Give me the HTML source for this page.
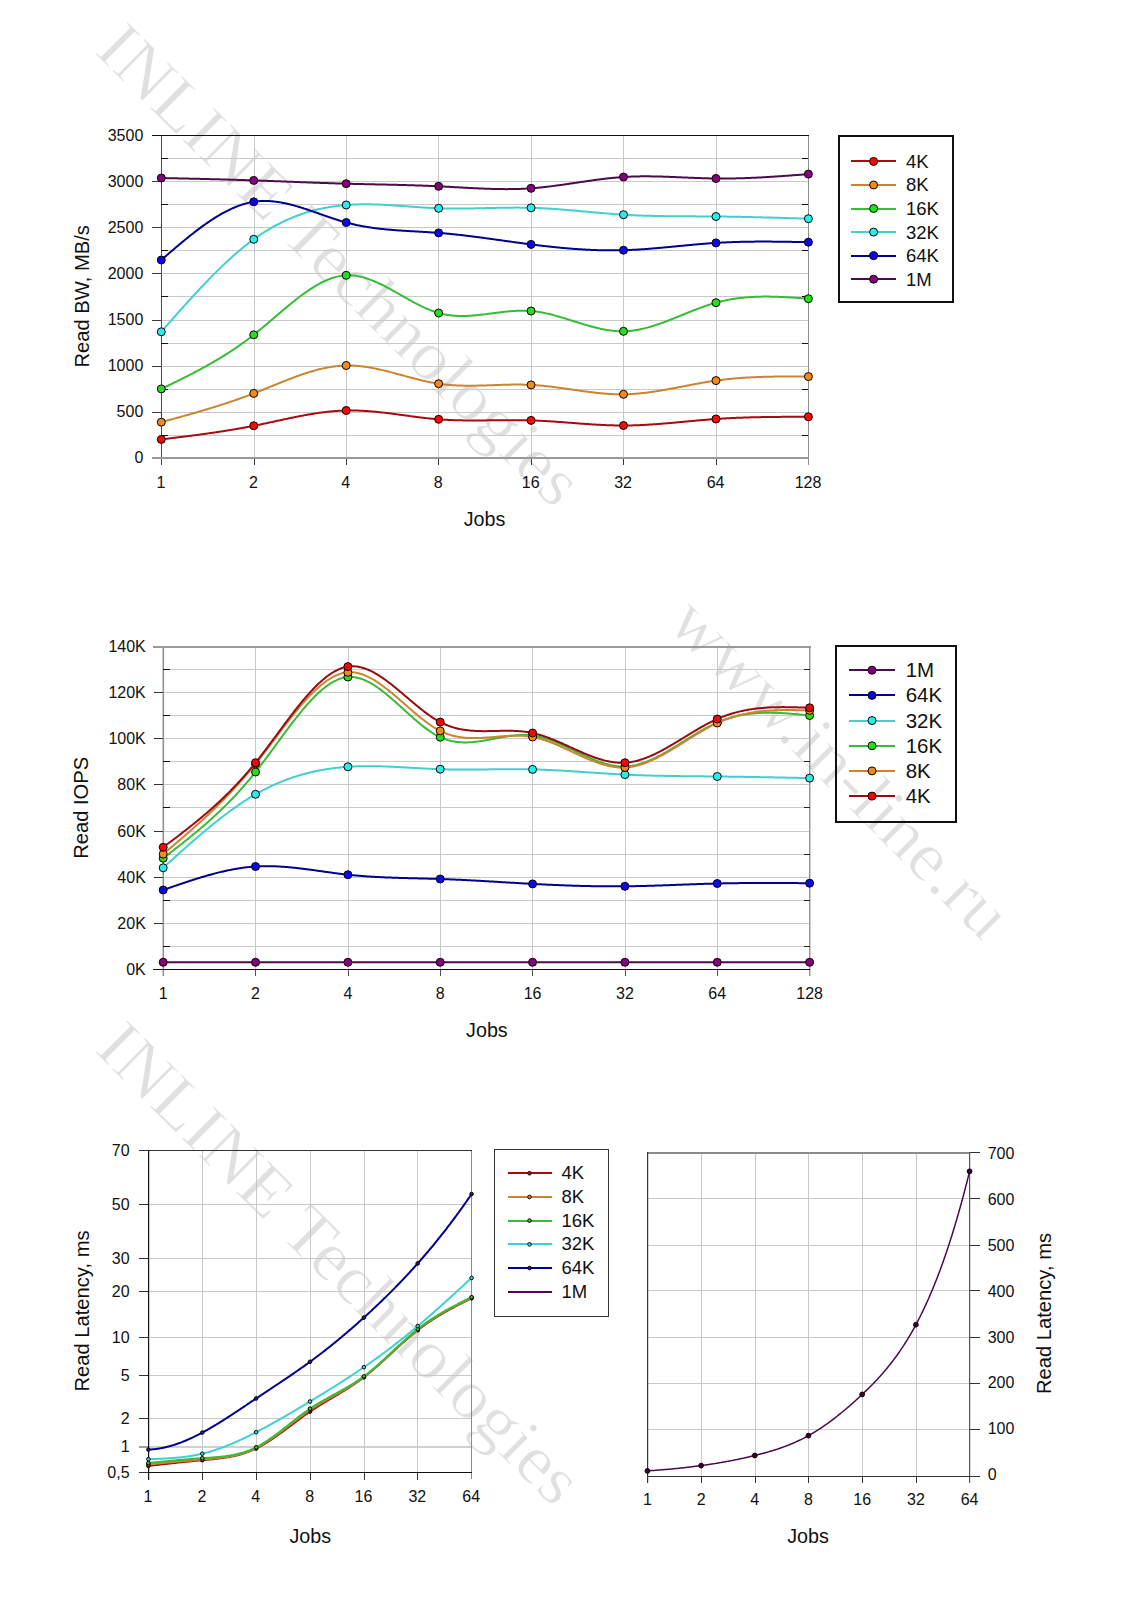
<!DOCTYPE html>
<html><head><meta charset="utf-8"><title>Read benchmark charts</title>
<style>html,body{margin:0;padding:0;background:#fff;width:1132px;height:1600px;overflow:hidden}svg{display:block}</style>
</head><body>
<svg width="1132" height="1600" viewBox="0 0 1132 1600" font-family='"Liberation Sans", sans-serif' shape-rendering="auto">
<rect width="1132" height="1600" fill="#fff"/>
<text x="0" y="0" font-family='"Liberation Serif", serif' font-size="70" fill="#e0e0e0" stroke="#fff" stroke-width="0.9" transform="translate(93.1 52) rotate(44.8) scale(1.0460 1.0000)">INLINE Technologies</text>
<text x="0" y="0" font-family='"Liberation Serif", serif' font-size="70" fill="#e0e0e0" stroke="#fff" stroke-width="0.9" transform="translate(93 1050.6) rotate(44.8) scale(1.0460 1.0000)">INLINE Technologies</text>
<text x="0" y="0" font-family='"Liberation Serif", serif' font-size="70" fill="#e0e0e0" stroke="#fff" stroke-width="0.9" transform="translate(665.75 625.1) rotate(45.04) scale(1.0610 0.9970)">www.in-line.ru</text>
<rect x="161" y="435" width="648" height="1" fill="#c9c9c9"/>
<rect x="161" y="412" width="648" height="1" fill="#c9c9c9"/>
<rect x="161" y="389" width="648" height="1" fill="#c9c9c9"/>
<rect x="161" y="366" width="648" height="1" fill="#c9c9c9"/>
<rect x="161" y="343" width="648" height="1" fill="#c9c9c9"/>
<rect x="161" y="320" width="648" height="1" fill="#c9c9c9"/>
<rect x="161" y="296" width="648" height="1" fill="#c9c9c9"/>
<rect x="161" y="273" width="648" height="1" fill="#c9c9c9"/>
<rect x="161" y="250" width="648" height="1" fill="#c9c9c9"/>
<rect x="161" y="227" width="648" height="1" fill="#c9c9c9"/>
<rect x="161" y="204" width="648" height="1" fill="#c9c9c9"/>
<rect x="161" y="181" width="648" height="1" fill="#c9c9c9"/>
<rect x="161" y="158" width="648" height="1" fill="#c9c9c9"/>
<rect x="254" y="136" width="1" height="321" fill="#c9c9c9"/>
<rect x="346" y="136" width="1" height="321" fill="#c9c9c9"/>
<rect x="438" y="136" width="1" height="321" fill="#c9c9c9"/>
<rect x="531" y="136" width="1" height="321" fill="#c9c9c9"/>
<rect x="623" y="136" width="1" height="321" fill="#c9c9c9"/>
<rect x="716" y="136" width="1" height="321" fill="#c9c9c9"/>
<rect x="808" y="135" width="1" height="330" fill="#8c8c8c"/>
<rect x="161" y="135" width="1" height="330" fill="#4a4a4a"/>
<rect x="152" y="135" width="657" height="1" fill="#111"/>
<rect x="152" y="457" width="657" height="2" fill="#999999"/>
<rect x="152" y="412" width="9" height="1" fill="#3a3a3a"/>
<rect x="152" y="366" width="9" height="1" fill="#3a3a3a"/>
<rect x="152" y="320" width="9" height="1" fill="#3a3a3a"/>
<rect x="152" y="273" width="9" height="1" fill="#3a3a3a"/>
<rect x="152" y="227" width="9" height="1" fill="#3a3a3a"/>
<rect x="152" y="181" width="9" height="1" fill="#3a3a3a"/>
<rect x="161" y="435" width="7" height="1" fill="#111"/>
<rect x="802" y="435" width="6" height="1" fill="#111"/>
<rect x="161" y="389" width="7" height="1" fill="#111"/>
<rect x="802" y="389" width="6" height="1" fill="#111"/>
<rect x="161" y="343" width="7" height="1" fill="#111"/>
<rect x="802" y="343" width="6" height="1" fill="#111"/>
<rect x="161" y="296" width="7" height="1" fill="#111"/>
<rect x="802" y="296" width="6" height="1" fill="#111"/>
<rect x="161" y="250" width="7" height="1" fill="#111"/>
<rect x="802" y="250" width="6" height="1" fill="#111"/>
<rect x="161" y="204" width="7" height="1" fill="#111"/>
<rect x="802" y="204" width="6" height="1" fill="#111"/>
<rect x="161" y="158" width="7" height="1" fill="#111"/>
<rect x="802" y="158" width="6" height="1" fill="#111"/>
<rect x="254" y="459" width="1" height="6" fill="#3a3a3a"/>
<rect x="346" y="459" width="1" height="6" fill="#3a3a3a"/>
<rect x="438" y="459" width="1" height="6" fill="#3a3a3a"/>
<rect x="531" y="459" width="1" height="6" fill="#3a3a3a"/>
<rect x="623" y="459" width="1" height="6" fill="#3a3a3a"/>
<rect x="716" y="459" width="1" height="6" fill="#3a3a3a"/>
<text x="143.3" y="463.48" font-size="16" text-anchor="end" fill="#111" >0</text>
<text x="143.3" y="417.34" font-size="16" text-anchor="end" fill="#111" >500</text>
<text x="143.3" y="371.2" font-size="16" text-anchor="end" fill="#111" >1000</text>
<text x="143.3" y="325.06" font-size="16" text-anchor="end" fill="#111" >1500</text>
<text x="143.3" y="278.92" font-size="16" text-anchor="end" fill="#111" >2000</text>
<text x="143.3" y="232.78" font-size="16" text-anchor="end" fill="#111" >2500</text>
<text x="143.3" y="186.64" font-size="16" text-anchor="end" fill="#111" >3000</text>
<text x="143.3" y="140.5" font-size="16" text-anchor="end" fill="#111" >3500</text>
<text x="160.9" y="487.6" font-size="16" text-anchor="middle" fill="#111" >1</text>
<text x="253.34" y="487.6" font-size="16" text-anchor="middle" fill="#111" >2</text>
<text x="345.79" y="487.6" font-size="16" text-anchor="middle" fill="#111" >4</text>
<text x="438.23" y="487.6" font-size="16" text-anchor="middle" fill="#111" >8</text>
<text x="530.67" y="487.6" font-size="16" text-anchor="middle" fill="#111" >16</text>
<text x="623.11" y="487.6" font-size="16" text-anchor="middle" fill="#111" >32</text>
<text x="715.56" y="487.6" font-size="16" text-anchor="middle" fill="#111" >64</text>
<text x="808" y="487.6" font-size="16" text-anchor="middle" fill="#111" >128</text>
<text x="484.5" y="526.3" font-size="19.7" text-anchor="middle" fill="#111" >Jobs</text>
<text x="88.9" y="296.3" font-size="20.2" text-anchor="middle" fill="#111" transform="rotate(-90 88.9 296.3)">Read BW, MB/s</text>
<path d="M161.3,439.4 L162.3,439.28 L163.3,439.16 L164.3,439.04 L165.3,438.91 L166.3,438.79 L167.3,438.67 L168.3,438.55 L169.3,438.43 L170.3,438.3 L171.3,438.18 L172.3,438.06 L173.3,437.94 L174.3,437.81 L175.3,437.69 L176.3,437.57 L177.3,437.44 L178.3,437.32 L179.3,437.2 L180.3,437.07 L181.3,436.95 L182.3,436.82 L183.3,436.7 L184.3,436.57 L185.3,436.44 L186.3,436.32 L187.3,436.19 L188.3,436.06 L189.3,435.93 L190.3,435.8 L191.3,435.68 L192.3,435.55 L193.3,435.41 L194.3,435.28 L195.3,435.15 L196.3,435.02 L197.3,434.89 L198.3,434.75 L199.3,434.62 L200.3,434.48 L201.3,434.35 L202.3,434.21 L203.3,434.08 L204.3,433.94 L205.3,433.8 L206.3,433.66 L207.3,433.52 L208.3,433.38 L209.3,433.24 L210.3,433.1 L211.3,432.95 L212.3,432.81 L213.3,432.66 L214.3,432.52 L215.3,432.37 L216.3,432.22 L217.3,432.07 L218.3,431.92 L219.3,431.77 L220.3,431.62 L221.3,431.46 L222.3,431.31 L223.3,431.15 L224.3,431 L225.3,430.84 L226.3,430.68 L227.3,430.52 L228.3,430.36 L229.3,430.2 L230.3,430.03 L231.3,429.87 L232.3,429.7 L233.3,429.53 L234.3,429.37 L235.3,429.2 L236.3,429.02 L237.3,428.85 L238.3,428.68 L239.3,428.5 L240.3,428.32 L241.3,428.15 L242.3,427.97 L243.3,427.78 L244.3,427.6 L245.3,427.42 L246.3,427.23 L247.3,427.04 L248.3,426.86 L249.3,426.67 L250.3,426.47 L251.3,426.28 L252.3,426.08 L253.3,425.89 L254.3,425.69 L255.3,425.49 L256.3,425.29 L257.3,425.08 L258.3,424.88 L259.3,424.67 L260.3,424.47 L261.3,424.26 L262.3,424.05 L263.3,423.84 L264.3,423.63 L265.3,423.42 L266.3,423.2 L267.3,422.99 L268.3,422.77 L269.3,422.56 L270.3,422.34 L271.3,422.13 L272.3,421.91 L273.3,421.7 L274.3,421.48 L275.3,421.26 L276.3,421.05 L277.3,420.83 L278.3,420.62 L279.3,420.4 L280.3,420.18 L281.3,419.97 L282.3,419.75 L283.3,419.54 L284.3,419.33 L285.3,419.11 L286.3,418.9 L287.3,418.69 L288.3,418.48 L289.3,418.27 L290.3,418.06 L291.3,417.85 L292.3,417.65 L293.3,417.44 L294.3,417.24 L295.3,417.04 L296.3,416.84 L297.3,416.64 L298.3,416.44 L299.3,416.25 L300.3,416.05 L301.3,415.86 L302.3,415.67 L303.3,415.49 L304.3,415.3 L305.3,415.12 L306.3,414.94 L307.3,414.76 L308.3,414.58 L309.3,414.41 L310.3,414.24 L311.3,414.07 L312.3,413.91 L313.3,413.75 L314.3,413.59 L315.3,413.43 L316.3,413.28 L317.3,413.13 L318.3,412.98 L319.3,412.84 L320.3,412.7 L321.3,412.56 L322.3,412.43 L323.3,412.3 L324.3,412.17 L325.3,412.05 L326.3,411.93 L327.3,411.82 L328.3,411.71 L329.3,411.6 L330.3,411.5 L331.3,411.4 L332.3,411.31 L333.3,411.22 L334.3,411.13 L335.3,411.05 L336.3,410.98 L337.3,410.91 L338.3,410.84 L339.3,410.78 L340.3,410.73 L341.3,410.67 L342.3,410.63 L343.3,410.59 L344.3,410.55 L345.3,410.52 L346.3,410.5 L347.3,410.48 L348.3,410.46 L349.3,410.46 L350.3,410.45 L351.3,410.45 L352.3,410.46 L353.3,410.47 L354.3,410.49 L355.3,410.51 L356.3,410.53 L357.3,410.56 L358.3,410.6 L359.3,410.64 L360.3,410.68 L361.3,410.73 L362.3,410.78 L363.3,410.83 L364.3,410.89 L365.3,410.96 L366.3,411.02 L367.3,411.09 L368.3,411.16 L369.3,411.24 L370.3,411.32 L371.3,411.4 L372.3,411.49 L373.3,411.58 L374.3,411.67 L375.3,411.77 L376.3,411.87 L377.3,411.97 L378.3,412.07 L379.3,412.17 L380.3,412.28 L381.3,412.39 L382.3,412.5 L383.3,412.62 L384.3,412.73 L385.3,412.85 L386.3,412.97 L387.3,413.09 L388.3,413.22 L389.3,413.34 L390.3,413.47 L391.3,413.59 L392.3,413.72 L393.3,413.85 L394.3,413.98 L395.3,414.11 L396.3,414.24 L397.3,414.38 L398.3,414.51 L399.3,414.64 L400.3,414.78 L401.3,414.91 L402.3,415.05 L403.3,415.18 L404.3,415.32 L405.3,415.45 L406.3,415.59 L407.3,415.72 L408.3,415.86 L409.3,415.99 L410.3,416.13 L411.3,416.26 L412.3,416.39 L413.3,416.52 L414.3,416.65 L415.3,416.78 L416.3,416.91 L417.3,417.04 L418.3,417.16 L419.3,417.29 L420.3,417.41 L421.3,417.53 L422.3,417.65 L423.3,417.77 L424.3,417.89 L425.3,418 L426.3,418.12 L427.3,418.23 L428.3,418.33 L429.3,418.44 L430.3,418.54 L431.3,418.64 L432.3,418.74 L433.3,418.84 L434.3,418.93 L435.3,419.02 L436.3,419.11 L437.3,419.19 L438.3,419.27 L439.3,419.35 L440.3,419.43 L441.3,419.5 L442.3,419.57 L443.3,419.63 L444.3,419.69 L445.3,419.75 L446.3,419.81 L447.3,419.86 L448.3,419.91 L449.3,419.96 L450.3,420 L451.3,420.05 L452.3,420.09 L453.3,420.13 L454.3,420.16 L455.3,420.19 L456.3,420.22 L457.3,420.25 L458.3,420.28 L459.3,420.3 L460.3,420.33 L461.3,420.35 L462.3,420.36 L463.3,420.38 L464.3,420.39 L465.3,420.41 L466.3,420.42 L467.3,420.43 L468.3,420.44 L469.3,420.44 L470.3,420.45 L471.3,420.45 L472.3,420.45 L473.3,420.45 L474.3,420.45 L475.3,420.45 L476.3,420.45 L477.3,420.45 L478.3,420.44 L479.3,420.44 L480.3,420.43 L481.3,420.42 L482.3,420.42 L483.3,420.41 L484.3,420.4 L485.3,420.39 L486.3,420.38 L487.3,420.37 L488.3,420.36 L489.3,420.35 L490.3,420.34 L491.3,420.32 L492.3,420.31 L493.3,420.3 L494.3,420.29 L495.3,420.28 L496.3,420.27 L497.3,420.26 L498.3,420.24 L499.3,420.23 L500.3,420.22 L501.3,420.21 L502.3,420.2 L503.3,420.19 L504.3,420.19 L505.3,420.18 L506.3,420.17 L507.3,420.17 L508.3,420.16 L509.3,420.16 L510.3,420.15 L511.3,420.15 L512.3,420.15 L513.3,420.15 L514.3,420.15 L515.3,420.15 L516.3,420.15 L517.3,420.16 L518.3,420.17 L519.3,420.17 L520.3,420.18 L521.3,420.19 L522.3,420.21 L523.3,420.22 L524.3,420.24 L525.3,420.26 L526.3,420.28 L527.3,420.3 L528.3,420.32 L529.3,420.35 L530.3,420.38 L531.3,420.41 L532.3,420.44 L533.3,420.47 L534.3,420.51 L535.3,420.55 L536.3,420.59 L537.3,420.64 L538.3,420.68 L539.3,420.73 L540.3,420.78 L541.3,420.83 L542.3,420.88 L543.3,420.93 L544.3,420.99 L545.3,421.05 L546.3,421.1 L547.3,421.16 L548.3,421.23 L549.3,421.29 L550.3,421.35 L551.3,421.42 L552.3,421.48 L553.3,421.55 L554.3,421.62 L555.3,421.69 L556.3,421.76 L557.3,421.83 L558.3,421.9 L559.3,421.97 L560.3,422.04 L561.3,422.12 L562.3,422.19 L563.3,422.27 L564.3,422.34 L565.3,422.42 L566.3,422.49 L567.3,422.57 L568.3,422.64 L569.3,422.72 L570.3,422.8 L571.3,422.87 L572.3,422.95 L573.3,423.03 L574.3,423.1 L575.3,423.18 L576.3,423.25 L577.3,423.33 L578.3,423.4 L579.3,423.48 L580.3,423.55 L581.3,423.63 L582.3,423.7 L583.3,423.77 L584.3,423.85 L585.3,423.92 L586.3,423.99 L587.3,424.06 L588.3,424.12 L589.3,424.19 L590.3,424.26 L591.3,424.32 L592.3,424.39 L593.3,424.45 L594.3,424.51 L595.3,424.57 L596.3,424.63 L597.3,424.69 L598.3,424.75 L599.3,424.8 L600.3,424.85 L601.3,424.91 L602.3,424.96 L603.3,425 L604.3,425.05 L605.3,425.09 L606.3,425.14 L607.3,425.18 L608.3,425.21 L609.3,425.25 L610.3,425.28 L611.3,425.32 L612.3,425.34 L613.3,425.37 L614.3,425.4 L615.3,425.42 L616.3,425.44 L617.3,425.46 L618.3,425.47 L619.3,425.48 L620.3,425.49 L621.3,425.5 L622.3,425.5 L623.3,425.5 L624.3,425.5 L625.3,425.49 L626.3,425.48 L627.3,425.47 L628.3,425.46 L629.3,425.44 L630.3,425.42 L631.3,425.4 L632.3,425.38 L633.3,425.35 L634.3,425.32 L635.3,425.29 L636.3,425.25 L637.3,425.22 L638.3,425.18 L639.3,425.13 L640.3,425.09 L641.3,425.05 L642.3,425 L643.3,424.95 L644.3,424.89 L645.3,424.84 L646.3,424.78 L647.3,424.73 L648.3,424.67 L649.3,424.61 L650.3,424.54 L651.3,424.48 L652.3,424.41 L653.3,424.34 L654.3,424.27 L655.3,424.2 L656.3,424.13 L657.3,424.06 L658.3,423.98 L659.3,423.9 L660.3,423.83 L661.3,423.75 L662.3,423.67 L663.3,423.59 L664.3,423.5 L665.3,423.42 L666.3,423.34 L667.3,423.25 L668.3,423.16 L669.3,423.08 L670.3,422.99 L671.3,422.9 L672.3,422.81 L673.3,422.72 L674.3,422.63 L675.3,422.54 L676.3,422.45 L677.3,422.36 L678.3,422.27 L679.3,422.18 L680.3,422.08 L681.3,421.99 L682.3,421.9 L683.3,421.8 L684.3,421.71 L685.3,421.62 L686.3,421.52 L687.3,421.43 L688.3,421.34 L689.3,421.25 L690.3,421.15 L691.3,421.06 L692.3,420.97 L693.3,420.88 L694.3,420.79 L695.3,420.69 L696.3,420.6 L697.3,420.51 L698.3,420.43 L699.3,420.34 L700.3,420.25 L701.3,420.16 L702.3,420.08 L703.3,419.99 L704.3,419.91 L705.3,419.82 L706.3,419.74 L707.3,419.66 L708.3,419.58 L709.3,419.5 L710.3,419.42 L711.3,419.34 L712.3,419.27 L713.3,419.19 L714.3,419.12 L715.3,419.05 L716.3,418.98 L717.3,418.91 L718.3,418.84 L719.3,418.77 L720.3,418.71 L721.3,418.65 L722.3,418.59 L723.3,418.53 L724.3,418.47 L725.3,418.41 L726.3,418.35 L727.3,418.3 L728.3,418.25 L729.3,418.19 L730.3,418.14 L731.3,418.09 L732.3,418.04 L733.3,418 L734.3,417.95 L735.3,417.91 L736.3,417.86 L737.3,417.82 L738.3,417.78 L739.3,417.74 L740.3,417.7 L741.3,417.66 L742.3,417.63 L743.3,417.59 L744.3,417.56 L745.3,417.52 L746.3,417.49 L747.3,417.46 L748.3,417.43 L749.3,417.4 L750.3,417.37 L751.3,417.34 L752.3,417.32 L753.3,417.29 L754.3,417.27 L755.3,417.24 L756.3,417.22 L757.3,417.2 L758.3,417.17 L759.3,417.15 L760.3,417.13 L761.3,417.12 L762.3,417.1 L763.3,417.08 L764.3,417.06 L765.3,417.05 L766.3,417.03 L767.3,417.02 L768.3,417 L769.3,416.99 L770.3,416.98 L771.3,416.96 L772.3,416.95 L773.3,416.94 L774.3,416.93 L775.3,416.92 L776.3,416.91 L777.3,416.9 L778.3,416.89 L779.3,416.89 L780.3,416.88 L781.3,416.87 L782.3,416.87 L783.3,416.86 L784.3,416.85 L785.3,416.85 L786.3,416.84 L787.3,416.84 L788.3,416.84 L789.3,416.83 L790.3,416.83 L791.3,416.83 L792.3,416.82 L793.3,416.82 L794.3,416.82 L795.3,416.82 L796.3,416.81 L797.3,416.81 L798.3,416.81 L799.3,416.81 L800.3,416.81 L801.3,416.81 L802.3,416.8 L803.3,416.8 L804.3,416.8 L805.3,416.8 L806.3,416.8 L807.3,416.8 L808.3,416.8 L808.4,416.8" fill="none" stroke="#a80a12" stroke-width="2" stroke-linejoin="round"/>
<circle cx="161.3" cy="439.4" r="4" fill="#f80808" stroke="#140000" stroke-width="1"/>
<circle cx="253.74" cy="425.8" r="4" fill="#f80808" stroke="#140000" stroke-width="1"/>
<circle cx="346.19" cy="410.5" r="4" fill="#f80808" stroke="#140000" stroke-width="1"/>
<circle cx="438.63" cy="419.3" r="4" fill="#f80808" stroke="#140000" stroke-width="1"/>
<circle cx="531.07" cy="420.4" r="4" fill="#f80808" stroke="#140000" stroke-width="1"/>
<circle cx="623.51" cy="425.5" r="4" fill="#f80808" stroke="#140000" stroke-width="1"/>
<circle cx="715.96" cy="419" r="4" fill="#f80808" stroke="#140000" stroke-width="1"/>
<circle cx="808.4" cy="416.8" r="4" fill="#f80808" stroke="#140000" stroke-width="1"/>
<path d="M161.3,422.2 L162.3,421.93 L163.3,421.65 L164.3,421.38 L165.3,421.1 L166.3,420.83 L167.3,420.56 L168.3,420.28 L169.3,420.01 L170.3,419.73 L171.3,419.46 L172.3,419.18 L173.3,418.9 L174.3,418.63 L175.3,418.35 L176.3,418.08 L177.3,417.8 L178.3,417.52 L179.3,417.24 L180.3,416.96 L181.3,416.69 L182.3,416.41 L183.3,416.13 L184.3,415.85 L185.3,415.56 L186.3,415.28 L187.3,415 L188.3,414.72 L189.3,414.43 L190.3,414.15 L191.3,413.86 L192.3,413.58 L193.3,413.29 L194.3,413 L195.3,412.71 L196.3,412.42 L197.3,412.13 L198.3,411.84 L199.3,411.55 L200.3,411.25 L201.3,410.96 L202.3,410.66 L203.3,410.37 L204.3,410.07 L205.3,409.77 L206.3,409.47 L207.3,409.17 L208.3,408.87 L209.3,408.56 L210.3,408.26 L211.3,407.95 L212.3,407.64 L213.3,407.34 L214.3,407.02 L215.3,406.71 L216.3,406.4 L217.3,406.09 L218.3,405.77 L219.3,405.45 L220.3,405.13 L221.3,404.81 L222.3,404.49 L223.3,404.17 L224.3,403.84 L225.3,403.51 L226.3,403.18 L227.3,402.85 L228.3,402.52 L229.3,402.19 L230.3,401.85 L231.3,401.51 L232.3,401.17 L233.3,400.83 L234.3,400.49 L235.3,400.14 L236.3,399.8 L237.3,399.45 L238.3,399.1 L239.3,398.74 L240.3,398.39 L241.3,398.03 L242.3,397.67 L243.3,397.31 L244.3,396.95 L245.3,396.58 L246.3,396.21 L247.3,395.84 L248.3,395.47 L249.3,395.09 L250.3,394.72 L251.3,394.34 L252.3,393.96 L253.3,393.57 L254.3,393.18 L255.3,392.8 L256.3,392.4 L257.3,392.01 L258.3,391.61 L259.3,391.22 L260.3,390.82 L261.3,390.42 L262.3,390.02 L263.3,389.61 L264.3,389.21 L265.3,388.8 L266.3,388.4 L267.3,387.99 L268.3,387.58 L269.3,387.18 L270.3,386.77 L271.3,386.36 L272.3,385.95 L273.3,385.54 L274.3,385.14 L275.3,384.73 L276.3,384.32 L277.3,383.92 L278.3,383.51 L279.3,383.11 L280.3,382.7 L281.3,382.3 L282.3,381.9 L283.3,381.5 L284.3,381.11 L285.3,380.71 L286.3,380.32 L287.3,379.92 L288.3,379.54 L289.3,379.15 L290.3,378.76 L291.3,378.38 L292.3,378 L293.3,377.63 L294.3,377.25 L295.3,376.88 L296.3,376.52 L297.3,376.15 L298.3,375.8 L299.3,375.44 L300.3,375.09 L301.3,374.74 L302.3,374.4 L303.3,374.06 L304.3,373.72 L305.3,373.39 L306.3,373.07 L307.3,372.75 L308.3,372.43 L309.3,372.12 L310.3,371.81 L311.3,371.51 L312.3,371.22 L313.3,370.93 L314.3,370.65 L315.3,370.37 L316.3,370.1 L317.3,369.83 L318.3,369.58 L319.3,369.32 L320.3,369.08 L321.3,368.84 L322.3,368.61 L323.3,368.39 L324.3,368.17 L325.3,367.96 L326.3,367.76 L327.3,367.56 L328.3,367.37 L329.3,367.2 L330.3,367.03 L331.3,366.86 L332.3,366.71 L333.3,366.56 L334.3,366.42 L335.3,366.3 L336.3,366.18 L337.3,366.07 L338.3,365.96 L339.3,365.87 L340.3,365.79 L341.3,365.72 L342.3,365.65 L343.3,365.6 L344.3,365.55 L345.3,365.52 L346.3,365.5 L347.3,365.48 L348.3,365.48 L349.3,365.49 L350.3,365.51 L351.3,365.53 L352.3,365.57 L353.3,365.61 L354.3,365.67 L355.3,365.73 L356.3,365.8 L357.3,365.88 L358.3,365.97 L359.3,366.07 L360.3,366.17 L361.3,366.29 L362.3,366.41 L363.3,366.54 L364.3,366.67 L365.3,366.81 L366.3,366.96 L367.3,367.12 L368.3,367.28 L369.3,367.45 L370.3,367.62 L371.3,367.8 L372.3,367.99 L373.3,368.18 L374.3,368.37 L375.3,368.58 L376.3,368.78 L377.3,369 L378.3,369.21 L379.3,369.43 L380.3,369.66 L381.3,369.89 L382.3,370.12 L383.3,370.36 L384.3,370.6 L385.3,370.84 L386.3,371.09 L387.3,371.34 L388.3,371.59 L389.3,371.84 L390.3,372.1 L391.3,372.36 L392.3,372.62 L393.3,372.89 L394.3,373.15 L395.3,373.42 L396.3,373.69 L397.3,373.96 L398.3,374.23 L399.3,374.5 L400.3,374.77 L401.3,375.04 L402.3,375.31 L403.3,375.58 L404.3,375.85 L405.3,376.13 L406.3,376.4 L407.3,376.67 L408.3,376.93 L409.3,377.2 L410.3,377.47 L411.3,377.73 L412.3,378 L413.3,378.26 L414.3,378.52 L415.3,378.78 L416.3,379.03 L417.3,379.28 L418.3,379.53 L419.3,379.78 L420.3,380.02 L421.3,380.26 L422.3,380.5 L423.3,380.73 L424.3,380.96 L425.3,381.18 L426.3,381.41 L427.3,381.62 L428.3,381.83 L429.3,382.04 L430.3,382.24 L431.3,382.44 L432.3,382.63 L433.3,382.81 L434.3,382.99 L435.3,383.17 L436.3,383.33 L437.3,383.5 L438.3,383.65 L439.3,383.8 L440.3,383.94 L441.3,384.08 L442.3,384.2 L443.3,384.33 L444.3,384.44 L445.3,384.55 L446.3,384.66 L447.3,384.75 L448.3,384.85 L449.3,384.93 L450.3,385.02 L451.3,385.09 L452.3,385.16 L453.3,385.23 L454.3,385.29 L455.3,385.35 L456.3,385.4 L457.3,385.45 L458.3,385.49 L459.3,385.53 L460.3,385.56 L461.3,385.59 L462.3,385.62 L463.3,385.64 L464.3,385.66 L465.3,385.67 L466.3,385.69 L467.3,385.69 L468.3,385.7 L469.3,385.7 L470.3,385.7 L471.3,385.7 L472.3,385.69 L473.3,385.68 L474.3,385.67 L475.3,385.66 L476.3,385.64 L477.3,385.62 L478.3,385.6 L479.3,385.58 L480.3,385.55 L481.3,385.53 L482.3,385.5 L483.3,385.47 L484.3,385.44 L485.3,385.41 L486.3,385.38 L487.3,385.35 L488.3,385.32 L489.3,385.28 L490.3,385.25 L491.3,385.21 L492.3,385.18 L493.3,385.14 L494.3,385.11 L495.3,385.07 L496.3,385.04 L497.3,385 L498.3,384.97 L499.3,384.93 L500.3,384.9 L501.3,384.87 L502.3,384.84 L503.3,384.81 L504.3,384.78 L505.3,384.75 L506.3,384.73 L507.3,384.7 L508.3,384.68 L509.3,384.66 L510.3,384.64 L511.3,384.62 L512.3,384.61 L513.3,384.6 L514.3,384.59 L515.3,384.58 L516.3,384.57 L517.3,384.57 L518.3,384.57 L519.3,384.58 L520.3,384.59 L521.3,384.6 L522.3,384.61 L523.3,384.63 L524.3,384.65 L525.3,384.67 L526.3,384.7 L527.3,384.74 L528.3,384.77 L529.3,384.82 L530.3,384.86 L531.3,384.91 L532.3,384.97 L533.3,385.03 L534.3,385.09 L535.3,385.16 L536.3,385.23 L537.3,385.31 L538.3,385.39 L539.3,385.47 L540.3,385.56 L541.3,385.65 L542.3,385.75 L543.3,385.84 L544.3,385.95 L545.3,386.05 L546.3,386.16 L547.3,386.27 L548.3,386.38 L549.3,386.5 L550.3,386.61 L551.3,386.73 L552.3,386.86 L553.3,386.98 L554.3,387.11 L555.3,387.24 L556.3,387.37 L557.3,387.5 L558.3,387.64 L559.3,387.77 L560.3,387.91 L561.3,388.05 L562.3,388.19 L563.3,388.33 L564.3,388.47 L565.3,388.61 L566.3,388.76 L567.3,388.9 L568.3,389.04 L569.3,389.19 L570.3,389.33 L571.3,389.48 L572.3,389.62 L573.3,389.77 L574.3,389.91 L575.3,390.05 L576.3,390.2 L577.3,390.34 L578.3,390.48 L579.3,390.63 L580.3,390.77 L581.3,390.91 L582.3,391.04 L583.3,391.18 L584.3,391.32 L585.3,391.45 L586.3,391.58 L587.3,391.71 L588.3,391.84 L589.3,391.97 L590.3,392.1 L591.3,392.22 L592.3,392.34 L593.3,392.46 L594.3,392.57 L595.3,392.68 L596.3,392.8 L597.3,392.9 L598.3,393.01 L599.3,393.11 L600.3,393.21 L601.3,393.3 L602.3,393.39 L603.3,393.48 L604.3,393.56 L605.3,393.64 L606.3,393.72 L607.3,393.79 L608.3,393.86 L609.3,393.92 L610.3,393.98 L611.3,394.04 L612.3,394.09 L613.3,394.13 L614.3,394.17 L615.3,394.21 L616.3,394.24 L617.3,394.27 L618.3,394.29 L619.3,394.3 L620.3,394.31 L621.3,394.31 L622.3,394.31 L623.3,394.3 L624.3,394.29 L625.3,394.27 L626.3,394.24 L627.3,394.21 L628.3,394.17 L629.3,394.13 L630.3,394.08 L631.3,394.03 L632.3,393.97 L633.3,393.91 L634.3,393.84 L635.3,393.76 L636.3,393.69 L637.3,393.6 L638.3,393.51 L639.3,393.42 L640.3,393.32 L641.3,393.22 L642.3,393.12 L643.3,393.01 L644.3,392.89 L645.3,392.78 L646.3,392.66 L647.3,392.53 L648.3,392.4 L649.3,392.27 L650.3,392.13 L651.3,391.99 L652.3,391.85 L653.3,391.71 L654.3,391.56 L655.3,391.4 L656.3,391.25 L657.3,391.09 L658.3,390.93 L659.3,390.77 L660.3,390.61 L661.3,390.44 L662.3,390.27 L663.3,390.1 L664.3,389.92 L665.3,389.75 L666.3,389.57 L667.3,389.39 L668.3,389.21 L669.3,389.03 L670.3,388.85 L671.3,388.66 L672.3,388.47 L673.3,388.29 L674.3,388.1 L675.3,387.91 L676.3,387.72 L677.3,387.53 L678.3,387.33 L679.3,387.14 L680.3,386.95 L681.3,386.76 L682.3,386.56 L683.3,386.37 L684.3,386.18 L685.3,385.98 L686.3,385.79 L687.3,385.6 L688.3,385.4 L689.3,385.21 L690.3,385.02 L691.3,384.83 L692.3,384.64 L693.3,384.45 L694.3,384.26 L695.3,384.07 L696.3,383.89 L697.3,383.7 L698.3,383.52 L699.3,383.33 L700.3,383.15 L701.3,382.97 L702.3,382.8 L703.3,382.62 L704.3,382.45 L705.3,382.28 L706.3,382.11 L707.3,381.94 L708.3,381.77 L709.3,381.61 L710.3,381.45 L711.3,381.29 L712.3,381.14 L713.3,380.99 L714.3,380.84 L715.3,380.69 L716.3,380.55 L717.3,380.41 L718.3,380.28 L719.3,380.14 L720.3,380.01 L721.3,379.89 L722.3,379.76 L723.3,379.64 L724.3,379.52 L725.3,379.41 L726.3,379.3 L727.3,379.19 L728.3,379.08 L729.3,378.98 L730.3,378.88 L731.3,378.78 L732.3,378.68 L733.3,378.59 L734.3,378.5 L735.3,378.41 L736.3,378.32 L737.3,378.24 L738.3,378.16 L739.3,378.08 L740.3,378.01 L741.3,377.94 L742.3,377.86 L743.3,377.8 L744.3,377.73 L745.3,377.67 L746.3,377.6 L747.3,377.54 L748.3,377.49 L749.3,377.43 L750.3,377.38 L751.3,377.33 L752.3,377.28 L753.3,377.23 L754.3,377.18 L755.3,377.14 L756.3,377.1 L757.3,377.06 L758.3,377.02 L759.3,376.98 L760.3,376.95 L761.3,376.92 L762.3,376.88 L763.3,376.85 L764.3,376.83 L765.3,376.8 L766.3,376.77 L767.3,376.75 L768.3,376.73 L769.3,376.71 L770.3,376.69 L771.3,376.67 L772.3,376.65 L773.3,376.64 L774.3,376.62 L775.3,376.61 L776.3,376.59 L777.3,376.58 L778.3,376.57 L779.3,376.56 L780.3,376.56 L781.3,376.55 L782.3,376.54 L783.3,376.54 L784.3,376.53 L785.3,376.53 L786.3,376.53 L787.3,376.53 L788.3,376.52 L789.3,376.52 L790.3,376.52 L791.3,376.52 L792.3,376.53 L793.3,376.53 L794.3,376.53 L795.3,376.53 L796.3,376.54 L797.3,376.54 L798.3,376.54 L799.3,376.55 L800.3,376.55 L801.3,376.56 L802.3,376.56 L803.3,376.57 L804.3,376.58 L805.3,376.58 L806.3,376.59 L807.3,376.59 L808.3,376.6 L808.4,376.6" fill="none" stroke="#cc8430" stroke-width="2" stroke-linejoin="round"/>
<circle cx="161.3" cy="422.2" r="4" fill="#f08a18" stroke="#140000" stroke-width="1"/>
<circle cx="253.74" cy="393.4" r="4" fill="#f08a18" stroke="#140000" stroke-width="1"/>
<circle cx="346.19" cy="365.5" r="4" fill="#f08a18" stroke="#140000" stroke-width="1"/>
<circle cx="438.63" cy="383.7" r="4" fill="#f08a18" stroke="#140000" stroke-width="1"/>
<circle cx="531.07" cy="384.9" r="4" fill="#f08a18" stroke="#140000" stroke-width="1"/>
<circle cx="623.51" cy="394.3" r="4" fill="#f08a18" stroke="#140000" stroke-width="1"/>
<circle cx="715.96" cy="380.6" r="4" fill="#f08a18" stroke="#140000" stroke-width="1"/>
<circle cx="808.4" cy="376.6" r="4" fill="#f08a18" stroke="#140000" stroke-width="1"/>
<path d="M161.3,388.9 L162.3,388.42 L163.3,387.93 L164.3,387.45 L165.3,386.96 L166.3,386.48 L167.3,385.99 L168.3,385.51 L169.3,385.02 L170.3,384.54 L171.3,384.05 L172.3,383.56 L173.3,383.07 L174.3,382.59 L175.3,382.09 L176.3,381.6 L177.3,381.11 L178.3,380.62 L179.3,380.12 L180.3,379.63 L181.3,379.13 L182.3,378.63 L183.3,378.13 L184.3,377.63 L185.3,377.13 L186.3,376.62 L187.3,376.11 L188.3,375.6 L189.3,375.09 L190.3,374.58 L191.3,374.07 L192.3,373.55 L193.3,373.03 L194.3,372.51 L195.3,371.99 L196.3,371.46 L197.3,370.93 L198.3,370.4 L199.3,369.87 L200.3,369.33 L201.3,368.79 L202.3,368.25 L203.3,367.7 L204.3,367.15 L205.3,366.6 L206.3,366.05 L207.3,365.49 L208.3,364.93 L209.3,364.37 L210.3,363.8 L211.3,363.23 L212.3,362.65 L213.3,362.07 L214.3,361.49 L215.3,360.91 L216.3,360.32 L217.3,359.72 L218.3,359.13 L219.3,358.53 L220.3,357.92 L221.3,357.31 L222.3,356.7 L223.3,356.08 L224.3,355.45 L225.3,354.83 L226.3,354.19 L227.3,353.56 L228.3,352.92 L229.3,352.27 L230.3,351.62 L231.3,350.96 L232.3,350.3 L233.3,349.64 L234.3,348.97 L235.3,348.29 L236.3,347.61 L237.3,346.92 L238.3,346.23 L239.3,345.53 L240.3,344.83 L241.3,344.12 L242.3,343.41 L243.3,342.69 L244.3,341.96 L245.3,341.23 L246.3,340.49 L247.3,339.74 L248.3,338.99 L249.3,338.24 L250.3,337.47 L251.3,336.71 L252.3,335.93 L253.3,335.15 L254.3,334.36 L255.3,333.56 L256.3,332.76 L257.3,331.96 L258.3,331.14 L259.3,330.33 L260.3,329.51 L261.3,328.68 L262.3,327.85 L263.3,327.01 L264.3,326.17 L265.3,325.33 L266.3,324.49 L267.3,323.64 L268.3,322.79 L269.3,321.94 L270.3,321.09 L271.3,320.23 L272.3,319.38 L273.3,318.52 L274.3,317.66 L275.3,316.81 L276.3,315.95 L277.3,315.09 L278.3,314.24 L279.3,313.38 L280.3,312.53 L281.3,311.68 L282.3,310.83 L283.3,309.98 L284.3,309.14 L285.3,308.3 L286.3,307.46 L287.3,306.63 L288.3,305.8 L289.3,304.97 L290.3,304.15 L291.3,303.34 L292.3,302.53 L293.3,301.72 L294.3,300.92 L295.3,300.13 L296.3,299.34 L297.3,298.56 L298.3,297.79 L299.3,297.03 L300.3,296.27 L301.3,295.52 L302.3,294.78 L303.3,294.05 L304.3,293.32 L305.3,292.61 L306.3,291.91 L307.3,291.21 L308.3,290.53 L309.3,289.86 L310.3,289.19 L311.3,288.54 L312.3,287.9 L313.3,287.28 L314.3,286.66 L315.3,286.06 L316.3,285.47 L317.3,284.89 L318.3,284.33 L319.3,283.78 L320.3,283.24 L321.3,282.72 L322.3,282.22 L323.3,281.73 L324.3,281.25 L325.3,280.79 L326.3,280.34 L327.3,279.92 L328.3,279.5 L329.3,279.11 L330.3,278.73 L331.3,278.37 L332.3,278.03 L333.3,277.71 L334.3,277.4 L335.3,277.11 L336.3,276.85 L337.3,276.6 L338.3,276.37 L339.3,276.16 L340.3,275.98 L341.3,275.81 L342.3,275.66 L343.3,275.54 L344.3,275.43 L345.3,275.35 L346.3,275.29 L347.3,275.26 L348.3,275.24 L349.3,275.25 L350.3,275.28 L351.3,275.33 L352.3,275.4 L353.3,275.49 L354.3,275.6 L355.3,275.73 L356.3,275.87 L357.3,276.04 L358.3,276.22 L359.3,276.43 L360.3,276.65 L361.3,276.88 L362.3,277.13 L363.3,277.4 L364.3,277.68 L365.3,277.98 L366.3,278.3 L367.3,278.62 L368.3,278.96 L369.3,279.32 L370.3,279.69 L371.3,280.07 L372.3,280.46 L373.3,280.87 L374.3,281.28 L375.3,281.71 L376.3,282.15 L377.3,282.59 L378.3,283.05 L379.3,283.52 L380.3,284 L381.3,284.48 L382.3,284.97 L383.3,285.47 L384.3,285.98 L385.3,286.5 L386.3,287.02 L387.3,287.54 L388.3,288.08 L389.3,288.62 L390.3,289.16 L391.3,289.71 L392.3,290.26 L393.3,290.81 L394.3,291.37 L395.3,291.93 L396.3,292.5 L397.3,293.06 L398.3,293.63 L399.3,294.2 L400.3,294.77 L401.3,295.34 L402.3,295.91 L403.3,296.47 L404.3,297.04 L405.3,297.61 L406.3,298.18 L407.3,298.74 L408.3,299.3 L409.3,299.86 L410.3,300.41 L411.3,300.96 L412.3,301.51 L413.3,302.05 L414.3,302.59 L415.3,303.12 L416.3,303.64 L417.3,304.16 L418.3,304.67 L419.3,305.18 L420.3,305.68 L421.3,306.17 L422.3,306.65 L423.3,307.12 L424.3,307.59 L425.3,308.04 L426.3,308.49 L427.3,308.92 L428.3,309.35 L429.3,309.76 L430.3,310.16 L431.3,310.55 L432.3,310.93 L433.3,311.29 L434.3,311.64 L435.3,311.98 L436.3,312.3 L437.3,312.61 L438.3,312.91 L439.3,313.19 L440.3,313.45 L441.3,313.7 L442.3,313.93 L443.3,314.15 L444.3,314.36 L445.3,314.55 L446.3,314.73 L447.3,314.89 L448.3,315.05 L449.3,315.19 L450.3,315.31 L451.3,315.43 L452.3,315.53 L453.3,315.63 L454.3,315.71 L455.3,315.78 L456.3,315.84 L457.3,315.89 L458.3,315.93 L459.3,315.96 L460.3,315.98 L461.3,315.99 L462.3,315.99 L463.3,315.98 L464.3,315.97 L465.3,315.94 L466.3,315.91 L467.3,315.88 L468.3,315.83 L469.3,315.78 L470.3,315.72 L471.3,315.65 L472.3,315.58 L473.3,315.51 L474.3,315.42 L475.3,315.34 L476.3,315.25 L477.3,315.15 L478.3,315.05 L479.3,314.94 L480.3,314.83 L481.3,314.72 L482.3,314.6 L483.3,314.49 L484.3,314.37 L485.3,314.24 L486.3,314.12 L487.3,313.99 L488.3,313.86 L489.3,313.73 L490.3,313.6 L491.3,313.47 L492.3,313.34 L493.3,313.21 L494.3,313.07 L495.3,312.94 L496.3,312.81 L497.3,312.69 L498.3,312.56 L499.3,312.43 L500.3,312.31 L501.3,312.19 L502.3,312.07 L503.3,311.95 L504.3,311.84 L505.3,311.73 L506.3,311.62 L507.3,311.52 L508.3,311.42 L509.3,311.33 L510.3,311.24 L511.3,311.16 L512.3,311.08 L513.3,311.01 L514.3,310.95 L515.3,310.89 L516.3,310.83 L517.3,310.79 L518.3,310.75 L519.3,310.72 L520.3,310.69 L521.3,310.68 L522.3,310.67 L523.3,310.67 L524.3,310.68 L525.3,310.7 L526.3,310.73 L527.3,310.76 L528.3,310.81 L529.3,310.87 L530.3,310.94 L531.3,311.02 L532.3,311.11 L533.3,311.21 L534.3,311.32 L535.3,311.45 L536.3,311.58 L537.3,311.72 L538.3,311.87 L539.3,312.03 L540.3,312.2 L541.3,312.38 L542.3,312.56 L543.3,312.76 L544.3,312.96 L545.3,313.17 L546.3,313.39 L547.3,313.61 L548.3,313.84 L549.3,314.08 L550.3,314.33 L551.3,314.58 L552.3,314.83 L553.3,315.09 L554.3,315.36 L555.3,315.63 L556.3,315.91 L557.3,316.19 L558.3,316.47 L559.3,316.76 L560.3,317.05 L561.3,317.35 L562.3,317.65 L563.3,317.95 L564.3,318.25 L565.3,318.56 L566.3,318.87 L567.3,319.18 L568.3,319.49 L569.3,319.8 L570.3,320.12 L571.3,320.43 L572.3,320.75 L573.3,321.06 L574.3,321.38 L575.3,321.69 L576.3,322.01 L577.3,322.32 L578.3,322.63 L579.3,322.94 L580.3,323.25 L581.3,323.56 L582.3,323.87 L583.3,324.17 L584.3,324.47 L585.3,324.77 L586.3,325.06 L587.3,325.35 L588.3,325.64 L589.3,325.93 L590.3,326.2 L591.3,326.48 L592.3,326.75 L593.3,327.01 L594.3,327.27 L595.3,327.53 L596.3,327.77 L597.3,328.02 L598.3,328.25 L599.3,328.48 L600.3,328.7 L601.3,328.92 L602.3,329.13 L603.3,329.33 L604.3,329.52 L605.3,329.7 L606.3,329.88 L607.3,330.04 L608.3,330.2 L609.3,330.35 L610.3,330.49 L611.3,330.62 L612.3,330.73 L613.3,330.84 L614.3,330.94 L615.3,331.03 L616.3,331.1 L617.3,331.17 L618.3,331.22 L619.3,331.26 L620.3,331.29 L621.3,331.31 L622.3,331.31 L623.3,331.3 L624.3,331.28 L625.3,331.25 L626.3,331.2 L627.3,331.14 L628.3,331.06 L629.3,330.98 L630.3,330.88 L631.3,330.77 L632.3,330.65 L633.3,330.52 L634.3,330.38 L635.3,330.22 L636.3,330.06 L637.3,329.89 L638.3,329.7 L639.3,329.51 L640.3,329.3 L641.3,329.09 L642.3,328.86 L643.3,328.63 L644.3,328.39 L645.3,328.14 L646.3,327.88 L647.3,327.62 L648.3,327.34 L649.3,327.06 L650.3,326.77 L651.3,326.48 L652.3,326.18 L653.3,325.87 L654.3,325.55 L655.3,325.23 L656.3,324.9 L657.3,324.56 L658.3,324.22 L659.3,323.88 L660.3,323.53 L661.3,323.17 L662.3,322.81 L663.3,322.45 L664.3,322.08 L665.3,321.7 L666.3,321.33 L667.3,320.95 L668.3,320.56 L669.3,320.17 L670.3,319.78 L671.3,319.39 L672.3,319 L673.3,318.6 L674.3,318.2 L675.3,317.8 L676.3,317.4 L677.3,316.99 L678.3,316.59 L679.3,316.18 L680.3,315.77 L681.3,315.37 L682.3,314.96 L683.3,314.55 L684.3,314.15 L685.3,313.74 L686.3,313.33 L687.3,312.93 L688.3,312.52 L689.3,312.12 L690.3,311.72 L691.3,311.32 L692.3,310.93 L693.3,310.53 L694.3,310.14 L695.3,309.75 L696.3,309.36 L697.3,308.98 L698.3,308.6 L699.3,308.22 L700.3,307.85 L701.3,307.48 L702.3,307.12 L703.3,306.76 L704.3,306.41 L705.3,306.06 L706.3,305.71 L707.3,305.37 L708.3,305.04 L709.3,304.71 L710.3,304.39 L711.3,304.08 L712.3,303.77 L713.3,303.47 L714.3,303.17 L715.3,302.88 L716.3,302.6 L717.3,302.33 L718.3,302.07 L719.3,301.81 L720.3,301.56 L721.3,301.32 L722.3,301.08 L723.3,300.86 L724.3,300.63 L725.3,300.42 L726.3,300.21 L727.3,300.01 L728.3,299.82 L729.3,299.63 L730.3,299.45 L731.3,299.28 L732.3,299.11 L733.3,298.95 L734.3,298.79 L735.3,298.64 L736.3,298.5 L737.3,298.36 L738.3,298.23 L739.3,298.1 L740.3,297.98 L741.3,297.87 L742.3,297.76 L743.3,297.66 L744.3,297.56 L745.3,297.47 L746.3,297.38 L747.3,297.3 L748.3,297.22 L749.3,297.15 L750.3,297.08 L751.3,297.02 L752.3,296.96 L753.3,296.91 L754.3,296.86 L755.3,296.81 L756.3,296.77 L757.3,296.74 L758.3,296.71 L759.3,296.68 L760.3,296.66 L761.3,296.64 L762.3,296.62 L763.3,296.61 L764.3,296.6 L765.3,296.6 L766.3,296.6 L767.3,296.6 L768.3,296.61 L769.3,296.62 L770.3,296.63 L771.3,296.65 L772.3,296.66 L773.3,296.69 L774.3,296.71 L775.3,296.74 L776.3,296.77 L777.3,296.8 L778.3,296.84 L779.3,296.88 L780.3,296.92 L781.3,296.96 L782.3,297 L783.3,297.05 L784.3,297.1 L785.3,297.15 L786.3,297.21 L787.3,297.26 L788.3,297.32 L789.3,297.38 L790.3,297.44 L791.3,297.5 L792.3,297.56 L793.3,297.62 L794.3,297.69 L795.3,297.76 L796.3,297.82 L797.3,297.89 L798.3,297.96 L799.3,298.03 L800.3,298.11 L801.3,298.18 L802.3,298.25 L803.3,298.32 L804.3,298.4 L805.3,298.47 L806.3,298.54 L807.3,298.62 L808.3,298.69 L808.4,298.7" fill="none" stroke="#36bc36" stroke-width="2" stroke-linejoin="round"/>
<circle cx="161.3" cy="388.9" r="4" fill="#20e020" stroke="#140000" stroke-width="1"/>
<circle cx="253.74" cy="334.8" r="4" fill="#20e020" stroke="#140000" stroke-width="1"/>
<circle cx="346.19" cy="275.3" r="4" fill="#20e020" stroke="#140000" stroke-width="1"/>
<circle cx="438.63" cy="313" r="4" fill="#20e020" stroke="#140000" stroke-width="1"/>
<circle cx="531.07" cy="311" r="4" fill="#20e020" stroke="#140000" stroke-width="1"/>
<circle cx="623.51" cy="331.3" r="4" fill="#20e020" stroke="#140000" stroke-width="1"/>
<circle cx="715.96" cy="302.7" r="4" fill="#20e020" stroke="#140000" stroke-width="1"/>
<circle cx="808.4" cy="298.7" r="4" fill="#20e020" stroke="#140000" stroke-width="1"/>
<path d="M161.3,331.8 L162.3,330.66 L163.3,329.52 L164.3,328.38 L165.3,327.25 L166.3,326.11 L167.3,324.97 L168.3,323.83 L169.3,322.7 L170.3,321.56 L171.3,320.43 L172.3,319.29 L173.3,318.16 L174.3,317.03 L175.3,315.9 L176.3,314.77 L177.3,313.64 L178.3,312.52 L179.3,311.4 L180.3,310.27 L181.3,309.15 L182.3,308.03 L183.3,306.92 L184.3,305.8 L185.3,304.69 L186.3,303.58 L187.3,302.47 L188.3,301.37 L189.3,300.27 L190.3,299.17 L191.3,298.07 L192.3,296.98 L193.3,295.89 L194.3,294.8 L195.3,293.72 L196.3,292.63 L197.3,291.56 L198.3,290.48 L199.3,289.41 L200.3,288.35 L201.3,287.28 L202.3,286.22 L203.3,285.17 L204.3,284.12 L205.3,283.07 L206.3,282.03 L207.3,280.99 L208.3,279.95 L209.3,278.92 L210.3,277.9 L211.3,276.88 L212.3,275.87 L213.3,274.85 L214.3,273.85 L215.3,272.85 L216.3,271.86 L217.3,270.87 L218.3,269.88 L219.3,268.9 L220.3,267.93 L221.3,266.96 L222.3,266 L223.3,265.05 L224.3,264.1 L225.3,263.15 L226.3,262.22 L227.3,261.29 L228.3,260.36 L229.3,259.44 L230.3,258.53 L231.3,257.63 L232.3,256.73 L233.3,255.84 L234.3,254.96 L235.3,254.08 L236.3,253.21 L237.3,252.35 L238.3,251.49 L239.3,250.65 L240.3,249.81 L241.3,248.97 L242.3,248.15 L243.3,247.33 L244.3,246.52 L245.3,245.72 L246.3,244.93 L247.3,244.15 L248.3,243.37 L249.3,242.6 L250.3,241.85 L251.3,241.1 L252.3,240.35 L253.3,239.62 L254.3,238.9 L255.3,238.18 L256.3,237.48 L257.3,236.78 L258.3,236.09 L259.3,235.41 L260.3,234.74 L261.3,234.08 L262.3,233.43 L263.3,232.78 L264.3,232.15 L265.3,231.52 L266.3,230.9 L267.3,230.29 L268.3,229.69 L269.3,229.09 L270.3,228.51 L271.3,227.93 L272.3,227.36 L273.3,226.8 L274.3,226.25 L275.3,225.7 L276.3,225.16 L277.3,224.64 L278.3,224.11 L279.3,223.6 L280.3,223.1 L281.3,222.6 L282.3,222.11 L283.3,221.63 L284.3,221.15 L285.3,220.69 L286.3,220.23 L287.3,219.78 L288.3,219.33 L289.3,218.9 L290.3,218.47 L291.3,218.05 L292.3,217.63 L293.3,217.23 L294.3,216.83 L295.3,216.43 L296.3,216.05 L297.3,215.67 L298.3,215.3 L299.3,214.94 L300.3,214.58 L301.3,214.23 L302.3,213.89 L303.3,213.55 L304.3,213.22 L305.3,212.9 L306.3,212.58 L307.3,212.27 L308.3,211.97 L309.3,211.68 L310.3,211.39 L311.3,211.1 L312.3,210.83 L313.3,210.56 L314.3,210.3 L315.3,210.04 L316.3,209.79 L317.3,209.54 L318.3,209.31 L319.3,209.07 L320.3,208.85 L321.3,208.63 L322.3,208.41 L323.3,208.21 L324.3,208.01 L325.3,207.81 L326.3,207.62 L327.3,207.44 L328.3,207.26 L329.3,207.08 L330.3,206.92 L331.3,206.76 L332.3,206.6 L333.3,206.45 L334.3,206.31 L335.3,206.17 L336.3,206.03 L337.3,205.91 L338.3,205.78 L339.3,205.67 L340.3,205.55 L341.3,205.45 L342.3,205.35 L343.3,205.25 L344.3,205.16 L345.3,205.07 L346.3,204.99 L347.3,204.91 L348.3,204.84 L349.3,204.78 L350.3,204.71 L351.3,204.66 L352.3,204.6 L353.3,204.56 L354.3,204.51 L355.3,204.47 L356.3,204.44 L357.3,204.41 L358.3,204.38 L359.3,204.36 L360.3,204.34 L361.3,204.32 L362.3,204.31 L363.3,204.3 L364.3,204.3 L365.3,204.3 L366.3,204.3 L367.3,204.31 L368.3,204.32 L369.3,204.33 L370.3,204.35 L371.3,204.36 L372.3,204.39 L373.3,204.41 L374.3,204.44 L375.3,204.47 L376.3,204.5 L377.3,204.54 L378.3,204.57 L379.3,204.61 L380.3,204.66 L381.3,204.7 L382.3,204.75 L383.3,204.8 L384.3,204.85 L385.3,204.9 L386.3,204.95 L387.3,205.01 L388.3,205.07 L389.3,205.13 L390.3,205.19 L391.3,205.25 L392.3,205.31 L393.3,205.38 L394.3,205.45 L395.3,205.51 L396.3,205.58 L397.3,205.65 L398.3,205.72 L399.3,205.79 L400.3,205.86 L401.3,205.93 L402.3,206.01 L403.3,206.08 L404.3,206.15 L405.3,206.23 L406.3,206.3 L407.3,206.37 L408.3,206.45 L409.3,206.52 L410.3,206.6 L411.3,206.67 L412.3,206.74 L413.3,206.82 L414.3,206.89 L415.3,206.96 L416.3,207.03 L417.3,207.1 L418.3,207.17 L419.3,207.24 L420.3,207.31 L421.3,207.38 L422.3,207.44 L423.3,207.51 L424.3,207.57 L425.3,207.64 L426.3,207.7 L427.3,207.76 L428.3,207.81 L429.3,207.87 L430.3,207.92 L431.3,207.98 L432.3,208.03 L433.3,208.08 L434.3,208.12 L435.3,208.17 L436.3,208.21 L437.3,208.25 L438.3,208.29 L439.3,208.32 L440.3,208.36 L441.3,208.39 L442.3,208.41 L443.3,208.44 L444.3,208.46 L445.3,208.48 L446.3,208.5 L447.3,208.52 L448.3,208.54 L449.3,208.55 L450.3,208.56 L451.3,208.57 L452.3,208.58 L453.3,208.58 L454.3,208.59 L455.3,208.59 L456.3,208.59 L457.3,208.59 L458.3,208.58 L459.3,208.58 L460.3,208.58 L461.3,208.57 L462.3,208.56 L463.3,208.55 L464.3,208.54 L465.3,208.53 L466.3,208.52 L467.3,208.5 L468.3,208.49 L469.3,208.47 L470.3,208.45 L471.3,208.44 L472.3,208.42 L473.3,208.4 L474.3,208.38 L475.3,208.36 L476.3,208.34 L477.3,208.32 L478.3,208.29 L479.3,208.27 L480.3,208.25 L481.3,208.23 L482.3,208.2 L483.3,208.18 L484.3,208.16 L485.3,208.13 L486.3,208.11 L487.3,208.08 L488.3,208.06 L489.3,208.04 L490.3,208.01 L491.3,207.99 L492.3,207.96 L493.3,207.94 L494.3,207.92 L495.3,207.9 L496.3,207.88 L497.3,207.85 L498.3,207.83 L499.3,207.81 L500.3,207.79 L501.3,207.78 L502.3,207.76 L503.3,207.74 L504.3,207.72 L505.3,207.71 L506.3,207.69 L507.3,207.68 L508.3,207.67 L509.3,207.66 L510.3,207.65 L511.3,207.64 L512.3,207.63 L513.3,207.63 L514.3,207.62 L515.3,207.62 L516.3,207.62 L517.3,207.62 L518.3,207.62 L519.3,207.62 L520.3,207.63 L521.3,207.63 L522.3,207.64 L523.3,207.65 L524.3,207.66 L525.3,207.68 L526.3,207.69 L527.3,207.71 L528.3,207.73 L529.3,207.75 L530.3,207.78 L531.3,207.81 L532.3,207.84 L533.3,207.87 L534.3,207.9 L535.3,207.94 L536.3,207.98 L537.3,208.02 L538.3,208.06 L539.3,208.1 L540.3,208.15 L541.3,208.2 L542.3,208.25 L543.3,208.3 L544.3,208.35 L545.3,208.41 L546.3,208.47 L547.3,208.52 L548.3,208.59 L549.3,208.65 L550.3,208.71 L551.3,208.78 L552.3,208.84 L553.3,208.91 L554.3,208.98 L555.3,209.05 L556.3,209.12 L557.3,209.2 L558.3,209.27 L559.3,209.35 L560.3,209.42 L561.3,209.5 L562.3,209.58 L563.3,209.66 L564.3,209.74 L565.3,209.82 L566.3,209.91 L567.3,209.99 L568.3,210.07 L569.3,210.16 L570.3,210.25 L571.3,210.33 L572.3,210.42 L573.3,210.51 L574.3,210.59 L575.3,210.68 L576.3,210.77 L577.3,210.86 L578.3,210.95 L579.3,211.04 L580.3,211.13 L581.3,211.22 L582.3,211.31 L583.3,211.41 L584.3,211.5 L585.3,211.59 L586.3,211.68 L587.3,211.77 L588.3,211.86 L589.3,211.95 L590.3,212.04 L591.3,212.13 L592.3,212.22 L593.3,212.32 L594.3,212.4 L595.3,212.49 L596.3,212.58 L597.3,212.67 L598.3,212.76 L599.3,212.85 L600.3,212.94 L601.3,213.02 L602.3,213.11 L603.3,213.19 L604.3,213.28 L605.3,213.36 L606.3,213.44 L607.3,213.53 L608.3,213.61 L609.3,213.69 L610.3,213.77 L611.3,213.85 L612.3,213.92 L613.3,214 L614.3,214.07 L615.3,214.15 L616.3,214.22 L617.3,214.29 L618.3,214.36 L619.3,214.43 L620.3,214.49 L621.3,214.56 L622.3,214.62 L623.3,214.69 L624.3,214.75 L625.3,214.81 L626.3,214.86 L627.3,214.92 L628.3,214.98 L629.3,215.03 L630.3,215.08 L631.3,215.13 L632.3,215.18 L633.3,215.23 L634.3,215.27 L635.3,215.32 L636.3,215.36 L637.3,215.4 L638.3,215.44 L639.3,215.48 L640.3,215.52 L641.3,215.56 L642.3,215.6 L643.3,215.63 L644.3,215.66 L645.3,215.7 L646.3,215.73 L647.3,215.76 L648.3,215.79 L649.3,215.82 L650.3,215.84 L651.3,215.87 L652.3,215.89 L653.3,215.92 L654.3,215.94 L655.3,215.96 L656.3,215.99 L657.3,216.01 L658.3,216.03 L659.3,216.05 L660.3,216.06 L661.3,216.08 L662.3,216.1 L663.3,216.11 L664.3,216.13 L665.3,216.14 L666.3,216.16 L667.3,216.17 L668.3,216.18 L669.3,216.2 L670.3,216.21 L671.3,216.22 L672.3,216.23 L673.3,216.24 L674.3,216.25 L675.3,216.26 L676.3,216.26 L677.3,216.27 L678.3,216.28 L679.3,216.29 L680.3,216.3 L681.3,216.3 L682.3,216.31 L683.3,216.31 L684.3,216.32 L685.3,216.33 L686.3,216.33 L687.3,216.34 L688.3,216.34 L689.3,216.35 L690.3,216.35 L691.3,216.36 L692.3,216.36 L693.3,216.36 L694.3,216.37 L695.3,216.37 L696.3,216.38 L697.3,216.38 L698.3,216.39 L699.3,216.39 L700.3,216.4 L701.3,216.4 L702.3,216.41 L703.3,216.41 L704.3,216.42 L705.3,216.42 L706.3,216.43 L707.3,216.43 L708.3,216.44 L709.3,216.45 L710.3,216.45 L711.3,216.46 L712.3,216.47 L713.3,216.48 L714.3,216.49 L715.3,216.49 L716.3,216.5 L717.3,216.51 L718.3,216.52 L719.3,216.53 L720.3,216.55 L721.3,216.56 L722.3,216.57 L723.3,216.58 L724.3,216.59 L725.3,216.61 L726.3,216.62 L727.3,216.64 L728.3,216.65 L729.3,216.66 L730.3,216.68 L731.3,216.7 L732.3,216.71 L733.3,216.73 L734.3,216.75 L735.3,216.76 L736.3,216.78 L737.3,216.8 L738.3,216.82 L739.3,216.84 L740.3,216.85 L741.3,216.87 L742.3,216.89 L743.3,216.91 L744.3,216.93 L745.3,216.96 L746.3,216.98 L747.3,217 L748.3,217.02 L749.3,217.04 L750.3,217.06 L751.3,217.09 L752.3,217.11 L753.3,217.13 L754.3,217.16 L755.3,217.18 L756.3,217.2 L757.3,217.23 L758.3,217.25 L759.3,217.28 L760.3,217.3 L761.3,217.33 L762.3,217.35 L763.3,217.38 L764.3,217.4 L765.3,217.43 L766.3,217.46 L767.3,217.48 L768.3,217.51 L769.3,217.54 L770.3,217.57 L771.3,217.59 L772.3,217.62 L773.3,217.65 L774.3,217.68 L775.3,217.7 L776.3,217.73 L777.3,217.76 L778.3,217.79 L779.3,217.82 L780.3,217.85 L781.3,217.88 L782.3,217.91 L783.3,217.93 L784.3,217.96 L785.3,217.99 L786.3,218.02 L787.3,218.05 L788.3,218.08 L789.3,218.11 L790.3,218.14 L791.3,218.17 L792.3,218.2 L793.3,218.23 L794.3,218.27 L795.3,218.3 L796.3,218.33 L797.3,218.36 L798.3,218.39 L799.3,218.42 L800.3,218.45 L801.3,218.48 L802.3,218.51 L803.3,218.54 L804.3,218.57 L805.3,218.6 L806.3,218.63 L807.3,218.67 L808.3,218.7 L808.4,218.7" fill="none" stroke="#40d0d0" stroke-width="2" stroke-linejoin="round"/>
<circle cx="161.3" cy="331.8" r="4" fill="#28ecee" stroke="#140000" stroke-width="1"/>
<circle cx="253.74" cy="239.3" r="4" fill="#28ecee" stroke="#140000" stroke-width="1"/>
<circle cx="346.19" cy="205" r="4" fill="#28ecee" stroke="#140000" stroke-width="1"/>
<circle cx="438.63" cy="208.3" r="4" fill="#28ecee" stroke="#140000" stroke-width="1"/>
<circle cx="531.07" cy="207.8" r="4" fill="#28ecee" stroke="#140000" stroke-width="1"/>
<circle cx="623.51" cy="214.7" r="4" fill="#28ecee" stroke="#140000" stroke-width="1"/>
<circle cx="715.96" cy="216.5" r="4" fill="#28ecee" stroke="#140000" stroke-width="1"/>
<circle cx="808.4" cy="218.7" r="4" fill="#28ecee" stroke="#140000" stroke-width="1"/>
<path d="M161.3,260 L162.3,259.13 L163.3,258.27 L164.3,257.4 L165.3,256.54 L166.3,255.67 L167.3,254.81 L168.3,253.94 L169.3,253.08 L170.3,252.22 L171.3,251.36 L172.3,250.5 L173.3,249.65 L174.3,248.8 L175.3,247.94 L176.3,247.09 L177.3,246.25 L178.3,245.4 L179.3,244.56 L180.3,243.72 L181.3,242.89 L182.3,242.06 L183.3,241.23 L184.3,240.41 L185.3,239.59 L186.3,238.77 L187.3,237.96 L188.3,237.15 L189.3,236.34 L190.3,235.55 L191.3,234.75 L192.3,233.96 L193.3,233.18 L194.3,232.4 L195.3,231.63 L196.3,230.86 L197.3,230.1 L198.3,229.34 L199.3,228.59 L200.3,227.85 L201.3,227.11 L202.3,226.38 L203.3,225.66 L204.3,224.94 L205.3,224.23 L206.3,223.53 L207.3,222.84 L208.3,222.15 L209.3,221.47 L210.3,220.8 L211.3,220.14 L212.3,219.48 L213.3,218.84 L214.3,218.2 L215.3,217.57 L216.3,216.95 L217.3,216.34 L218.3,215.74 L219.3,215.15 L220.3,214.57 L221.3,213.99 L222.3,213.43 L223.3,212.88 L224.3,212.34 L225.3,211.81 L226.3,211.29 L227.3,210.78 L228.3,210.28 L229.3,209.79 L230.3,209.32 L231.3,208.85 L232.3,208.4 L233.3,207.96 L234.3,207.53 L235.3,207.11 L236.3,206.71 L237.3,206.31 L238.3,205.93 L239.3,205.57 L240.3,205.21 L241.3,204.87 L242.3,204.55 L243.3,204.23 L244.3,203.93 L245.3,203.64 L246.3,203.37 L247.3,203.11 L248.3,202.87 L249.3,202.64 L250.3,202.43 L251.3,202.23 L252.3,202.04 L253.3,201.87 L254.3,201.72 L255.3,201.58 L256.3,201.45 L257.3,201.34 L258.3,201.25 L259.3,201.17 L260.3,201.1 L261.3,201.05 L262.3,201.01 L263.3,200.98 L264.3,200.97 L265.3,200.97 L266.3,200.98 L267.3,201.01 L268.3,201.05 L269.3,201.1 L270.3,201.16 L271.3,201.23 L272.3,201.31 L273.3,201.41 L274.3,201.52 L275.3,201.63 L276.3,201.76 L277.3,201.9 L278.3,202.04 L279.3,202.2 L280.3,202.37 L281.3,202.54 L282.3,202.73 L283.3,202.92 L284.3,203.12 L285.3,203.33 L286.3,203.55 L287.3,203.78 L288.3,204.01 L289.3,204.25 L290.3,204.5 L291.3,204.75 L292.3,205.01 L293.3,205.28 L294.3,205.56 L295.3,205.84 L296.3,206.12 L297.3,206.41 L298.3,206.71 L299.3,207.01 L300.3,207.32 L301.3,207.63 L302.3,207.94 L303.3,208.26 L304.3,208.58 L305.3,208.91 L306.3,209.24 L307.3,209.57 L308.3,209.91 L309.3,210.25 L310.3,210.59 L311.3,210.93 L312.3,211.28 L313.3,211.62 L314.3,211.97 L315.3,212.32 L316.3,212.67 L317.3,213.02 L318.3,213.38 L319.3,213.73 L320.3,214.08 L321.3,214.43 L322.3,214.79 L323.3,215.14 L324.3,215.49 L325.3,215.84 L326.3,216.19 L327.3,216.53 L328.3,216.88 L329.3,217.22 L330.3,217.56 L331.3,217.9 L332.3,218.24 L333.3,218.57 L334.3,218.9 L335.3,219.23 L336.3,219.55 L337.3,219.87 L338.3,220.19 L339.3,220.5 L340.3,220.8 L341.3,221.1 L342.3,221.4 L343.3,221.69 L344.3,221.98 L345.3,222.26 L346.3,222.53 L347.3,222.8 L348.3,223.06 L349.3,223.32 L350.3,223.57 L351.3,223.81 L352.3,224.05 L353.3,224.28 L354.3,224.51 L355.3,224.73 L356.3,224.95 L357.3,225.16 L358.3,225.37 L359.3,225.57 L360.3,225.77 L361.3,225.96 L362.3,226.14 L363.3,226.33 L364.3,226.5 L365.3,226.67 L366.3,226.84 L367.3,227.01 L368.3,227.17 L369.3,227.32 L370.3,227.47 L371.3,227.62 L372.3,227.76 L373.3,227.9 L374.3,228.04 L375.3,228.17 L376.3,228.3 L377.3,228.42 L378.3,228.54 L379.3,228.66 L380.3,228.78 L381.3,228.89 L382.3,229 L383.3,229.1 L384.3,229.21 L385.3,229.31 L386.3,229.4 L387.3,229.5 L388.3,229.59 L389.3,229.68 L390.3,229.77 L391.3,229.85 L392.3,229.93 L393.3,230.01 L394.3,230.09 L395.3,230.17 L396.3,230.24 L397.3,230.32 L398.3,230.39 L399.3,230.46 L400.3,230.53 L401.3,230.59 L402.3,230.66 L403.3,230.72 L404.3,230.79 L405.3,230.85 L406.3,230.91 L407.3,230.97 L408.3,231.03 L409.3,231.09 L410.3,231.15 L411.3,231.2 L412.3,231.26 L413.3,231.32 L414.3,231.37 L415.3,231.43 L416.3,231.49 L417.3,231.54 L418.3,231.6 L419.3,231.66 L420.3,231.71 L421.3,231.77 L422.3,231.83 L423.3,231.88 L424.3,231.94 L425.3,232 L426.3,232.06 L427.3,232.12 L428.3,232.18 L429.3,232.25 L430.3,232.31 L431.3,232.38 L432.3,232.44 L433.3,232.51 L434.3,232.58 L435.3,232.65 L436.3,232.72 L437.3,232.8 L438.3,232.87 L439.3,232.95 L440.3,233.03 L441.3,233.11 L442.3,233.2 L443.3,233.28 L444.3,233.37 L445.3,233.46 L446.3,233.55 L447.3,233.64 L448.3,233.74 L449.3,233.83 L450.3,233.93 L451.3,234.03 L452.3,234.13 L453.3,234.23 L454.3,234.34 L455.3,234.44 L456.3,234.55 L457.3,234.66 L458.3,234.77 L459.3,234.88 L460.3,234.99 L461.3,235.1 L462.3,235.22 L463.3,235.33 L464.3,235.45 L465.3,235.57 L466.3,235.69 L467.3,235.81 L468.3,235.93 L469.3,236.05 L470.3,236.18 L471.3,236.3 L472.3,236.43 L473.3,236.55 L474.3,236.68 L475.3,236.81 L476.3,236.94 L477.3,237.07 L478.3,237.2 L479.3,237.33 L480.3,237.46 L481.3,237.59 L482.3,237.73 L483.3,237.86 L484.3,237.99 L485.3,238.13 L486.3,238.27 L487.3,238.4 L488.3,238.54 L489.3,238.67 L490.3,238.81 L491.3,238.95 L492.3,239.09 L493.3,239.23 L494.3,239.37 L495.3,239.5 L496.3,239.64 L497.3,239.78 L498.3,239.92 L499.3,240.06 L500.3,240.2 L501.3,240.34 L502.3,240.48 L503.3,240.62 L504.3,240.76 L505.3,240.9 L506.3,241.04 L507.3,241.18 L508.3,241.32 L509.3,241.46 L510.3,241.6 L511.3,241.74 L512.3,241.88 L513.3,242.02 L514.3,242.16 L515.3,242.29 L516.3,242.43 L517.3,242.57 L518.3,242.71 L519.3,242.84 L520.3,242.98 L521.3,243.11 L522.3,243.25 L523.3,243.38 L524.3,243.51 L525.3,243.65 L526.3,243.78 L527.3,243.91 L528.3,244.04 L529.3,244.17 L530.3,244.3 L531.3,244.43 L532.3,244.56 L533.3,244.68 L534.3,244.81 L535.3,244.93 L536.3,245.06 L537.3,245.18 L538.3,245.3 L539.3,245.42 L540.3,245.54 L541.3,245.66 L542.3,245.78 L543.3,245.9 L544.3,246.01 L545.3,246.13 L546.3,246.24 L547.3,246.35 L548.3,246.46 L549.3,246.57 L550.3,246.68 L551.3,246.79 L552.3,246.9 L553.3,247 L554.3,247.11 L555.3,247.21 L556.3,247.31 L557.3,247.41 L558.3,247.51 L559.3,247.61 L560.3,247.7 L561.3,247.8 L562.3,247.89 L563.3,247.98 L564.3,248.07 L565.3,248.16 L566.3,248.25 L567.3,248.34 L568.3,248.42 L569.3,248.5 L570.3,248.58 L571.3,248.66 L572.3,248.74 L573.3,248.82 L574.3,248.89 L575.3,248.97 L576.3,249.04 L577.3,249.11 L578.3,249.18 L579.3,249.24 L580.3,249.31 L581.3,249.37 L582.3,249.43 L583.3,249.49 L584.3,249.55 L585.3,249.61 L586.3,249.66 L587.3,249.71 L588.3,249.76 L589.3,249.81 L590.3,249.86 L591.3,249.9 L592.3,249.95 L593.3,249.99 L594.3,250.03 L595.3,250.06 L596.3,250.1 L597.3,250.13 L598.3,250.16 L599.3,250.19 L600.3,250.22 L601.3,250.24 L602.3,250.26 L603.3,250.28 L604.3,250.3 L605.3,250.32 L606.3,250.33 L607.3,250.34 L608.3,250.35 L609.3,250.36 L610.3,250.36 L611.3,250.36 L612.3,250.36 L613.3,250.36 L614.3,250.36 L615.3,250.35 L616.3,250.34 L617.3,250.33 L618.3,250.31 L619.3,250.3 L620.3,250.28 L621.3,250.26 L622.3,250.23 L623.3,250.21 L624.3,250.18 L625.3,250.15 L626.3,250.11 L627.3,250.07 L628.3,250.04 L629.3,249.99 L630.3,249.95 L631.3,249.91 L632.3,249.86 L633.3,249.81 L634.3,249.76 L635.3,249.7 L636.3,249.64 L637.3,249.59 L638.3,249.53 L639.3,249.47 L640.3,249.4 L641.3,249.34 L642.3,249.27 L643.3,249.2 L644.3,249.13 L645.3,249.06 L646.3,248.99 L647.3,248.91 L648.3,248.83 L649.3,248.76 L650.3,248.68 L651.3,248.6 L652.3,248.52 L653.3,248.43 L654.3,248.35 L655.3,248.26 L656.3,248.18 L657.3,248.09 L658.3,248 L659.3,247.92 L660.3,247.83 L661.3,247.74 L662.3,247.64 L663.3,247.55 L664.3,247.46 L665.3,247.37 L666.3,247.27 L667.3,247.18 L668.3,247.08 L669.3,246.99 L670.3,246.89 L671.3,246.8 L672.3,246.7 L673.3,246.6 L674.3,246.51 L675.3,246.41 L676.3,246.31 L677.3,246.22 L678.3,246.12 L679.3,246.02 L680.3,245.92 L681.3,245.83 L682.3,245.73 L683.3,245.63 L684.3,245.54 L685.3,245.44 L686.3,245.35 L687.3,245.25 L688.3,245.16 L689.3,245.06 L690.3,244.97 L691.3,244.88 L692.3,244.78 L693.3,244.69 L694.3,244.6 L695.3,244.51 L696.3,244.42 L697.3,244.33 L698.3,244.25 L699.3,244.16 L700.3,244.07 L701.3,243.99 L702.3,243.9 L703.3,243.82 L704.3,243.74 L705.3,243.66 L706.3,243.58 L707.3,243.51 L708.3,243.43 L709.3,243.36 L710.3,243.28 L711.3,243.21 L712.3,243.14 L713.3,243.07 L714.3,243.01 L715.3,242.94 L716.3,242.88 L717.3,242.82 L718.3,242.76 L719.3,242.7 L720.3,242.64 L721.3,242.59 L722.3,242.54 L723.3,242.49 L724.3,242.44 L725.3,242.39 L726.3,242.34 L727.3,242.3 L728.3,242.26 L729.3,242.21 L730.3,242.17 L731.3,242.14 L732.3,242.1 L733.3,242.06 L734.3,242.03 L735.3,242 L736.3,241.97 L737.3,241.94 L738.3,241.91 L739.3,241.88 L740.3,241.86 L741.3,241.83 L742.3,241.81 L743.3,241.79 L744.3,241.77 L745.3,241.75 L746.3,241.73 L747.3,241.71 L748.3,241.7 L749.3,241.68 L750.3,241.67 L751.3,241.66 L752.3,241.65 L753.3,241.64 L754.3,241.63 L755.3,241.62 L756.3,241.61 L757.3,241.61 L758.3,241.6 L759.3,241.6 L760.3,241.6 L761.3,241.59 L762.3,241.59 L763.3,241.59 L764.3,241.59 L765.3,241.6 L766.3,241.6 L767.3,241.6 L768.3,241.6 L769.3,241.61 L770.3,241.62 L771.3,241.62 L772.3,241.63 L773.3,241.64 L774.3,241.64 L775.3,241.65 L776.3,241.66 L777.3,241.67 L778.3,241.68 L779.3,241.7 L780.3,241.71 L781.3,241.72 L782.3,241.73 L783.3,241.75 L784.3,241.76 L785.3,241.78 L786.3,241.79 L787.3,241.81 L788.3,241.82 L789.3,241.84 L790.3,241.86 L791.3,241.87 L792.3,241.89 L793.3,241.91 L794.3,241.93 L795.3,241.94 L796.3,241.96 L797.3,241.98 L798.3,242 L799.3,242.02 L800.3,242.04 L801.3,242.06 L802.3,242.08 L803.3,242.1 L804.3,242.12 L805.3,242.14 L806.3,242.16 L807.3,242.18 L808.3,242.2 L808.4,242.2" fill="none" stroke="#00008c" stroke-width="2" stroke-linejoin="round"/>
<circle cx="161.3" cy="260" r="4" fill="#0808f0" stroke="#140000" stroke-width="1"/>
<circle cx="253.74" cy="201.8" r="4" fill="#0808f0" stroke="#140000" stroke-width="1"/>
<circle cx="346.19" cy="222.5" r="4" fill="#0808f0" stroke="#140000" stroke-width="1"/>
<circle cx="438.63" cy="232.9" r="4" fill="#0808f0" stroke="#140000" stroke-width="1"/>
<circle cx="531.07" cy="244.4" r="4" fill="#0808f0" stroke="#140000" stroke-width="1"/>
<circle cx="623.51" cy="250.2" r="4" fill="#0808f0" stroke="#140000" stroke-width="1"/>
<circle cx="715.96" cy="242.9" r="4" fill="#0808f0" stroke="#140000" stroke-width="1"/>
<circle cx="808.4" cy="242.2" r="4" fill="#0808f0" stroke="#140000" stroke-width="1"/>
<path d="M161.3,178 L162.3,178.02 L163.3,178.04 L164.3,178.07 L165.3,178.09 L166.3,178.11 L167.3,178.13 L168.3,178.15 L169.3,178.18 L170.3,178.2 L171.3,178.22 L172.3,178.24 L173.3,178.26 L174.3,178.29 L175.3,178.31 L176.3,178.33 L177.3,178.35 L178.3,178.38 L179.3,178.4 L180.3,178.42 L181.3,178.44 L182.3,178.47 L183.3,178.49 L184.3,178.51 L185.3,178.53 L186.3,178.56 L187.3,178.58 L188.3,178.6 L189.3,178.63 L190.3,178.65 L191.3,178.67 L192.3,178.7 L193.3,178.72 L194.3,178.74 L195.3,178.77 L196.3,178.79 L197.3,178.81 L198.3,178.84 L199.3,178.86 L200.3,178.88 L201.3,178.91 L202.3,178.93 L203.3,178.96 L204.3,178.98 L205.3,179.01 L206.3,179.03 L207.3,179.06 L208.3,179.08 L209.3,179.11 L210.3,179.13 L211.3,179.16 L212.3,179.18 L213.3,179.21 L214.3,179.23 L215.3,179.26 L216.3,179.29 L217.3,179.31 L218.3,179.34 L219.3,179.37 L220.3,179.39 L221.3,179.42 L222.3,179.45 L223.3,179.47 L224.3,179.5 L225.3,179.53 L226.3,179.56 L227.3,179.58 L228.3,179.61 L229.3,179.64 L230.3,179.67 L231.3,179.7 L232.3,179.73 L233.3,179.76 L234.3,179.79 L235.3,179.82 L236.3,179.85 L237.3,179.88 L238.3,179.91 L239.3,179.94 L240.3,179.97 L241.3,180 L242.3,180.03 L243.3,180.06 L244.3,180.09 L245.3,180.12 L246.3,180.15 L247.3,180.19 L248.3,180.22 L249.3,180.25 L250.3,180.28 L251.3,180.32 L252.3,180.35 L253.3,180.39 L254.3,180.42 L255.3,180.45 L256.3,180.49 L257.3,180.52 L258.3,180.56 L259.3,180.59 L260.3,180.63 L261.3,180.66 L262.3,180.7 L263.3,180.73 L264.3,180.77 L265.3,180.81 L266.3,180.84 L267.3,180.88 L268.3,180.92 L269.3,180.95 L270.3,180.99 L271.3,181.03 L272.3,181.07 L273.3,181.1 L274.3,181.14 L275.3,181.18 L276.3,181.22 L277.3,181.26 L278.3,181.29 L279.3,181.33 L280.3,181.37 L281.3,181.41 L282.3,181.45 L283.3,181.48 L284.3,181.52 L285.3,181.56 L286.3,181.6 L287.3,181.64 L288.3,181.68 L289.3,181.72 L290.3,181.75 L291.3,181.79 L292.3,181.83 L293.3,181.87 L294.3,181.91 L295.3,181.95 L296.3,181.99 L297.3,182.02 L298.3,182.06 L299.3,182.1 L300.3,182.14 L301.3,182.18 L302.3,182.22 L303.3,182.25 L304.3,182.29 L305.3,182.33 L306.3,182.37 L307.3,182.4 L308.3,182.44 L309.3,182.48 L310.3,182.52 L311.3,182.55 L312.3,182.59 L313.3,182.63 L314.3,182.66 L315.3,182.7 L316.3,182.74 L317.3,182.77 L318.3,182.81 L319.3,182.84 L320.3,182.88 L321.3,182.91 L322.3,182.95 L323.3,182.98 L324.3,183.02 L325.3,183.05 L326.3,183.09 L327.3,183.12 L328.3,183.15 L329.3,183.19 L330.3,183.22 L331.3,183.25 L332.3,183.29 L333.3,183.32 L334.3,183.35 L335.3,183.38 L336.3,183.41 L337.3,183.44 L338.3,183.47 L339.3,183.5 L340.3,183.53 L341.3,183.56 L342.3,183.59 L343.3,183.62 L344.3,183.65 L345.3,183.68 L346.3,183.7 L347.3,183.73 L348.3,183.76 L349.3,183.78 L350.3,183.81 L351.3,183.83 L352.3,183.86 L353.3,183.88 L354.3,183.91 L355.3,183.93 L356.3,183.96 L357.3,183.98 L358.3,184.01 L359.3,184.03 L360.3,184.05 L361.3,184.07 L362.3,184.1 L363.3,184.12 L364.3,184.14 L365.3,184.16 L366.3,184.19 L367.3,184.21 L368.3,184.23 L369.3,184.25 L370.3,184.27 L371.3,184.29 L372.3,184.32 L373.3,184.34 L374.3,184.36 L375.3,184.38 L376.3,184.4 L377.3,184.42 L378.3,184.44 L379.3,184.47 L380.3,184.49 L381.3,184.51 L382.3,184.53 L383.3,184.55 L384.3,184.57 L385.3,184.6 L386.3,184.62 L387.3,184.64 L388.3,184.66 L389.3,184.69 L390.3,184.71 L391.3,184.73 L392.3,184.75 L393.3,184.78 L394.3,184.8 L395.3,184.83 L396.3,184.85 L397.3,184.87 L398.3,184.9 L399.3,184.92 L400.3,184.95 L401.3,184.97 L402.3,185 L403.3,185.03 L404.3,185.05 L405.3,185.08 L406.3,185.11 L407.3,185.14 L408.3,185.16 L409.3,185.19 L410.3,185.22 L411.3,185.25 L412.3,185.28 L413.3,185.31 L414.3,185.34 L415.3,185.38 L416.3,185.41 L417.3,185.44 L418.3,185.48 L419.3,185.51 L420.3,185.54 L421.3,185.58 L422.3,185.62 L423.3,185.65 L424.3,185.69 L425.3,185.73 L426.3,185.76 L427.3,185.8 L428.3,185.84 L429.3,185.88 L430.3,185.93 L431.3,185.97 L432.3,186.01 L433.3,186.05 L434.3,186.1 L435.3,186.14 L436.3,186.19 L437.3,186.24 L438.3,186.28 L439.3,186.33 L440.3,186.38 L441.3,186.43 L442.3,186.48 L443.3,186.53 L444.3,186.59 L445.3,186.64 L446.3,186.69 L447.3,186.75 L448.3,186.8 L449.3,186.86 L450.3,186.91 L451.3,186.97 L452.3,187.02 L453.3,187.08 L454.3,187.13 L455.3,187.19 L456.3,187.25 L457.3,187.3 L458.3,187.36 L459.3,187.41 L460.3,187.47 L461.3,187.53 L462.3,187.58 L463.3,187.64 L464.3,187.69 L465.3,187.75 L466.3,187.8 L467.3,187.86 L468.3,187.91 L469.3,187.96 L470.3,188.01 L471.3,188.07 L472.3,188.12 L473.3,188.17 L474.3,188.22 L475.3,188.27 L476.3,188.31 L477.3,188.36 L478.3,188.41 L479.3,188.45 L480.3,188.5 L481.3,188.54 L482.3,188.58 L483.3,188.62 L484.3,188.66 L485.3,188.7 L486.3,188.74 L487.3,188.77 L488.3,188.81 L489.3,188.84 L490.3,188.87 L491.3,188.9 L492.3,188.93 L493.3,188.96 L494.3,188.98 L495.3,189 L496.3,189.02 L497.3,189.04 L498.3,189.06 L499.3,189.08 L500.3,189.09 L501.3,189.1 L502.3,189.11 L503.3,189.12 L504.3,189.12 L505.3,189.13 L506.3,189.13 L507.3,189.13 L508.3,189.12 L509.3,189.12 L510.3,189.11 L511.3,189.1 L512.3,189.08 L513.3,189.07 L514.3,189.05 L515.3,189.03 L516.3,189 L517.3,188.98 L518.3,188.95 L519.3,188.91 L520.3,188.88 L521.3,188.84 L522.3,188.8 L523.3,188.75 L524.3,188.71 L525.3,188.66 L526.3,188.6 L527.3,188.55 L528.3,188.48 L529.3,188.42 L530.3,188.35 L531.3,188.28 L532.3,188.21 L533.3,188.13 L534.3,188.05 L535.3,187.97 L536.3,187.88 L537.3,187.79 L538.3,187.7 L539.3,187.6 L540.3,187.5 L541.3,187.4 L542.3,187.3 L543.3,187.19 L544.3,187.08 L545.3,186.97 L546.3,186.86 L547.3,186.74 L548.3,186.62 L549.3,186.5 L550.3,186.38 L551.3,186.26 L552.3,186.13 L553.3,186 L554.3,185.87 L555.3,185.74 L556.3,185.61 L557.3,185.47 L558.3,185.34 L559.3,185.2 L560.3,185.06 L561.3,184.92 L562.3,184.78 L563.3,184.63 L564.3,184.49 L565.3,184.35 L566.3,184.2 L567.3,184.06 L568.3,183.91 L569.3,183.76 L570.3,183.61 L571.3,183.47 L572.3,183.32 L573.3,183.17 L574.3,183.02 L575.3,182.87 L576.3,182.72 L577.3,182.57 L578.3,182.42 L579.3,182.27 L580.3,182.12 L581.3,181.98 L582.3,181.83 L583.3,181.68 L584.3,181.53 L585.3,181.39 L586.3,181.24 L587.3,181.09 L588.3,180.95 L589.3,180.81 L590.3,180.66 L591.3,180.52 L592.3,180.38 L593.3,180.24 L594.3,180.11 L595.3,179.97 L596.3,179.83 L597.3,179.7 L598.3,179.57 L599.3,179.44 L600.3,179.31 L601.3,179.18 L602.3,179.06 L603.3,178.94 L604.3,178.82 L605.3,178.7 L606.3,178.58 L607.3,178.47 L608.3,178.35 L609.3,178.25 L610.3,178.14 L611.3,178.03 L612.3,177.93 L613.3,177.83 L614.3,177.74 L615.3,177.65 L616.3,177.56 L617.3,177.47 L618.3,177.38 L619.3,177.3 L620.3,177.23 L621.3,177.15 L622.3,177.08 L623.3,177.01 L624.3,176.95 L625.3,176.89 L626.3,176.83 L627.3,176.78 L628.3,176.73 L629.3,176.68 L630.3,176.64 L631.3,176.6 L632.3,176.56 L633.3,176.53 L634.3,176.5 L635.3,176.47 L636.3,176.45 L637.3,176.42 L638.3,176.4 L639.3,176.39 L640.3,176.37 L641.3,176.36 L642.3,176.35 L643.3,176.35 L644.3,176.34 L645.3,176.34 L646.3,176.34 L647.3,176.34 L648.3,176.35 L649.3,176.36 L650.3,176.37 L651.3,176.38 L652.3,176.39 L653.3,176.4 L654.3,176.42 L655.3,176.44 L656.3,176.46 L657.3,176.48 L658.3,176.5 L659.3,176.53 L660.3,176.56 L661.3,176.58 L662.3,176.61 L663.3,176.64 L664.3,176.67 L665.3,176.71 L666.3,176.74 L667.3,176.78 L668.3,176.81 L669.3,176.85 L670.3,176.89 L671.3,176.92 L672.3,176.96 L673.3,177 L674.3,177.04 L675.3,177.08 L676.3,177.13 L677.3,177.17 L678.3,177.21 L679.3,177.25 L680.3,177.3 L681.3,177.34 L682.3,177.38 L683.3,177.42 L684.3,177.47 L685.3,177.51 L686.3,177.55 L687.3,177.6 L688.3,177.64 L689.3,177.68 L690.3,177.72 L691.3,177.77 L692.3,177.81 L693.3,177.85 L694.3,177.89 L695.3,177.93 L696.3,177.97 L697.3,178 L698.3,178.04 L699.3,178.08 L700.3,178.11 L701.3,178.15 L702.3,178.18 L703.3,178.21 L704.3,178.24 L705.3,178.27 L706.3,178.3 L707.3,178.33 L708.3,178.36 L709.3,178.38 L710.3,178.4 L711.3,178.42 L712.3,178.44 L713.3,178.46 L714.3,178.48 L715.3,178.49 L716.3,178.5 L717.3,178.51 L718.3,178.52 L719.3,178.53 L720.3,178.53 L721.3,178.54 L722.3,178.54 L723.3,178.54 L724.3,178.53 L725.3,178.53 L726.3,178.52 L727.3,178.52 L728.3,178.51 L729.3,178.5 L730.3,178.48 L731.3,178.47 L732.3,178.45 L733.3,178.44 L734.3,178.42 L735.3,178.4 L736.3,178.37 L737.3,178.35 L738.3,178.32 L739.3,178.3 L740.3,178.27 L741.3,178.24 L742.3,178.21 L743.3,178.18 L744.3,178.14 L745.3,178.11 L746.3,178.07 L747.3,178.03 L748.3,177.99 L749.3,177.95 L750.3,177.91 L751.3,177.87 L752.3,177.83 L753.3,177.78 L754.3,177.73 L755.3,177.69 L756.3,177.64 L757.3,177.59 L758.3,177.54 L759.3,177.49 L760.3,177.43 L761.3,177.38 L762.3,177.33 L763.3,177.27 L764.3,177.21 L765.3,177.16 L766.3,177.1 L767.3,177.04 L768.3,176.98 L769.3,176.92 L770.3,176.86 L771.3,176.79 L772.3,176.73 L773.3,176.67 L774.3,176.6 L775.3,176.54 L776.3,176.47 L777.3,176.4 L778.3,176.33 L779.3,176.27 L780.3,176.2 L781.3,176.13 L782.3,176.06 L783.3,175.99 L784.3,175.92 L785.3,175.84 L786.3,175.77 L787.3,175.7 L788.3,175.63 L789.3,175.55 L790.3,175.48 L791.3,175.41 L792.3,175.33 L793.3,175.26 L794.3,175.18 L795.3,175.11 L796.3,175.03 L797.3,174.95 L798.3,174.88 L799.3,174.8 L800.3,174.72 L801.3,174.65 L802.3,174.57 L803.3,174.49 L804.3,174.42 L805.3,174.34 L806.3,174.26 L807.3,174.19 L808.3,174.11 L808.4,174.1" fill="none" stroke="#4c0a4c" stroke-width="2" stroke-linejoin="round"/>
<circle cx="161.3" cy="178" r="4" fill="#800480" stroke="#140000" stroke-width="1"/>
<circle cx="253.74" cy="180.4" r="4" fill="#800480" stroke="#140000" stroke-width="1"/>
<circle cx="346.19" cy="183.7" r="4" fill="#800480" stroke="#140000" stroke-width="1"/>
<circle cx="438.63" cy="186.3" r="4" fill="#800480" stroke="#140000" stroke-width="1"/>
<circle cx="531.07" cy="188.3" r="4" fill="#800480" stroke="#140000" stroke-width="1"/>
<circle cx="623.51" cy="177" r="4" fill="#800480" stroke="#140000" stroke-width="1"/>
<circle cx="715.96" cy="178.5" r="4" fill="#800480" stroke="#140000" stroke-width="1"/>
<circle cx="808.4" cy="174.1" r="4" fill="#800480" stroke="#140000" stroke-width="1"/>
<rect x="838" y="135" width="116" height="2" fill="#111"/>
<rect x="838" y="301" width="116" height="2" fill="#111"/>
<rect x="838" y="135" width="2" height="168" fill="#111"/>
<rect x="952" y="135" width="2" height="168" fill="#111"/>
<rect x="851" y="160" width="45" height="2" fill="#a80a12"/>
<circle cx="873.6" cy="161.4" r="4" fill="#f80808" stroke="#140000" stroke-width="1"/>
<text x="905.9" y="167.9" font-size="18.5" text-anchor="start" fill="#111" >4K</text>
<rect x="851" y="184" width="45" height="2" fill="#cc8430"/>
<circle cx="873.6" cy="184.96" r="4" fill="#f08a18" stroke="#140000" stroke-width="1"/>
<text x="905.9" y="191.46" font-size="18.5" text-anchor="start" fill="#111" >8K</text>
<rect x="851" y="208" width="45" height="2" fill="#36bc36"/>
<circle cx="873.6" cy="208.52" r="4" fill="#20e020" stroke="#140000" stroke-width="1"/>
<text x="905.9" y="215.02" font-size="18.5" text-anchor="start" fill="#111" >16K</text>
<rect x="851" y="231" width="45" height="2" fill="#40d0d0"/>
<circle cx="873.6" cy="232.08" r="4" fill="#28ecee" stroke="#140000" stroke-width="1"/>
<text x="905.9" y="238.58" font-size="18.5" text-anchor="start" fill="#111" >32K</text>
<rect x="851" y="255" width="45" height="2" fill="#00008c"/>
<circle cx="873.6" cy="255.64" r="4" fill="#0808f0" stroke="#140000" stroke-width="1"/>
<text x="905.9" y="262.14" font-size="18.5" text-anchor="start" fill="#111" >64K</text>
<rect x="851" y="278" width="45" height="2" fill="#4c0a4c"/>
<circle cx="873.6" cy="279.2" r="4" fill="#800480" stroke="#140000" stroke-width="1"/>
<text x="905.9" y="285.7" font-size="18.5" text-anchor="start" fill="#111" >1M</text>
<rect x="163" y="946" width="647" height="1" fill="#c9c9c9"/>
<rect x="163" y="923" width="647" height="1" fill="#c9c9c9"/>
<rect x="163" y="900" width="647" height="1" fill="#c9c9c9"/>
<rect x="163" y="877" width="647" height="1" fill="#c9c9c9"/>
<rect x="163" y="854" width="647" height="1" fill="#c9c9c9"/>
<rect x="163" y="831" width="647" height="1" fill="#c9c9c9"/>
<rect x="163" y="807" width="647" height="1" fill="#c9c9c9"/>
<rect x="163" y="784" width="647" height="1" fill="#c9c9c9"/>
<rect x="163" y="761" width="647" height="1" fill="#c9c9c9"/>
<rect x="163" y="738" width="647" height="1" fill="#c9c9c9"/>
<rect x="163" y="715" width="647" height="1" fill="#c9c9c9"/>
<rect x="163" y="692" width="647" height="1" fill="#c9c9c9"/>
<rect x="163" y="669" width="647" height="1" fill="#c9c9c9"/>
<rect x="255" y="648" width="1" height="321" fill="#c9c9c9"/>
<rect x="348" y="648" width="1" height="321" fill="#c9c9c9"/>
<rect x="440" y="648" width="1" height="321" fill="#c9c9c9"/>
<rect x="532" y="648" width="1" height="321" fill="#c9c9c9"/>
<rect x="625" y="648" width="1" height="321" fill="#c9c9c9"/>
<rect x="717" y="648" width="1" height="321" fill="#c9c9c9"/>
<rect x="809" y="646" width="1.5" height="330" fill="#999999"/>
<rect x="162.5" y="646" width="1.6" height="330" fill="#929292"/>
<rect x="153" y="646" width="658" height="2" fill="#9a9a9a"/>
<rect x="153" y="969" width="657" height="1" fill="#111"/>
<rect x="154" y="923" width="9" height="1" fill="#333"/>
<rect x="154" y="877" width="9" height="1" fill="#333"/>
<rect x="154" y="831" width="9" height="1" fill="#333"/>
<rect x="154" y="784" width="9" height="1" fill="#333"/>
<rect x="154" y="738" width="9" height="1" fill="#333"/>
<rect x="154" y="692" width="9" height="1" fill="#333"/>
<rect x="163" y="946" width="7" height="1" fill="#111"/>
<rect x="804" y="946" width="6" height="1" fill="#222"/>
<rect x="163" y="900" width="7" height="1" fill="#111"/>
<rect x="804" y="900" width="6" height="1" fill="#222"/>
<rect x="163" y="854" width="7" height="1" fill="#111"/>
<rect x="804" y="854" width="6" height="1" fill="#222"/>
<rect x="163" y="807" width="7" height="1" fill="#111"/>
<rect x="804" y="807" width="6" height="1" fill="#222"/>
<rect x="163" y="761" width="7" height="1" fill="#111"/>
<rect x="804" y="761" width="6" height="1" fill="#222"/>
<rect x="163" y="715" width="7" height="1" fill="#111"/>
<rect x="804" y="715" width="6" height="1" fill="#222"/>
<rect x="163" y="669" width="7" height="1" fill="#111"/>
<rect x="804" y="669" width="6" height="1" fill="#222"/>
<rect x="255" y="970" width="1" height="6" fill="#555"/>
<rect x="348" y="970" width="1" height="6" fill="#555"/>
<rect x="440" y="970" width="1" height="6" fill="#555"/>
<rect x="532" y="970" width="1" height="6" fill="#555"/>
<rect x="625" y="970" width="1" height="6" fill="#555"/>
<rect x="717" y="970" width="1" height="6" fill="#555"/>
<text x="145.8" y="975.1" font-size="16" text-anchor="end" fill="#111" >0K</text>
<text x="145.8" y="928.94" font-size="16" text-anchor="end" fill="#111" >20K</text>
<text x="145.8" y="882.79" font-size="16" text-anchor="end" fill="#111" >40K</text>
<text x="145.8" y="836.63" font-size="16" text-anchor="end" fill="#111" >60K</text>
<text x="145.8" y="790.47" font-size="16" text-anchor="end" fill="#111" >80K</text>
<text x="145.8" y="744.31" font-size="16" text-anchor="end" fill="#111" >100K</text>
<text x="145.8" y="698.16" font-size="16" text-anchor="end" fill="#111" >120K</text>
<text x="145.8" y="652" font-size="16" text-anchor="end" fill="#111" >140K</text>
<text x="163.2" y="999.1" font-size="16" text-anchor="middle" fill="#111" >1</text>
<text x="255.54" y="999.1" font-size="16" text-anchor="middle" fill="#111" >2</text>
<text x="347.89" y="999.1" font-size="16" text-anchor="middle" fill="#111" >4</text>
<text x="440.23" y="999.1" font-size="16" text-anchor="middle" fill="#111" >8</text>
<text x="532.57" y="999.1" font-size="16" text-anchor="middle" fill="#111" >16</text>
<text x="624.91" y="999.1" font-size="16" text-anchor="middle" fill="#111" >32</text>
<text x="717.26" y="999.1" font-size="16" text-anchor="middle" fill="#111" >64</text>
<text x="809.6" y="999.1" font-size="16" text-anchor="middle" fill="#111" >128</text>
<text x="486.9" y="1037.1" font-size="19.7" text-anchor="middle" fill="#111" >Jobs</text>
<text x="88.5" y="807.8" font-size="20.2" text-anchor="middle" fill="#111" transform="rotate(-90 88.5 807.8)">Read IOPS</text>
<path d="M163.2,962.3 L164.2,962.3 L165.2,962.3 L166.2,962.3 L167.2,962.3 L168.2,962.3 L169.2,962.3 L170.2,962.3 L171.2,962.3 L172.2,962.3 L173.2,962.3 L174.2,962.3 L175.2,962.3 L176.2,962.3 L177.2,962.3 L178.2,962.3 L179.2,962.3 L180.2,962.3 L181.2,962.3 L182.2,962.3 L183.2,962.3 L184.2,962.3 L185.2,962.3 L186.2,962.3 L187.2,962.3 L188.2,962.3 L189.2,962.3 L190.2,962.3 L191.2,962.3 L192.2,962.3 L193.2,962.3 L194.2,962.3 L195.2,962.3 L196.2,962.3 L197.2,962.3 L198.2,962.3 L199.2,962.3 L200.2,962.3 L201.2,962.3 L202.2,962.3 L203.2,962.3 L204.2,962.3 L205.2,962.3 L206.2,962.3 L207.2,962.3 L208.2,962.3 L209.2,962.3 L210.2,962.3 L211.2,962.3 L212.2,962.3 L213.2,962.3 L214.2,962.3 L215.2,962.3 L216.2,962.3 L217.2,962.3 L218.2,962.3 L219.2,962.3 L220.2,962.3 L221.2,962.3 L222.2,962.3 L223.2,962.3 L224.2,962.3 L225.2,962.3 L226.2,962.3 L227.2,962.3 L228.2,962.3 L229.2,962.3 L230.2,962.3 L231.2,962.3 L232.2,962.3 L233.2,962.3 L234.2,962.3 L235.2,962.3 L236.2,962.3 L237.2,962.3 L238.2,962.3 L239.2,962.3 L240.2,962.3 L241.2,962.3 L242.2,962.3 L243.2,962.3 L244.2,962.3 L245.2,962.3 L246.2,962.3 L247.2,962.3 L248.2,962.3 L249.2,962.3 L250.2,962.3 L251.2,962.3 L252.2,962.3 L253.2,962.3 L254.2,962.3 L255.2,962.3 L256.2,962.3 L257.2,962.3 L258.2,962.3 L259.2,962.3 L260.2,962.3 L261.2,962.3 L262.2,962.3 L263.2,962.3 L264.2,962.3 L265.2,962.3 L266.2,962.3 L267.2,962.3 L268.2,962.3 L269.2,962.3 L270.2,962.3 L271.2,962.3 L272.2,962.3 L273.2,962.3 L274.2,962.3 L275.2,962.3 L276.2,962.3 L277.2,962.3 L278.2,962.3 L279.2,962.3 L280.2,962.3 L281.2,962.3 L282.2,962.3 L283.2,962.3 L284.2,962.3 L285.2,962.3 L286.2,962.3 L287.2,962.3 L288.2,962.3 L289.2,962.3 L290.2,962.3 L291.2,962.3 L292.2,962.3 L293.2,962.3 L294.2,962.3 L295.2,962.3 L296.2,962.3 L297.2,962.3 L298.2,962.3 L299.2,962.3 L300.2,962.3 L301.2,962.3 L302.2,962.3 L303.2,962.3 L304.2,962.3 L305.2,962.3 L306.2,962.3 L307.2,962.3 L308.2,962.3 L309.2,962.3 L310.2,962.3 L311.2,962.3 L312.2,962.3 L313.2,962.3 L314.2,962.3 L315.2,962.3 L316.2,962.3 L317.2,962.3 L318.2,962.3 L319.2,962.3 L320.2,962.3 L321.2,962.3 L322.2,962.3 L323.2,962.3 L324.2,962.3 L325.2,962.3 L326.2,962.3 L327.2,962.3 L328.2,962.3 L329.2,962.3 L330.2,962.3 L331.2,962.3 L332.2,962.3 L333.2,962.3 L334.2,962.3 L335.2,962.3 L336.2,962.3 L337.2,962.3 L338.2,962.3 L339.2,962.3 L340.2,962.3 L341.2,962.3 L342.2,962.3 L343.2,962.3 L344.2,962.3 L345.2,962.3 L346.2,962.3 L347.2,962.3 L348.2,962.3 L349.2,962.3 L350.2,962.3 L351.2,962.3 L352.2,962.3 L353.2,962.3 L354.2,962.3 L355.2,962.3 L356.2,962.3 L357.2,962.3 L358.2,962.3 L359.2,962.3 L360.2,962.3 L361.2,962.3 L362.2,962.3 L363.2,962.3 L364.2,962.3 L365.2,962.3 L366.2,962.3 L367.2,962.3 L368.2,962.3 L369.2,962.3 L370.2,962.3 L371.2,962.3 L372.2,962.3 L373.2,962.3 L374.2,962.3 L375.2,962.3 L376.2,962.3 L377.2,962.3 L378.2,962.3 L379.2,962.3 L380.2,962.3 L381.2,962.3 L382.2,962.3 L383.2,962.3 L384.2,962.3 L385.2,962.3 L386.2,962.3 L387.2,962.3 L388.2,962.3 L389.2,962.3 L390.2,962.3 L391.2,962.3 L392.2,962.3 L393.2,962.3 L394.2,962.3 L395.2,962.3 L396.2,962.3 L397.2,962.3 L398.2,962.3 L399.2,962.3 L400.2,962.3 L401.2,962.3 L402.2,962.3 L403.2,962.3 L404.2,962.3 L405.2,962.3 L406.2,962.3 L407.2,962.3 L408.2,962.3 L409.2,962.3 L410.2,962.3 L411.2,962.3 L412.2,962.3 L413.2,962.3 L414.2,962.3 L415.2,962.3 L416.2,962.3 L417.2,962.3 L418.2,962.3 L419.2,962.3 L420.2,962.3 L421.2,962.3 L422.2,962.3 L423.2,962.3 L424.2,962.3 L425.2,962.3 L426.2,962.3 L427.2,962.3 L428.2,962.3 L429.2,962.3 L430.2,962.3 L431.2,962.3 L432.2,962.3 L433.2,962.3 L434.2,962.3 L435.2,962.3 L436.2,962.3 L437.2,962.3 L438.2,962.3 L439.2,962.3 L440.2,962.3 L441.2,962.3 L442.2,962.3 L443.2,962.3 L444.2,962.3 L445.2,962.3 L446.2,962.3 L447.2,962.3 L448.2,962.3 L449.2,962.3 L450.2,962.3 L451.2,962.3 L452.2,962.3 L453.2,962.3 L454.2,962.3 L455.2,962.3 L456.2,962.3 L457.2,962.3 L458.2,962.3 L459.2,962.3 L460.2,962.3 L461.2,962.3 L462.2,962.3 L463.2,962.3 L464.2,962.3 L465.2,962.3 L466.2,962.3 L467.2,962.3 L468.2,962.3 L469.2,962.3 L470.2,962.3 L471.2,962.3 L472.2,962.3 L473.2,962.3 L474.2,962.3 L475.2,962.3 L476.2,962.3 L477.2,962.3 L478.2,962.3 L479.2,962.3 L480.2,962.3 L481.2,962.3 L482.2,962.3 L483.2,962.3 L484.2,962.3 L485.2,962.3 L486.2,962.3 L487.2,962.3 L488.2,962.3 L489.2,962.3 L490.2,962.3 L491.2,962.3 L492.2,962.3 L493.2,962.3 L494.2,962.3 L495.2,962.3 L496.2,962.3 L497.2,962.3 L498.2,962.3 L499.2,962.3 L500.2,962.3 L501.2,962.3 L502.2,962.3 L503.2,962.3 L504.2,962.3 L505.2,962.3 L506.2,962.3 L507.2,962.3 L508.2,962.3 L509.2,962.3 L510.2,962.3 L511.2,962.3 L512.2,962.3 L513.2,962.3 L514.2,962.3 L515.2,962.3 L516.2,962.3 L517.2,962.3 L518.2,962.3 L519.2,962.3 L520.2,962.3 L521.2,962.3 L522.2,962.3 L523.2,962.3 L524.2,962.3 L525.2,962.3 L526.2,962.3 L527.2,962.3 L528.2,962.3 L529.2,962.3 L530.2,962.3 L531.2,962.3 L532.2,962.3 L533.2,962.3 L534.2,962.3 L535.2,962.3 L536.2,962.3 L537.2,962.3 L538.2,962.3 L539.2,962.3 L540.2,962.3 L541.2,962.3 L542.2,962.3 L543.2,962.3 L544.2,962.3 L545.2,962.3 L546.2,962.3 L547.2,962.3 L548.2,962.3 L549.2,962.3 L550.2,962.3 L551.2,962.3 L552.2,962.3 L553.2,962.3 L554.2,962.3 L555.2,962.3 L556.2,962.3 L557.2,962.3 L558.2,962.3 L559.2,962.3 L560.2,962.3 L561.2,962.3 L562.2,962.3 L563.2,962.3 L564.2,962.3 L565.2,962.3 L566.2,962.3 L567.2,962.3 L568.2,962.3 L569.2,962.3 L570.2,962.3 L571.2,962.3 L572.2,962.3 L573.2,962.3 L574.2,962.3 L575.2,962.3 L576.2,962.3 L577.2,962.3 L578.2,962.3 L579.2,962.3 L580.2,962.3 L581.2,962.3 L582.2,962.3 L583.2,962.3 L584.2,962.3 L585.2,962.3 L586.2,962.3 L587.2,962.3 L588.2,962.3 L589.2,962.3 L590.2,962.3 L591.2,962.3 L592.2,962.3 L593.2,962.3 L594.2,962.3 L595.2,962.3 L596.2,962.3 L597.2,962.3 L598.2,962.3 L599.2,962.3 L600.2,962.3 L601.2,962.3 L602.2,962.3 L603.2,962.3 L604.2,962.3 L605.2,962.3 L606.2,962.3 L607.2,962.3 L608.2,962.3 L609.2,962.3 L610.2,962.3 L611.2,962.3 L612.2,962.3 L613.2,962.3 L614.2,962.3 L615.2,962.3 L616.2,962.3 L617.2,962.3 L618.2,962.3 L619.2,962.3 L620.2,962.3 L621.2,962.3 L622.2,962.3 L623.2,962.3 L624.2,962.3 L625.2,962.3 L626.2,962.3 L627.2,962.3 L628.2,962.3 L629.2,962.3 L630.2,962.3 L631.2,962.3 L632.2,962.3 L633.2,962.3 L634.2,962.3 L635.2,962.3 L636.2,962.3 L637.2,962.3 L638.2,962.3 L639.2,962.3 L640.2,962.3 L641.2,962.3 L642.2,962.3 L643.2,962.3 L644.2,962.3 L645.2,962.3 L646.2,962.3 L647.2,962.3 L648.2,962.3 L649.2,962.3 L650.2,962.3 L651.2,962.3 L652.2,962.3 L653.2,962.3 L654.2,962.3 L655.2,962.3 L656.2,962.3 L657.2,962.3 L658.2,962.3 L659.2,962.3 L660.2,962.3 L661.2,962.3 L662.2,962.3 L663.2,962.3 L664.2,962.3 L665.2,962.3 L666.2,962.3 L667.2,962.3 L668.2,962.3 L669.2,962.3 L670.2,962.3 L671.2,962.3 L672.2,962.3 L673.2,962.3 L674.2,962.3 L675.2,962.3 L676.2,962.3 L677.2,962.3 L678.2,962.3 L679.2,962.3 L680.2,962.3 L681.2,962.3 L682.2,962.3 L683.2,962.3 L684.2,962.3 L685.2,962.3 L686.2,962.3 L687.2,962.3 L688.2,962.3 L689.2,962.3 L690.2,962.3 L691.2,962.3 L692.2,962.3 L693.2,962.3 L694.2,962.3 L695.2,962.3 L696.2,962.3 L697.2,962.3 L698.2,962.3 L699.2,962.3 L700.2,962.3 L701.2,962.3 L702.2,962.3 L703.2,962.3 L704.2,962.3 L705.2,962.3 L706.2,962.3 L707.2,962.3 L708.2,962.3 L709.2,962.3 L710.2,962.3 L711.2,962.3 L712.2,962.3 L713.2,962.3 L714.2,962.3 L715.2,962.3 L716.2,962.3 L717.2,962.3 L718.2,962.3 L719.2,962.3 L720.2,962.3 L721.2,962.3 L722.2,962.3 L723.2,962.3 L724.2,962.3 L725.2,962.3 L726.2,962.3 L727.2,962.3 L728.2,962.3 L729.2,962.3 L730.2,962.3 L731.2,962.3 L732.2,962.3 L733.2,962.3 L734.2,962.3 L735.2,962.3 L736.2,962.3 L737.2,962.3 L738.2,962.3 L739.2,962.3 L740.2,962.3 L741.2,962.3 L742.2,962.3 L743.2,962.3 L744.2,962.3 L745.2,962.3 L746.2,962.3 L747.2,962.3 L748.2,962.3 L749.2,962.3 L750.2,962.3 L751.2,962.3 L752.2,962.3 L753.2,962.3 L754.2,962.3 L755.2,962.3 L756.2,962.3 L757.2,962.3 L758.2,962.3 L759.2,962.3 L760.2,962.3 L761.2,962.3 L762.2,962.3 L763.2,962.3 L764.2,962.3 L765.2,962.3 L766.2,962.3 L767.2,962.3 L768.2,962.3 L769.2,962.3 L770.2,962.3 L771.2,962.3 L772.2,962.3 L773.2,962.3 L774.2,962.3 L775.2,962.3 L776.2,962.3 L777.2,962.3 L778.2,962.3 L779.2,962.3 L780.2,962.3 L781.2,962.3 L782.2,962.3 L783.2,962.3 L784.2,962.3 L785.2,962.3 L786.2,962.3 L787.2,962.3 L788.2,962.3 L789.2,962.3 L790.2,962.3 L791.2,962.3 L792.2,962.3 L793.2,962.3 L794.2,962.3 L795.2,962.3 L796.2,962.3 L797.2,962.3 L798.2,962.3 L799.2,962.3 L800.2,962.3 L801.2,962.3 L802.2,962.3 L803.2,962.3 L804.2,962.3 L805.2,962.3 L806.2,962.3 L807.2,962.3 L808.2,962.3 L809.2,962.3 L809.6,962.3" fill="none" stroke="#4c0a4c" stroke-width="2" stroke-linejoin="round"/>
<circle cx="163.2" cy="962.3" r="4" fill="#800480" stroke="#140000" stroke-width="1"/>
<circle cx="255.54" cy="962.3" r="4" fill="#800480" stroke="#140000" stroke-width="1"/>
<circle cx="347.89" cy="962.3" r="4" fill="#800480" stroke="#140000" stroke-width="1"/>
<circle cx="440.23" cy="962.3" r="4" fill="#800480" stroke="#140000" stroke-width="1"/>
<circle cx="532.57" cy="962.3" r="4" fill="#800480" stroke="#140000" stroke-width="1"/>
<circle cx="624.91" cy="962.3" r="4" fill="#800480" stroke="#140000" stroke-width="1"/>
<circle cx="717.26" cy="962.3" r="4" fill="#800480" stroke="#140000" stroke-width="1"/>
<circle cx="809.6" cy="962.3" r="4" fill="#800480" stroke="#140000" stroke-width="1"/>
<path d="M163.2,890 L164.2,889.65 L165.2,889.3 L166.2,888.95 L167.2,888.6 L168.2,888.25 L169.2,887.9 L170.2,887.56 L171.2,887.21 L172.2,886.86 L173.2,886.51 L174.2,886.17 L175.2,885.82 L176.2,885.48 L177.2,885.14 L178.2,884.79 L179.2,884.45 L180.2,884.11 L181.2,883.77 L182.2,883.43 L183.2,883.1 L184.2,882.76 L185.2,882.43 L186.2,882.09 L187.2,881.76 L188.2,881.43 L189.2,881.1 L190.2,880.78 L191.2,880.45 L192.2,880.13 L193.2,879.81 L194.2,879.49 L195.2,879.18 L196.2,878.86 L197.2,878.55 L198.2,878.24 L199.2,877.93 L200.2,877.63 L201.2,877.32 L202.2,877.02 L203.2,876.73 L204.2,876.43 L205.2,876.14 L206.2,875.85 L207.2,875.57 L208.2,875.28 L209.2,875 L210.2,874.72 L211.2,874.45 L212.2,874.18 L213.2,873.91 L214.2,873.65 L215.2,873.39 L216.2,873.13 L217.2,872.88 L218.2,872.62 L219.2,872.38 L220.2,872.14 L221.2,871.9 L222.2,871.66 L223.2,871.43 L224.2,871.2 L225.2,870.98 L226.2,870.76 L227.2,870.55 L228.2,870.34 L229.2,870.13 L230.2,869.93 L231.2,869.73 L232.2,869.54 L233.2,869.35 L234.2,869.17 L235.2,868.99 L236.2,868.82 L237.2,868.65 L238.2,868.48 L239.2,868.32 L240.2,868.17 L241.2,868.02 L242.2,867.88 L243.2,867.74 L244.2,867.61 L245.2,867.48 L246.2,867.36 L247.2,867.24 L248.2,867.13 L249.2,867.03 L250.2,866.93 L251.2,866.84 L252.2,866.75 L253.2,866.67 L254.2,866.59 L255.2,866.52 L256.2,866.46 L257.2,866.4 L258.2,866.35 L259.2,866.31 L260.2,866.27 L261.2,866.23 L262.2,866.21 L263.2,866.18 L264.2,866.17 L265.2,866.16 L266.2,866.15 L267.2,866.15 L268.2,866.15 L269.2,866.16 L270.2,866.18 L271.2,866.19 L272.2,866.22 L273.2,866.25 L274.2,866.28 L275.2,866.32 L276.2,866.36 L277.2,866.4 L278.2,866.45 L279.2,866.51 L280.2,866.57 L281.2,866.63 L282.2,866.69 L283.2,866.76 L284.2,866.84 L285.2,866.91 L286.2,866.99 L287.2,867.08 L288.2,867.16 L289.2,867.25 L290.2,867.35 L291.2,867.44 L292.2,867.54 L293.2,867.64 L294.2,867.74 L295.2,867.85 L296.2,867.96 L297.2,868.07 L298.2,868.19 L299.2,868.3 L300.2,868.42 L301.2,868.54 L302.2,868.66 L303.2,868.78 L304.2,868.91 L305.2,869.04 L306.2,869.17 L307.2,869.3 L308.2,869.43 L309.2,869.56 L310.2,869.69 L311.2,869.83 L312.2,869.97 L313.2,870.1 L314.2,870.24 L315.2,870.38 L316.2,870.52 L317.2,870.66 L318.2,870.8 L319.2,870.94 L320.2,871.08 L321.2,871.22 L322.2,871.36 L323.2,871.5 L324.2,871.64 L325.2,871.78 L326.2,871.92 L327.2,872.06 L328.2,872.2 L329.2,872.34 L330.2,872.48 L331.2,872.61 L332.2,872.75 L333.2,872.89 L334.2,873.02 L335.2,873.15 L336.2,873.28 L337.2,873.41 L338.2,873.54 L339.2,873.67 L340.2,873.8 L341.2,873.92 L342.2,874.04 L343.2,874.16 L344.2,874.28 L345.2,874.4 L346.2,874.51 L347.2,874.62 L348.2,874.73 L349.2,874.84 L350.2,874.95 L351.2,875.05 L352.2,875.15 L353.2,875.25 L354.2,875.34 L355.2,875.43 L356.2,875.53 L357.2,875.61 L358.2,875.7 L359.2,875.79 L360.2,875.87 L361.2,875.95 L362.2,876.03 L363.2,876.1 L364.2,876.18 L365.2,876.25 L366.2,876.32 L367.2,876.39 L368.2,876.46 L369.2,876.53 L370.2,876.59 L371.2,876.65 L372.2,876.72 L373.2,876.77 L374.2,876.83 L375.2,876.89 L376.2,876.94 L377.2,877 L378.2,877.05 L379.2,877.1 L380.2,877.15 L381.2,877.2 L382.2,877.24 L383.2,877.29 L384.2,877.33 L385.2,877.38 L386.2,877.42 L387.2,877.46 L388.2,877.5 L389.2,877.54 L390.2,877.58 L391.2,877.61 L392.2,877.65 L393.2,877.69 L394.2,877.72 L395.2,877.75 L396.2,877.79 L397.2,877.82 L398.2,877.85 L399.2,877.88 L400.2,877.91 L401.2,877.94 L402.2,877.97 L403.2,878 L404.2,878.02 L405.2,878.05 L406.2,878.08 L407.2,878.11 L408.2,878.13 L409.2,878.16 L410.2,878.18 L411.2,878.21 L412.2,878.23 L413.2,878.26 L414.2,878.28 L415.2,878.31 L416.2,878.33 L417.2,878.36 L418.2,878.38 L419.2,878.41 L420.2,878.43 L421.2,878.46 L422.2,878.48 L423.2,878.51 L424.2,878.53 L425.2,878.56 L426.2,878.59 L427.2,878.61 L428.2,878.64 L429.2,878.67 L430.2,878.69 L431.2,878.72 L432.2,878.75 L433.2,878.78 L434.2,878.81 L435.2,878.84 L436.2,878.87 L437.2,878.9 L438.2,878.93 L439.2,878.97 L440.2,879 L441.2,879.03 L442.2,879.07 L443.2,879.1 L444.2,879.14 L445.2,879.18 L446.2,879.22 L447.2,879.26 L448.2,879.3 L449.2,879.34 L450.2,879.38 L451.2,879.42 L452.2,879.46 L453.2,879.51 L454.2,879.55 L455.2,879.59 L456.2,879.64 L457.2,879.69 L458.2,879.73 L459.2,879.78 L460.2,879.83 L461.2,879.87 L462.2,879.92 L463.2,879.97 L464.2,880.02 L465.2,880.07 L466.2,880.12 L467.2,880.17 L468.2,880.22 L469.2,880.28 L470.2,880.33 L471.2,880.38 L472.2,880.44 L473.2,880.49 L474.2,880.54 L475.2,880.6 L476.2,880.65 L477.2,880.71 L478.2,880.76 L479.2,880.82 L480.2,880.87 L481.2,880.93 L482.2,880.99 L483.2,881.04 L484.2,881.1 L485.2,881.16 L486.2,881.22 L487.2,881.27 L488.2,881.33 L489.2,881.39 L490.2,881.45 L491.2,881.51 L492.2,881.57 L493.2,881.62 L494.2,881.68 L495.2,881.74 L496.2,881.8 L497.2,881.86 L498.2,881.92 L499.2,881.98 L500.2,882.04 L501.2,882.1 L502.2,882.16 L503.2,882.22 L504.2,882.28 L505.2,882.34 L506.2,882.39 L507.2,882.45 L508.2,882.51 L509.2,882.57 L510.2,882.63 L511.2,882.69 L512.2,882.75 L513.2,882.81 L514.2,882.87 L515.2,882.92 L516.2,882.98 L517.2,883.04 L518.2,883.1 L519.2,883.16 L520.2,883.21 L521.2,883.27 L522.2,883.33 L523.2,883.38 L524.2,883.44 L525.2,883.5 L526.2,883.55 L527.2,883.61 L528.2,883.66 L529.2,883.72 L530.2,883.77 L531.2,883.83 L532.2,883.88 L533.2,883.93 L534.2,883.99 L535.2,884.04 L536.2,884.09 L537.2,884.14 L538.2,884.19 L539.2,884.24 L540.2,884.3 L541.2,884.35 L542.2,884.39 L543.2,884.44 L544.2,884.49 L545.2,884.54 L546.2,884.59 L547.2,884.64 L548.2,884.68 L549.2,884.73 L550.2,884.77 L551.2,884.82 L552.2,884.86 L553.2,884.91 L554.2,884.95 L555.2,884.99 L556.2,885.04 L557.2,885.08 L558.2,885.12 L559.2,885.16 L560.2,885.2 L561.2,885.24 L562.2,885.28 L563.2,885.32 L564.2,885.36 L565.2,885.39 L566.2,885.43 L567.2,885.47 L568.2,885.5 L569.2,885.54 L570.2,885.57 L571.2,885.6 L572.2,885.64 L573.2,885.67 L574.2,885.7 L575.2,885.73 L576.2,885.76 L577.2,885.79 L578.2,885.82 L579.2,885.85 L580.2,885.88 L581.2,885.9 L582.2,885.93 L583.2,885.96 L584.2,885.98 L585.2,886.01 L586.2,886.03 L587.2,886.05 L588.2,886.07 L589.2,886.09 L590.2,886.11 L591.2,886.13 L592.2,886.15 L593.2,886.17 L594.2,886.19 L595.2,886.2 L596.2,886.22 L597.2,886.23 L598.2,886.25 L599.2,886.26 L600.2,886.27 L601.2,886.29 L602.2,886.3 L603.2,886.31 L604.2,886.32 L605.2,886.32 L606.2,886.33 L607.2,886.34 L608.2,886.34 L609.2,886.35 L610.2,886.35 L611.2,886.35 L612.2,886.36 L613.2,886.36 L614.2,886.36 L615.2,886.36 L616.2,886.35 L617.2,886.35 L618.2,886.35 L619.2,886.34 L620.2,886.34 L621.2,886.33 L622.2,886.32 L623.2,886.32 L624.2,886.31 L625.2,886.3 L626.2,886.29 L627.2,886.27 L628.2,886.26 L629.2,886.25 L630.2,886.23 L631.2,886.22 L632.2,886.2 L633.2,886.18 L634.2,886.16 L635.2,886.14 L636.2,886.12 L637.2,886.1 L638.2,886.08 L639.2,886.06 L640.2,886.03 L641.2,886.01 L642.2,885.99 L643.2,885.96 L644.2,885.94 L645.2,885.91 L646.2,885.88 L647.2,885.85 L648.2,885.83 L649.2,885.8 L650.2,885.77 L651.2,885.74 L652.2,885.71 L653.2,885.68 L654.2,885.65 L655.2,885.61 L656.2,885.58 L657.2,885.55 L658.2,885.52 L659.2,885.48 L660.2,885.45 L661.2,885.41 L662.2,885.38 L663.2,885.34 L664.2,885.31 L665.2,885.27 L666.2,885.24 L667.2,885.2 L668.2,885.17 L669.2,885.13 L670.2,885.09 L671.2,885.06 L672.2,885.02 L673.2,884.98 L674.2,884.95 L675.2,884.91 L676.2,884.87 L677.2,884.83 L678.2,884.8 L679.2,884.76 L680.2,884.72 L681.2,884.68 L682.2,884.65 L683.2,884.61 L684.2,884.57 L685.2,884.53 L686.2,884.5 L687.2,884.46 L688.2,884.42 L689.2,884.39 L690.2,884.35 L691.2,884.31 L692.2,884.28 L693.2,884.24 L694.2,884.21 L695.2,884.17 L696.2,884.14 L697.2,884.1 L698.2,884.07 L699.2,884.03 L700.2,884 L701.2,883.97 L702.2,883.93 L703.2,883.9 L704.2,883.87 L705.2,883.84 L706.2,883.81 L707.2,883.78 L708.2,883.75 L709.2,883.72 L710.2,883.69 L711.2,883.66 L712.2,883.63 L713.2,883.6 L714.2,883.58 L715.2,883.55 L716.2,883.53 L717.2,883.5 L718.2,883.48 L719.2,883.45 L720.2,883.43 L721.2,883.41 L722.2,883.39 L723.2,883.37 L724.2,883.35 L725.2,883.33 L726.2,883.31 L727.2,883.29 L728.2,883.27 L729.2,883.26 L730.2,883.24 L731.2,883.22 L732.2,883.21 L733.2,883.19 L734.2,883.18 L735.2,883.17 L736.2,883.15 L737.2,883.14 L738.2,883.13 L739.2,883.12 L740.2,883.11 L741.2,883.1 L742.2,883.09 L743.2,883.08 L744.2,883.07 L745.2,883.06 L746.2,883.05 L747.2,883.04 L748.2,883.04 L749.2,883.03 L750.2,883.03 L751.2,883.02 L752.2,883.01 L753.2,883.01 L754.2,883.01 L755.2,883 L756.2,883 L757.2,882.99 L758.2,882.99 L759.2,882.99 L760.2,882.99 L761.2,882.99 L762.2,882.99 L763.2,882.98 L764.2,882.98 L765.2,882.98 L766.2,882.98 L767.2,882.98 L768.2,882.98 L769.2,882.99 L770.2,882.99 L771.2,882.99 L772.2,882.99 L773.2,882.99 L774.2,883 L775.2,883 L776.2,883 L777.2,883.01 L778.2,883.01 L779.2,883.01 L780.2,883.02 L781.2,883.02 L782.2,883.02 L783.2,883.03 L784.2,883.03 L785.2,883.04 L786.2,883.04 L787.2,883.05 L788.2,883.06 L789.2,883.06 L790.2,883.07 L791.2,883.07 L792.2,883.08 L793.2,883.09 L794.2,883.09 L795.2,883.1 L796.2,883.1 L797.2,883.11 L798.2,883.12 L799.2,883.13 L800.2,883.13 L801.2,883.14 L802.2,883.15 L803.2,883.15 L804.2,883.16 L805.2,883.17 L806.2,883.18 L807.2,883.18 L808.2,883.19 L809.2,883.2 L809.6,883.2" fill="none" stroke="#00008c" stroke-width="2" stroke-linejoin="round"/>
<circle cx="163.2" cy="890" r="4" fill="#0808f0" stroke="#140000" stroke-width="1"/>
<circle cx="255.54" cy="866.5" r="4" fill="#0808f0" stroke="#140000" stroke-width="1"/>
<circle cx="347.89" cy="874.7" r="4" fill="#0808f0" stroke="#140000" stroke-width="1"/>
<circle cx="440.23" cy="879" r="4" fill="#0808f0" stroke="#140000" stroke-width="1"/>
<circle cx="532.57" cy="883.9" r="4" fill="#0808f0" stroke="#140000" stroke-width="1"/>
<circle cx="624.91" cy="886.3" r="4" fill="#0808f0" stroke="#140000" stroke-width="1"/>
<circle cx="717.26" cy="883.5" r="4" fill="#0808f0" stroke="#140000" stroke-width="1"/>
<circle cx="809.6" cy="883.2" r="4" fill="#0808f0" stroke="#140000" stroke-width="1"/>
<path d="M163.2,867.8 L164.2,866.89 L165.2,865.99 L166.2,865.08 L167.2,864.18 L168.2,863.27 L169.2,862.37 L170.2,861.47 L171.2,860.56 L172.2,859.66 L173.2,858.76 L174.2,857.86 L175.2,856.96 L176.2,856.06 L177.2,855.16 L178.2,854.26 L179.2,853.37 L180.2,852.47 L181.2,851.58 L182.2,850.69 L183.2,849.79 L184.2,848.91 L185.2,848.02 L186.2,847.13 L187.2,846.25 L188.2,845.37 L189.2,844.49 L190.2,843.61 L191.2,842.73 L192.2,841.86 L193.2,840.98 L194.2,840.12 L195.2,839.25 L196.2,838.38 L197.2,837.52 L198.2,836.66 L199.2,835.8 L200.2,834.95 L201.2,834.1 L202.2,833.25 L203.2,832.41 L204.2,831.56 L205.2,830.72 L206.2,829.89 L207.2,829.06 L208.2,828.23 L209.2,827.4 L210.2,826.58 L211.2,825.76 L212.2,824.95 L213.2,824.13 L214.2,823.33 L215.2,822.52 L216.2,821.73 L217.2,820.93 L218.2,820.14 L219.2,819.35 L220.2,818.57 L221.2,817.79 L222.2,817.02 L223.2,816.25 L224.2,815.48 L225.2,814.72 L226.2,813.97 L227.2,813.22 L228.2,812.47 L229.2,811.73 L230.2,811 L231.2,810.27 L232.2,809.54 L233.2,808.82 L234.2,808.11 L235.2,807.4 L236.2,806.7 L237.2,806 L238.2,805.31 L239.2,804.62 L240.2,803.94 L241.2,803.27 L242.2,802.6 L243.2,801.94 L244.2,801.28 L245.2,800.63 L246.2,799.99 L247.2,799.35 L248.2,798.72 L249.2,798.1 L250.2,797.48 L251.2,796.87 L252.2,796.27 L253.2,795.67 L254.2,795.08 L255.2,794.5 L256.2,793.92 L257.2,793.35 L258.2,792.79 L259.2,792.24 L260.2,791.69 L261.2,791.15 L262.2,790.61 L263.2,790.09 L264.2,789.57 L265.2,789.05 L266.2,788.55 L267.2,788.05 L268.2,787.55 L269.2,787.07 L270.2,786.59 L271.2,786.11 L272.2,785.65 L273.2,785.19 L274.2,784.73 L275.2,784.29 L276.2,783.85 L277.2,783.41 L278.2,782.98 L279.2,782.56 L280.2,782.15 L281.2,781.74 L282.2,781.33 L283.2,780.94 L284.2,780.55 L285.2,780.16 L286.2,779.78 L287.2,779.41 L288.2,779.05 L289.2,778.69 L290.2,778.33 L291.2,777.98 L292.2,777.64 L293.2,777.3 L294.2,776.97 L295.2,776.65 L296.2,776.33 L297.2,776.02 L298.2,775.71 L299.2,775.41 L300.2,775.11 L301.2,774.82 L302.2,774.53 L303.2,774.25 L304.2,773.98 L305.2,773.71 L306.2,773.44 L307.2,773.19 L308.2,772.93 L309.2,772.68 L310.2,772.44 L311.2,772.2 L312.2,771.97 L313.2,771.75 L314.2,771.52 L315.2,771.31 L316.2,771.09 L317.2,770.89 L318.2,770.69 L319.2,770.49 L320.2,770.3 L321.2,770.11 L322.2,769.93 L323.2,769.75 L324.2,769.58 L325.2,769.41 L326.2,769.25 L327.2,769.09 L328.2,768.94 L329.2,768.79 L330.2,768.64 L331.2,768.5 L332.2,768.37 L333.2,768.23 L334.2,768.11 L335.2,767.99 L336.2,767.87 L337.2,767.75 L338.2,767.64 L339.2,767.54 L340.2,767.44 L341.2,767.34 L342.2,767.25 L343.2,767.16 L344.2,767.08 L345.2,767 L346.2,766.92 L347.2,766.85 L348.2,766.78 L349.2,766.71 L350.2,766.65 L351.2,766.6 L352.2,766.54 L353.2,766.49 L354.2,766.45 L355.2,766.41 L356.2,766.37 L357.2,766.33 L358.2,766.3 L359.2,766.27 L360.2,766.25 L361.2,766.22 L362.2,766.2 L363.2,766.19 L364.2,766.17 L365.2,766.16 L366.2,766.16 L367.2,766.15 L368.2,766.15 L369.2,766.15 L370.2,766.15 L371.2,766.16 L372.2,766.17 L373.2,766.18 L374.2,766.19 L375.2,766.21 L376.2,766.22 L377.2,766.24 L378.2,766.27 L379.2,766.29 L380.2,766.32 L381.2,766.34 L382.2,766.37 L383.2,766.41 L384.2,766.44 L385.2,766.47 L386.2,766.51 L387.2,766.55 L388.2,766.59 L389.2,766.63 L390.2,766.67 L391.2,766.72 L392.2,766.76 L393.2,766.81 L394.2,766.86 L395.2,766.9 L396.2,766.95 L397.2,767 L398.2,767.06 L399.2,767.11 L400.2,767.16 L401.2,767.21 L402.2,767.27 L403.2,767.32 L404.2,767.38 L405.2,767.43 L406.2,767.49 L407.2,767.55 L408.2,767.6 L409.2,767.66 L410.2,767.72 L411.2,767.78 L412.2,767.83 L413.2,767.89 L414.2,767.95 L415.2,768 L416.2,768.06 L417.2,768.12 L418.2,768.17 L419.2,768.23 L420.2,768.29 L421.2,768.34 L422.2,768.39 L423.2,768.45 L424.2,768.5 L425.2,768.55 L426.2,768.6 L427.2,768.65 L428.2,768.7 L429.2,768.75 L430.2,768.8 L431.2,768.85 L432.2,768.89 L433.2,768.93 L434.2,768.98 L435.2,769.02 L436.2,769.06 L437.2,769.09 L438.2,769.13 L439.2,769.17 L440.2,769.2 L441.2,769.23 L442.2,769.26 L443.2,769.29 L444.2,769.31 L445.2,769.34 L446.2,769.36 L447.2,769.38 L448.2,769.4 L449.2,769.42 L450.2,769.44 L451.2,769.45 L452.2,769.47 L453.2,769.48 L454.2,769.49 L455.2,769.5 L456.2,769.51 L457.2,769.52 L458.2,769.53 L459.2,769.53 L460.2,769.54 L461.2,769.54 L462.2,769.54 L463.2,769.55 L464.2,769.55 L465.2,769.55 L466.2,769.55 L467.2,769.54 L468.2,769.54 L469.2,769.54 L470.2,769.53 L471.2,769.53 L472.2,769.52 L473.2,769.52 L474.2,769.51 L475.2,769.5 L476.2,769.5 L477.2,769.49 L478.2,769.48 L479.2,769.47 L480.2,769.46 L481.2,769.45 L482.2,769.44 L483.2,769.43 L484.2,769.42 L485.2,769.41 L486.2,769.4 L487.2,769.39 L488.2,769.38 L489.2,769.37 L490.2,769.36 L491.2,769.35 L492.2,769.34 L493.2,769.33 L494.2,769.32 L495.2,769.31 L496.2,769.3 L497.2,769.29 L498.2,769.28 L499.2,769.27 L500.2,769.26 L501.2,769.25 L502.2,769.24 L503.2,769.23 L504.2,769.23 L505.2,769.22 L506.2,769.22 L507.2,769.21 L508.2,769.21 L509.2,769.2 L510.2,769.2 L511.2,769.2 L512.2,769.2 L513.2,769.2 L514.2,769.2 L515.2,769.2 L516.2,769.2 L517.2,769.2 L518.2,769.21 L519.2,769.21 L520.2,769.22 L521.2,769.22 L522.2,769.23 L523.2,769.24 L524.2,769.25 L525.2,769.27 L526.2,769.28 L527.2,769.3 L528.2,769.31 L529.2,769.33 L530.2,769.35 L531.2,769.37 L532.2,769.39 L533.2,769.42 L534.2,769.44 L535.2,769.47 L536.2,769.5 L537.2,769.53 L538.2,769.56 L539.2,769.59 L540.2,769.62 L541.2,769.66 L542.2,769.7 L543.2,769.73 L544.2,769.77 L545.2,769.81 L546.2,769.86 L547.2,769.9 L548.2,769.94 L549.2,769.99 L550.2,770.03 L551.2,770.08 L552.2,770.13 L553.2,770.18 L554.2,770.23 L555.2,770.28 L556.2,770.34 L557.2,770.39 L558.2,770.44 L559.2,770.5 L560.2,770.55 L561.2,770.61 L562.2,770.67 L563.2,770.73 L564.2,770.79 L565.2,770.85 L566.2,770.91 L567.2,770.97 L568.2,771.03 L569.2,771.09 L570.2,771.15 L571.2,771.22 L572.2,771.28 L573.2,771.34 L574.2,771.41 L575.2,771.47 L576.2,771.54 L577.2,771.6 L578.2,771.67 L579.2,771.74 L580.2,771.8 L581.2,771.87 L582.2,771.94 L583.2,772 L584.2,772.07 L585.2,772.14 L586.2,772.21 L587.2,772.27 L588.2,772.34 L589.2,772.41 L590.2,772.48 L591.2,772.54 L592.2,772.61 L593.2,772.68 L594.2,772.75 L595.2,772.81 L596.2,772.88 L597.2,772.95 L598.2,773.01 L599.2,773.08 L600.2,773.15 L601.2,773.21 L602.2,773.28 L603.2,773.34 L604.2,773.41 L605.2,773.47 L606.2,773.53 L607.2,773.6 L608.2,773.66 L609.2,773.72 L610.2,773.78 L611.2,773.84 L612.2,773.9 L613.2,773.96 L614.2,774.02 L615.2,774.08 L616.2,774.14 L617.2,774.19 L618.2,774.25 L619.2,774.3 L620.2,774.36 L621.2,774.41 L622.2,774.46 L623.2,774.51 L624.2,774.56 L625.2,774.61 L626.2,774.66 L627.2,774.71 L628.2,774.76 L629.2,774.8 L630.2,774.85 L631.2,774.89 L632.2,774.93 L633.2,774.97 L634.2,775.01 L635.2,775.05 L636.2,775.09 L637.2,775.13 L638.2,775.17 L639.2,775.2 L640.2,775.24 L641.2,775.27 L642.2,775.31 L643.2,775.34 L644.2,775.37 L645.2,775.4 L646.2,775.43 L647.2,775.46 L648.2,775.49 L649.2,775.52 L650.2,775.55 L651.2,775.57 L652.2,775.6 L653.2,775.63 L654.2,775.65 L655.2,775.68 L656.2,775.7 L657.2,775.72 L658.2,775.74 L659.2,775.77 L660.2,775.79 L661.2,775.81 L662.2,775.83 L663.2,775.85 L664.2,775.87 L665.2,775.89 L666.2,775.91 L667.2,775.92 L668.2,775.94 L669.2,775.96 L670.2,775.97 L671.2,775.99 L672.2,776.01 L673.2,776.02 L674.2,776.04 L675.2,776.05 L676.2,776.06 L677.2,776.08 L678.2,776.09 L679.2,776.1 L680.2,776.12 L681.2,776.13 L682.2,776.14 L683.2,776.15 L684.2,776.17 L685.2,776.18 L686.2,776.19 L687.2,776.2 L688.2,776.21 L689.2,776.22 L690.2,776.23 L691.2,776.24 L692.2,776.25 L693.2,776.26 L694.2,776.27 L695.2,776.28 L696.2,776.29 L697.2,776.3 L698.2,776.31 L699.2,776.32 L700.2,776.33 L701.2,776.34 L702.2,776.35 L703.2,776.36 L704.2,776.37 L705.2,776.38 L706.2,776.39 L707.2,776.4 L708.2,776.41 L709.2,776.42 L710.2,776.43 L711.2,776.44 L712.2,776.45 L713.2,776.46 L714.2,776.47 L715.2,776.48 L716.2,776.49 L717.2,776.5 L718.2,776.51 L719.2,776.52 L720.2,776.53 L721.2,776.55 L722.2,776.56 L723.2,776.57 L724.2,776.58 L725.2,776.59 L726.2,776.61 L727.2,776.62 L728.2,776.63 L729.2,776.65 L730.2,776.66 L731.2,776.67 L732.2,776.69 L733.2,776.7 L734.2,776.71 L735.2,776.73 L736.2,776.74 L737.2,776.76 L738.2,776.77 L739.2,776.79 L740.2,776.8 L741.2,776.82 L742.2,776.83 L743.2,776.85 L744.2,776.86 L745.2,776.88 L746.2,776.9 L747.2,776.91 L748.2,776.93 L749.2,776.95 L750.2,776.96 L751.2,776.98 L752.2,777 L753.2,777.01 L754.2,777.03 L755.2,777.05 L756.2,777.06 L757.2,777.08 L758.2,777.1 L759.2,777.12 L760.2,777.13 L761.2,777.15 L762.2,777.17 L763.2,777.19 L764.2,777.21 L765.2,777.22 L766.2,777.24 L767.2,777.26 L768.2,777.28 L769.2,777.3 L770.2,777.32 L771.2,777.34 L772.2,777.35 L773.2,777.37 L774.2,777.39 L775.2,777.41 L776.2,777.43 L777.2,777.45 L778.2,777.47 L779.2,777.49 L780.2,777.51 L781.2,777.53 L782.2,777.55 L783.2,777.57 L784.2,777.59 L785.2,777.61 L786.2,777.63 L787.2,777.65 L788.2,777.67 L789.2,777.69 L790.2,777.71 L791.2,777.73 L792.2,777.75 L793.2,777.77 L794.2,777.79 L795.2,777.81 L796.2,777.83 L797.2,777.85 L798.2,777.87 L799.2,777.89 L800.2,777.91 L801.2,777.93 L802.2,777.95 L803.2,777.97 L804.2,777.99 L805.2,778.01 L806.2,778.03 L807.2,778.05 L808.2,778.07 L809.2,778.09 L809.6,778.1" fill="none" stroke="#40d0d0" stroke-width="2" stroke-linejoin="round"/>
<circle cx="163.2" cy="867.8" r="4" fill="#28ecee" stroke="#140000" stroke-width="1"/>
<circle cx="255.54" cy="794.3" r="4" fill="#28ecee" stroke="#140000" stroke-width="1"/>
<circle cx="347.89" cy="766.8" r="4" fill="#28ecee" stroke="#140000" stroke-width="1"/>
<circle cx="440.23" cy="769.2" r="4" fill="#28ecee" stroke="#140000" stroke-width="1"/>
<circle cx="532.57" cy="769.4" r="4" fill="#28ecee" stroke="#140000" stroke-width="1"/>
<circle cx="624.91" cy="774.6" r="4" fill="#28ecee" stroke="#140000" stroke-width="1"/>
<circle cx="717.26" cy="776.5" r="4" fill="#28ecee" stroke="#140000" stroke-width="1"/>
<circle cx="809.6" cy="778.1" r="4" fill="#28ecee" stroke="#140000" stroke-width="1"/>
<path d="M163.2,858.2 L164.2,857.43 L165.2,856.66 L166.2,855.89 L167.2,855.11 L168.2,854.34 L169.2,853.57 L170.2,852.79 L171.2,852.02 L172.2,851.24 L173.2,850.47 L174.2,849.69 L175.2,848.91 L176.2,848.13 L177.2,847.35 L178.2,846.57 L179.2,845.78 L180.2,844.99 L181.2,844.21 L182.2,843.41 L183.2,842.62 L184.2,841.83 L185.2,841.03 L186.2,840.23 L187.2,839.43 L188.2,838.62 L189.2,837.81 L190.2,837 L191.2,836.19 L192.2,835.37 L193.2,834.55 L194.2,833.72 L195.2,832.9 L196.2,832.06 L197.2,831.23 L198.2,830.39 L199.2,829.55 L200.2,828.7 L201.2,827.85 L202.2,826.99 L203.2,826.13 L204.2,825.27 L205.2,824.4 L206.2,823.52 L207.2,822.64 L208.2,821.76 L209.2,820.87 L210.2,819.97 L211.2,819.07 L212.2,818.17 L213.2,817.26 L214.2,816.34 L215.2,815.42 L216.2,814.49 L217.2,813.55 L218.2,812.61 L219.2,811.67 L220.2,810.71 L221.2,809.75 L222.2,808.79 L223.2,807.81 L224.2,806.83 L225.2,805.85 L226.2,804.85 L227.2,803.85 L228.2,802.84 L229.2,801.83 L230.2,800.8 L231.2,799.77 L232.2,798.73 L233.2,797.69 L234.2,796.63 L235.2,795.57 L236.2,794.5 L237.2,793.42 L238.2,792.33 L239.2,791.23 L240.2,790.13 L241.2,789.01 L242.2,787.89 L243.2,786.76 L244.2,785.62 L245.2,784.47 L246.2,783.31 L247.2,782.14 L248.2,780.96 L249.2,779.77 L250.2,778.57 L251.2,777.36 L252.2,776.15 L253.2,774.92 L254.2,773.68 L255.2,772.43 L256.2,771.17 L257.2,769.9 L258.2,768.62 L259.2,767.33 L260.2,766.04 L261.2,764.73 L262.2,763.42 L263.2,762.1 L264.2,760.77 L265.2,759.44 L266.2,758.1 L267.2,756.75 L268.2,755.41 L269.2,754.05 L270.2,752.7 L271.2,751.34 L272.2,749.97 L273.2,748.61 L274.2,747.24 L275.2,745.88 L276.2,744.51 L277.2,743.14 L278.2,741.77 L279.2,740.41 L280.2,739.04 L281.2,737.68 L282.2,736.32 L283.2,734.96 L284.2,733.6 L285.2,732.25 L286.2,730.9 L287.2,729.56 L288.2,728.23 L289.2,726.9 L290.2,725.57 L291.2,724.25 L292.2,722.95 L293.2,721.64 L294.2,720.35 L295.2,719.07 L296.2,717.79 L297.2,716.53 L298.2,715.27 L299.2,714.03 L300.2,712.8 L301.2,711.57 L302.2,710.37 L303.2,709.17 L304.2,707.99 L305.2,706.82 L306.2,705.67 L307.2,704.53 L308.2,703.41 L309.2,702.3 L310.2,701.21 L311.2,700.14 L312.2,699.08 L313.2,698.05 L314.2,697.03 L315.2,696.03 L316.2,695.05 L317.2,694.09 L318.2,693.15 L319.2,692.23 L320.2,691.33 L321.2,690.45 L322.2,689.6 L323.2,688.77 L324.2,687.96 L325.2,687.18 L326.2,686.42 L327.2,685.69 L328.2,684.98 L329.2,684.3 L330.2,683.65 L331.2,683.02 L332.2,682.42 L333.2,681.85 L334.2,681.3 L335.2,680.79 L336.2,680.3 L337.2,679.85 L338.2,679.43 L339.2,679.03 L340.2,678.67 L341.2,678.34 L342.2,678.04 L343.2,677.78 L344.2,677.55 L345.2,677.35 L346.2,677.19 L347.2,677.07 L348.2,676.98 L349.2,676.92 L350.2,676.9 L351.2,676.91 L352.2,676.96 L353.2,677.04 L354.2,677.16 L355.2,677.3 L356.2,677.48 L357.2,677.69 L358.2,677.93 L359.2,678.19 L360.2,678.49 L361.2,678.81 L362.2,679.16 L363.2,679.54 L364.2,679.94 L365.2,680.37 L366.2,680.82 L367.2,681.3 L368.2,681.8 L369.2,682.33 L370.2,682.87 L371.2,683.44 L372.2,684.03 L373.2,684.63 L374.2,685.26 L375.2,685.91 L376.2,686.57 L377.2,687.25 L378.2,687.95 L379.2,688.67 L380.2,689.4 L381.2,690.14 L382.2,690.9 L383.2,691.68 L384.2,692.46 L385.2,693.26 L386.2,694.07 L387.2,694.9 L388.2,695.73 L389.2,696.57 L390.2,697.42 L391.2,698.28 L392.2,699.15 L393.2,700.02 L394.2,700.9 L395.2,701.79 L396.2,702.68 L397.2,703.58 L398.2,704.48 L399.2,705.38 L400.2,706.29 L401.2,707.19 L402.2,708.1 L403.2,709.01 L404.2,709.92 L405.2,710.83 L406.2,711.74 L407.2,712.65 L408.2,713.55 L409.2,714.45 L410.2,715.35 L411.2,716.24 L412.2,717.12 L413.2,718 L414.2,718.88 L415.2,719.75 L416.2,720.6 L417.2,721.46 L418.2,722.3 L419.2,723.13 L420.2,723.95 L421.2,724.76 L422.2,725.56 L423.2,726.34 L424.2,727.12 L425.2,727.88 L426.2,728.62 L427.2,729.35 L428.2,730.07 L429.2,730.77 L430.2,731.45 L431.2,732.11 L432.2,732.76 L433.2,733.38 L434.2,733.99 L435.2,734.58 L436.2,735.14 L437.2,735.69 L438.2,736.21 L439.2,736.71 L440.2,737.19 L441.2,737.64 L442.2,738.07 L443.2,738.47 L444.2,738.86 L445.2,739.22 L446.2,739.56 L447.2,739.87 L448.2,740.17 L449.2,740.44 L450.2,740.7 L451.2,740.94 L452.2,741.15 L453.2,741.35 L454.2,741.53 L455.2,741.69 L456.2,741.84 L457.2,741.96 L458.2,742.07 L459.2,742.17 L460.2,742.25 L461.2,742.31 L462.2,742.36 L463.2,742.39 L464.2,742.41 L465.2,742.42 L466.2,742.42 L467.2,742.4 L468.2,742.37 L469.2,742.32 L470.2,742.27 L471.2,742.21 L472.2,742.13 L473.2,742.05 L474.2,741.95 L475.2,741.85 L476.2,741.74 L477.2,741.62 L478.2,741.49 L479.2,741.35 L480.2,741.21 L481.2,741.06 L482.2,740.91 L483.2,740.75 L484.2,740.59 L485.2,740.42 L486.2,740.24 L487.2,740.07 L488.2,739.89 L489.2,739.7 L490.2,739.52 L491.2,739.33 L492.2,739.14 L493.2,738.95 L494.2,738.76 L495.2,738.57 L496.2,738.38 L497.2,738.19 L498.2,738 L499.2,737.82 L500.2,737.63 L501.2,737.45 L502.2,737.27 L503.2,737.09 L504.2,736.92 L505.2,736.75 L506.2,736.59 L507.2,736.43 L508.2,736.28 L509.2,736.13 L510.2,735.99 L511.2,735.86 L512.2,735.73 L513.2,735.62 L514.2,735.51 L515.2,735.41 L516.2,735.31 L517.2,735.23 L518.2,735.16 L519.2,735.1 L520.2,735.05 L521.2,735.01 L522.2,734.98 L523.2,734.97 L524.2,734.96 L525.2,734.97 L526.2,735 L527.2,735.04 L528.2,735.09 L529.2,735.16 L530.2,735.24 L531.2,735.34 L532.2,735.45 L533.2,735.58 L534.2,735.73 L535.2,735.9 L536.2,736.08 L537.2,736.27 L538.2,736.48 L539.2,736.71 L540.2,736.95 L541.2,737.2 L542.2,737.47 L543.2,737.75 L544.2,738.04 L545.2,738.34 L546.2,738.66 L547.2,738.99 L548.2,739.33 L549.2,739.67 L550.2,740.03 L551.2,740.4 L552.2,740.78 L553.2,741.17 L554.2,741.56 L555.2,741.97 L556.2,742.38 L557.2,742.8 L558.2,743.22 L559.2,743.66 L560.2,744.09 L561.2,744.54 L562.2,744.99 L563.2,745.44 L564.2,745.9 L565.2,746.37 L566.2,746.83 L567.2,747.3 L568.2,747.78 L569.2,748.25 L570.2,748.73 L571.2,749.21 L572.2,749.69 L573.2,750.17 L574.2,750.65 L575.2,751.14 L576.2,751.62 L577.2,752.1 L578.2,752.58 L579.2,753.06 L580.2,753.53 L581.2,754.01 L582.2,754.48 L583.2,754.95 L584.2,755.41 L585.2,755.88 L586.2,756.33 L587.2,756.79 L588.2,757.23 L589.2,757.67 L590.2,758.11 L591.2,758.54 L592.2,758.96 L593.2,759.38 L594.2,759.78 L595.2,760.18 L596.2,760.58 L597.2,760.96 L598.2,761.33 L599.2,761.7 L600.2,762.05 L601.2,762.39 L602.2,762.73 L603.2,763.05 L604.2,763.36 L605.2,763.66 L606.2,763.94 L607.2,764.22 L608.2,764.48 L609.2,764.72 L610.2,764.96 L611.2,765.17 L612.2,765.38 L613.2,765.56 L614.2,765.74 L615.2,765.89 L616.2,766.03 L617.2,766.16 L618.2,766.26 L619.2,766.35 L620.2,766.42 L621.2,766.47 L622.2,766.51 L623.2,766.52 L624.2,766.52 L625.2,766.49 L626.2,766.44 L627.2,766.38 L628.2,766.29 L629.2,766.19 L630.2,766.07 L631.2,765.93 L632.2,765.77 L633.2,765.59 L634.2,765.39 L635.2,765.18 L636.2,764.95 L637.2,764.71 L638.2,764.45 L639.2,764.17 L640.2,763.88 L641.2,763.57 L642.2,763.25 L643.2,762.91 L644.2,762.56 L645.2,762.2 L646.2,761.82 L647.2,761.43 L648.2,761.03 L649.2,760.61 L650.2,760.19 L651.2,759.75 L652.2,759.3 L653.2,758.84 L654.2,758.36 L655.2,757.88 L656.2,757.39 L657.2,756.89 L658.2,756.38 L659.2,755.86 L660.2,755.34 L661.2,754.8 L662.2,754.26 L663.2,753.71 L664.2,753.15 L665.2,752.59 L666.2,752.01 L667.2,751.44 L668.2,750.86 L669.2,750.27 L670.2,749.68 L671.2,749.08 L672.2,748.48 L673.2,747.87 L674.2,747.26 L675.2,746.65 L676.2,746.03 L677.2,745.41 L678.2,744.79 L679.2,744.17 L680.2,743.55 L681.2,742.92 L682.2,742.3 L683.2,741.67 L684.2,741.04 L685.2,740.42 L686.2,739.79 L687.2,739.17 L688.2,738.54 L689.2,737.92 L690.2,737.3 L691.2,736.68 L692.2,736.07 L693.2,735.45 L694.2,734.84 L695.2,734.24 L696.2,733.64 L697.2,733.04 L698.2,732.44 L699.2,731.86 L700.2,731.27 L701.2,730.7 L702.2,730.13 L703.2,729.56 L704.2,729 L705.2,728.45 L706.2,727.91 L707.2,727.38 L708.2,726.85 L709.2,726.33 L710.2,725.82 L711.2,725.32 L712.2,724.83 L713.2,724.35 L714.2,723.87 L715.2,723.41 L716.2,722.96 L717.2,722.52 L718.2,722.1 L719.2,721.68 L720.2,721.28 L721.2,720.88 L722.2,720.5 L723.2,720.13 L724.2,719.77 L725.2,719.42 L726.2,719.08 L727.2,718.75 L728.2,718.43 L729.2,718.13 L730.2,717.83 L731.2,717.54 L732.2,717.26 L733.2,716.99 L734.2,716.74 L735.2,716.49 L736.2,716.25 L737.2,716.02 L738.2,715.79 L739.2,715.58 L740.2,715.38 L741.2,715.18 L742.2,714.99 L743.2,714.82 L744.2,714.65 L745.2,714.48 L746.2,714.33 L747.2,714.19 L748.2,714.05 L749.2,713.92 L750.2,713.79 L751.2,713.68 L752.2,713.57 L753.2,713.47 L754.2,713.38 L755.2,713.29 L756.2,713.21 L757.2,713.14 L758.2,713.07 L759.2,713.01 L760.2,712.96 L761.2,712.91 L762.2,712.87 L763.2,712.83 L764.2,712.8 L765.2,712.78 L766.2,712.76 L767.2,712.75 L768.2,712.74 L769.2,712.74 L770.2,712.74 L771.2,712.75 L772.2,712.76 L773.2,712.78 L774.2,712.8 L775.2,712.83 L776.2,712.86 L777.2,712.89 L778.2,712.93 L779.2,712.97 L780.2,713.02 L781.2,713.07 L782.2,713.12 L783.2,713.18 L784.2,713.24 L785.2,713.3 L786.2,713.37 L787.2,713.44 L788.2,713.51 L789.2,713.59 L790.2,713.66 L791.2,713.74 L792.2,713.83 L793.2,713.91 L794.2,714 L795.2,714.09 L796.2,714.18 L797.2,714.27 L798.2,714.36 L799.2,714.46 L800.2,714.55 L801.2,714.65 L802.2,714.75 L803.2,714.85 L804.2,714.95 L805.2,715.05 L806.2,715.15 L807.2,715.25 L808.2,715.36 L809.2,715.46 L809.6,715.5" fill="none" stroke="#36bc36" stroke-width="2" stroke-linejoin="round"/>
<circle cx="163.2" cy="858.2" r="4" fill="#20e020" stroke="#140000" stroke-width="1"/>
<circle cx="255.54" cy="772" r="4" fill="#20e020" stroke="#140000" stroke-width="1"/>
<circle cx="347.89" cy="677" r="4" fill="#20e020" stroke="#140000" stroke-width="1"/>
<circle cx="440.23" cy="737.2" r="4" fill="#20e020" stroke="#140000" stroke-width="1"/>
<circle cx="532.57" cy="735.5" r="4" fill="#20e020" stroke="#140000" stroke-width="1"/>
<circle cx="624.91" cy="766.5" r="4" fill="#20e020" stroke="#140000" stroke-width="1"/>
<circle cx="717.26" cy="722.5" r="4" fill="#20e020" stroke="#140000" stroke-width="1"/>
<circle cx="809.6" cy="715.5" r="4" fill="#20e020" stroke="#140000" stroke-width="1"/>
<path d="M163.2,854.1 L164.2,853.26 L165.2,852.41 L166.2,851.57 L167.2,850.72 L168.2,849.88 L169.2,849.03 L170.2,848.19 L171.2,847.34 L172.2,846.49 L173.2,845.64 L174.2,844.79 L175.2,843.94 L176.2,843.09 L177.2,842.24 L178.2,841.38 L179.2,840.53 L180.2,839.67 L181.2,838.81 L182.2,837.95 L183.2,837.09 L184.2,836.23 L185.2,835.36 L186.2,834.49 L187.2,833.62 L188.2,832.75 L189.2,831.88 L190.2,831 L191.2,830.12 L192.2,829.24 L193.2,828.35 L194.2,827.46 L195.2,826.57 L196.2,825.68 L197.2,824.78 L198.2,823.88 L199.2,822.98 L200.2,822.07 L201.2,821.16 L202.2,820.25 L203.2,819.33 L204.2,818.41 L205.2,817.48 L206.2,816.55 L207.2,815.62 L208.2,814.68 L209.2,813.74 L210.2,812.8 L211.2,811.85 L212.2,810.89 L213.2,809.93 L214.2,808.97 L215.2,808 L216.2,807.02 L217.2,806.05 L218.2,805.06 L219.2,804.07 L220.2,803.08 L221.2,802.08 L222.2,801.07 L223.2,800.06 L224.2,799.05 L225.2,798.02 L226.2,797 L227.2,795.96 L228.2,794.92 L229.2,793.88 L230.2,792.82 L231.2,791.77 L232.2,790.7 L233.2,789.63 L234.2,788.55 L235.2,787.47 L236.2,786.38 L237.2,785.28 L238.2,784.17 L239.2,783.06 L240.2,781.94 L241.2,780.81 L242.2,779.68 L243.2,778.54 L244.2,777.39 L245.2,776.23 L246.2,775.07 L247.2,773.9 L248.2,772.72 L249.2,771.53 L250.2,770.33 L251.2,769.13 L252.2,767.91 L253.2,766.69 L254.2,765.46 L255.2,764.23 L256.2,762.98 L257.2,761.72 L258.2,760.46 L259.2,759.19 L260.2,757.91 L261.2,756.63 L262.2,755.34 L263.2,754.04 L264.2,752.74 L265.2,751.44 L266.2,750.13 L267.2,748.81 L268.2,747.5 L269.2,746.18 L270.2,744.86 L271.2,743.53 L272.2,742.21 L273.2,740.88 L274.2,739.55 L275.2,738.23 L276.2,736.9 L277.2,735.57 L278.2,734.25 L279.2,732.93 L280.2,731.61 L281.2,730.29 L282.2,728.97 L283.2,727.66 L284.2,726.35 L285.2,725.05 L286.2,723.75 L287.2,722.46 L288.2,721.18 L289.2,719.9 L290.2,718.62 L291.2,717.36 L292.2,716.1 L293.2,714.85 L294.2,713.61 L295.2,712.38 L296.2,711.16 L297.2,709.94 L298.2,708.74 L299.2,707.55 L300.2,706.37 L301.2,705.2 L302.2,704.05 L303.2,702.91 L304.2,701.78 L305.2,700.66 L306.2,699.56 L307.2,698.48 L308.2,697.41 L309.2,696.35 L310.2,695.31 L311.2,694.29 L312.2,693.28 L313.2,692.29 L314.2,691.32 L315.2,690.37 L316.2,689.44 L317.2,688.52 L318.2,687.63 L319.2,686.76 L320.2,685.9 L321.2,685.07 L322.2,684.26 L323.2,683.47 L324.2,682.7 L325.2,681.96 L326.2,681.24 L327.2,680.55 L328.2,679.88 L329.2,679.23 L330.2,678.61 L331.2,678.01 L332.2,677.44 L333.2,676.9 L334.2,676.38 L335.2,675.9 L336.2,675.44 L337.2,675.01 L338.2,674.6 L339.2,674.23 L340.2,673.89 L341.2,673.58 L342.2,673.29 L343.2,673.04 L344.2,672.82 L345.2,672.64 L346.2,672.48 L347.2,672.36 L348.2,672.28 L349.2,672.22 L350.2,672.2 L351.2,672.21 L352.2,672.26 L353.2,672.33 L354.2,672.44 L355.2,672.58 L356.2,672.74 L357.2,672.94 L358.2,673.16 L359.2,673.41 L360.2,673.69 L361.2,673.99 L362.2,674.32 L363.2,674.68 L364.2,675.06 L365.2,675.47 L366.2,675.89 L367.2,676.35 L368.2,676.82 L369.2,677.31 L370.2,677.83 L371.2,678.37 L372.2,678.92 L373.2,679.5 L374.2,680.1 L375.2,680.71 L376.2,681.34 L377.2,681.99 L378.2,682.65 L379.2,683.33 L380.2,684.03 L381.2,684.74 L382.2,685.46 L383.2,686.2 L384.2,686.95 L385.2,687.71 L386.2,688.48 L387.2,689.27 L388.2,690.06 L389.2,690.87 L390.2,691.68 L391.2,692.51 L392.2,693.34 L393.2,694.17 L394.2,695.02 L395.2,695.87 L396.2,696.73 L397.2,697.59 L398.2,698.45 L399.2,699.32 L400.2,700.2 L401.2,701.07 L402.2,701.95 L403.2,702.83 L404.2,703.71 L405.2,704.59 L406.2,705.47 L407.2,706.35 L408.2,707.23 L409.2,708.1 L410.2,708.97 L411.2,709.84 L412.2,710.71 L413.2,711.57 L414.2,712.42 L415.2,713.27 L416.2,714.11 L417.2,714.95 L418.2,715.78 L419.2,716.6 L420.2,717.41 L421.2,718.21 L422.2,719.01 L423.2,719.79 L424.2,720.56 L425.2,721.32 L426.2,722.06 L427.2,722.8 L428.2,723.52 L429.2,724.22 L430.2,724.92 L431.2,725.59 L432.2,726.25 L433.2,726.89 L434.2,727.52 L435.2,728.13 L436.2,728.72 L437.2,729.29 L438.2,729.84 L439.2,730.37 L440.2,730.89 L441.2,731.38 L442.2,731.84 L443.2,732.29 L444.2,732.72 L445.2,733.13 L446.2,733.52 L447.2,733.89 L448.2,734.24 L449.2,734.57 L450.2,734.89 L451.2,735.19 L452.2,735.47 L453.2,735.73 L454.2,735.98 L455.2,736.21 L456.2,736.43 L457.2,736.63 L458.2,736.81 L459.2,736.98 L460.2,737.14 L461.2,737.29 L462.2,737.42 L463.2,737.54 L464.2,737.64 L465.2,737.74 L466.2,737.82 L467.2,737.89 L468.2,737.95 L469.2,738 L470.2,738.04 L471.2,738.07 L472.2,738.09 L473.2,738.1 L474.2,738.1 L475.2,738.1 L476.2,738.09 L477.2,738.07 L478.2,738.04 L479.2,738 L480.2,737.96 L481.2,737.92 L482.2,737.87 L483.2,737.81 L484.2,737.75 L485.2,737.68 L486.2,737.61 L487.2,737.54 L488.2,737.47 L489.2,737.39 L490.2,737.31 L491.2,737.22 L492.2,737.14 L493.2,737.05 L494.2,736.97 L495.2,736.88 L496.2,736.79 L497.2,736.71 L498.2,736.62 L499.2,736.54 L500.2,736.45 L501.2,736.37 L502.2,736.29 L503.2,736.22 L504.2,736.15 L505.2,736.08 L506.2,736.01 L507.2,735.95 L508.2,735.89 L509.2,735.84 L510.2,735.79 L511.2,735.75 L512.2,735.72 L513.2,735.69 L514.2,735.67 L515.2,735.66 L516.2,735.65 L517.2,735.66 L518.2,735.67 L519.2,735.69 L520.2,735.72 L521.2,735.75 L522.2,735.8 L523.2,735.86 L524.2,735.93 L525.2,736.01 L526.2,736.11 L527.2,736.21 L528.2,736.33 L529.2,736.46 L530.2,736.6 L531.2,736.76 L532.2,736.93 L533.2,737.12 L534.2,737.32 L535.2,737.53 L536.2,737.76 L537.2,738 L538.2,738.25 L539.2,738.52 L540.2,738.79 L541.2,739.08 L542.2,739.38 L543.2,739.7 L544.2,740.02 L545.2,740.35 L546.2,740.69 L547.2,741.04 L548.2,741.4 L549.2,741.77 L550.2,742.15 L551.2,742.54 L552.2,742.93 L553.2,743.33 L554.2,743.74 L555.2,744.15 L556.2,744.57 L557.2,745 L558.2,745.43 L559.2,745.87 L560.2,746.31 L561.2,746.75 L562.2,747.2 L563.2,747.66 L564.2,748.11 L565.2,748.57 L566.2,749.03 L567.2,749.5 L568.2,749.96 L569.2,750.43 L570.2,750.9 L571.2,751.37 L572.2,751.84 L573.2,752.31 L574.2,752.77 L575.2,753.24 L576.2,753.71 L577.2,754.17 L578.2,754.64 L579.2,755.1 L580.2,755.56 L581.2,756.01 L582.2,756.46 L583.2,756.91 L584.2,757.35 L585.2,757.79 L586.2,758.23 L587.2,758.66 L588.2,759.08 L589.2,759.5 L590.2,759.91 L591.2,760.32 L592.2,760.71 L593.2,761.11 L594.2,761.49 L595.2,761.86 L596.2,762.23 L597.2,762.59 L598.2,762.93 L599.2,763.27 L600.2,763.6 L601.2,763.92 L602.2,764.22 L603.2,764.52 L604.2,764.81 L605.2,765.08 L606.2,765.34 L607.2,765.59 L608.2,765.82 L609.2,766.04 L610.2,766.25 L611.2,766.45 L612.2,766.63 L613.2,766.79 L614.2,766.94 L615.2,767.08 L616.2,767.19 L617.2,767.3 L618.2,767.38 L619.2,767.45 L620.2,767.5 L621.2,767.54 L622.2,767.55 L623.2,767.55 L624.2,767.53 L625.2,767.49 L626.2,767.43 L627.2,767.35 L628.2,767.25 L629.2,767.13 L630.2,767 L631.2,766.85 L632.2,766.68 L633.2,766.49 L634.2,766.29 L635.2,766.07 L636.2,765.83 L637.2,765.58 L638.2,765.31 L639.2,765.03 L640.2,764.74 L641.2,764.42 L642.2,764.1 L643.2,763.76 L644.2,763.41 L645.2,763.04 L646.2,762.66 L647.2,762.27 L648.2,761.87 L649.2,761.45 L650.2,761.02 L651.2,760.59 L652.2,760.14 L653.2,759.68 L654.2,759.21 L655.2,758.73 L656.2,758.24 L657.2,757.74 L658.2,757.23 L659.2,756.71 L660.2,756.19 L661.2,755.66 L662.2,755.12 L663.2,754.57 L664.2,754.01 L665.2,753.45 L666.2,752.88 L667.2,752.31 L668.2,751.73 L669.2,751.14 L670.2,750.55 L671.2,749.96 L672.2,749.36 L673.2,748.75 L674.2,748.15 L675.2,747.54 L676.2,746.92 L677.2,746.3 L678.2,745.69 L679.2,745.06 L680.2,744.44 L681.2,743.82 L682.2,743.19 L683.2,742.56 L684.2,741.93 L685.2,741.31 L686.2,740.68 L687.2,740.05 L688.2,739.42 L689.2,738.8 L690.2,738.17 L691.2,737.55 L692.2,736.93 L693.2,736.31 L694.2,735.7 L695.2,735.09 L696.2,734.48 L697.2,733.87 L698.2,733.27 L699.2,732.67 L700.2,732.08 L701.2,731.49 L702.2,730.91 L703.2,730.33 L704.2,729.76 L705.2,729.2 L706.2,728.64 L707.2,728.09 L708.2,727.54 L709.2,727.01 L710.2,726.48 L711.2,725.96 L712.2,725.45 L713.2,724.94 L714.2,724.45 L715.2,723.97 L716.2,723.49 L717.2,723.03 L718.2,722.57 L719.2,722.13 L720.2,721.69 L721.2,721.27 L722.2,720.86 L723.2,720.45 L724.2,720.06 L725.2,719.68 L726.2,719.3 L727.2,718.94 L728.2,718.58 L729.2,718.24 L730.2,717.9 L731.2,717.57 L732.2,717.25 L733.2,716.94 L734.2,716.64 L735.2,716.35 L736.2,716.06 L737.2,715.78 L738.2,715.52 L739.2,715.26 L740.2,715 L741.2,714.76 L742.2,714.52 L743.2,714.29 L744.2,714.07 L745.2,713.86 L746.2,713.65 L747.2,713.45 L748.2,713.26 L749.2,713.07 L750.2,712.89 L751.2,712.72 L752.2,712.56 L753.2,712.4 L754.2,712.25 L755.2,712.1 L756.2,711.96 L757.2,711.83 L758.2,711.7 L759.2,711.58 L760.2,711.46 L761.2,711.35 L762.2,711.24 L763.2,711.14 L764.2,711.05 L765.2,710.96 L766.2,710.87 L767.2,710.79 L768.2,710.72 L769.2,710.65 L770.2,710.58 L771.2,710.52 L772.2,710.47 L773.2,710.41 L774.2,710.36 L775.2,710.32 L776.2,710.28 L777.2,710.24 L778.2,710.21 L779.2,710.18 L780.2,710.15 L781.2,710.13 L782.2,710.11 L783.2,710.1 L784.2,710.08 L785.2,710.07 L786.2,710.06 L787.2,710.06 L788.2,710.06 L789.2,710.06 L790.2,710.06 L791.2,710.06 L792.2,710.07 L793.2,710.08 L794.2,710.09 L795.2,710.1 L796.2,710.11 L797.2,710.13 L798.2,710.15 L799.2,710.16 L800.2,710.18 L801.2,710.2 L802.2,710.23 L803.2,710.25 L804.2,710.27 L805.2,710.29 L806.2,710.32 L807.2,710.34 L808.2,710.37 L809.2,710.39 L809.6,710.4" fill="none" stroke="#cc8430" stroke-width="2" stroke-linejoin="round"/>
<circle cx="163.2" cy="854.1" r="4" fill="#f08a18" stroke="#140000" stroke-width="1"/>
<circle cx="255.54" cy="763.8" r="4" fill="#f08a18" stroke="#140000" stroke-width="1"/>
<circle cx="347.89" cy="672.3" r="4" fill="#f08a18" stroke="#140000" stroke-width="1"/>
<circle cx="440.23" cy="730.9" r="4" fill="#f08a18" stroke="#140000" stroke-width="1"/>
<circle cx="532.57" cy="737" r="4" fill="#f08a18" stroke="#140000" stroke-width="1"/>
<circle cx="624.91" cy="767.5" r="4" fill="#f08a18" stroke="#140000" stroke-width="1"/>
<circle cx="717.26" cy="723" r="4" fill="#f08a18" stroke="#140000" stroke-width="1"/>
<circle cx="809.6" cy="710.4" r="4" fill="#f08a18" stroke="#140000" stroke-width="1"/>
<path d="M163.2,847.3 L164.2,846.55 L165.2,845.79 L166.2,845.04 L167.2,844.29 L168.2,843.53 L169.2,842.78 L170.2,842.02 L171.2,841.26 L172.2,840.51 L173.2,839.75 L174.2,838.99 L175.2,838.23 L176.2,837.46 L177.2,836.7 L178.2,835.94 L179.2,835.17 L180.2,834.4 L181.2,833.63 L182.2,832.86 L183.2,832.08 L184.2,831.3 L185.2,830.52 L186.2,829.74 L187.2,828.96 L188.2,828.17 L189.2,827.38 L190.2,826.58 L191.2,825.79 L192.2,824.99 L193.2,824.18 L194.2,823.38 L195.2,822.57 L196.2,821.75 L197.2,820.94 L198.2,820.11 L199.2,819.29 L200.2,818.46 L201.2,817.62 L202.2,816.79 L203.2,815.94 L204.2,815.1 L205.2,814.24 L206.2,813.39 L207.2,812.53 L208.2,811.66 L209.2,810.79 L210.2,809.91 L211.2,809.03 L212.2,808.14 L213.2,807.25 L214.2,806.35 L215.2,805.44 L216.2,804.53 L217.2,803.61 L218.2,802.69 L219.2,801.76 L220.2,800.82 L221.2,799.88 L222.2,798.93 L223.2,797.97 L224.2,797.01 L225.2,796.04 L226.2,795.06 L227.2,794.08 L228.2,793.09 L229.2,792.09 L230.2,791.08 L231.2,790.07 L232.2,789.05 L233.2,788.02 L234.2,786.98 L235.2,785.93 L236.2,784.88 L237.2,783.82 L238.2,782.74 L239.2,781.66 L240.2,780.58 L241.2,779.48 L242.2,778.37 L243.2,777.26 L244.2,776.13 L245.2,775 L246.2,773.86 L247.2,772.7 L248.2,771.54 L249.2,770.37 L250.2,769.19 L251.2,767.99 L252.2,766.79 L253.2,765.58 L254.2,764.36 L255.2,763.13 L256.2,761.88 L257.2,760.63 L258.2,759.36 L259.2,758.09 L260.2,756.81 L261.2,755.52 L262.2,754.22 L263.2,752.92 L264.2,751.61 L265.2,750.29 L266.2,748.96 L267.2,747.63 L268.2,746.3 L269.2,744.96 L270.2,743.62 L271.2,742.27 L272.2,740.92 L273.2,739.57 L274.2,738.22 L275.2,736.86 L276.2,735.51 L277.2,734.15 L278.2,732.79 L279.2,731.43 L280.2,730.08 L281.2,728.72 L282.2,727.37 L283.2,726.02 L284.2,724.67 L285.2,723.33 L286.2,721.99 L287.2,720.66 L288.2,719.32 L289.2,718 L290.2,716.68 L291.2,715.36 L292.2,714.06 L293.2,712.76 L294.2,711.47 L295.2,710.18 L296.2,708.91 L297.2,707.64 L298.2,706.38 L299.2,705.14 L300.2,703.9 L301.2,702.68 L302.2,701.46 L303.2,700.26 L304.2,699.07 L305.2,697.9 L306.2,696.74 L307.2,695.59 L308.2,694.45 L309.2,693.34 L310.2,692.23 L311.2,691.14 L312.2,690.07 L313.2,689.02 L314.2,687.98 L315.2,686.97 L316.2,685.96 L317.2,684.98 L318.2,684.02 L319.2,683.08 L320.2,682.16 L321.2,681.26 L322.2,680.38 L323.2,679.52 L324.2,678.68 L325.2,677.87 L326.2,677.08 L327.2,676.31 L328.2,675.57 L329.2,674.85 L330.2,674.16 L331.2,673.49 L332.2,672.85 L333.2,672.24 L334.2,671.65 L335.2,671.09 L336.2,670.56 L337.2,670.06 L338.2,669.59 L339.2,669.14 L340.2,668.73 L341.2,668.34 L342.2,667.99 L343.2,667.67 L344.2,667.38 L345.2,667.13 L346.2,666.9 L347.2,666.71 L348.2,666.55 L349.2,666.43 L350.2,666.34 L351.2,666.29 L352.2,666.26 L353.2,666.27 L354.2,666.31 L355.2,666.38 L356.2,666.48 L357.2,666.61 L358.2,666.76 L359.2,666.95 L360.2,667.16 L361.2,667.4 L362.2,667.67 L363.2,667.96 L364.2,668.28 L365.2,668.62 L366.2,668.99 L367.2,669.38 L368.2,669.79 L369.2,670.23 L370.2,670.69 L371.2,671.17 L372.2,671.67 L373.2,672.18 L374.2,672.72 L375.2,673.28 L376.2,673.86 L377.2,674.45 L378.2,675.06 L379.2,675.69 L380.2,676.33 L381.2,676.99 L382.2,677.66 L383.2,678.35 L384.2,679.05 L385.2,679.77 L386.2,680.49 L387.2,681.23 L388.2,681.98 L389.2,682.74 L390.2,683.51 L391.2,684.3 L392.2,685.08 L393.2,685.88 L394.2,686.69 L395.2,687.5 L396.2,688.32 L397.2,689.15 L398.2,689.98 L399.2,690.81 L400.2,691.65 L401.2,692.5 L402.2,693.34 L403.2,694.19 L404.2,695.04 L405.2,695.9 L406.2,696.75 L407.2,697.6 L408.2,698.46 L409.2,699.31 L410.2,700.16 L411.2,701.01 L412.2,701.86 L413.2,702.7 L414.2,703.54 L415.2,704.37 L416.2,705.2 L417.2,706.03 L418.2,706.84 L419.2,707.65 L420.2,708.46 L421.2,709.25 L422.2,710.04 L423.2,710.82 L424.2,711.59 L425.2,712.34 L426.2,713.09 L427.2,713.83 L428.2,714.55 L429.2,715.26 L430.2,715.96 L431.2,716.64 L432.2,717.31 L433.2,717.97 L434.2,718.61 L435.2,719.23 L436.2,719.84 L437.2,720.43 L438.2,721 L439.2,721.55 L440.2,722.09 L441.2,722.6 L442.2,723.09 L443.2,723.57 L444.2,724.03 L445.2,724.47 L446.2,724.89 L447.2,725.29 L448.2,725.68 L449.2,726.05 L450.2,726.4 L451.2,726.74 L452.2,727.06 L453.2,727.37 L454.2,727.66 L455.2,727.94 L456.2,728.2 L457.2,728.45 L458.2,728.68 L459.2,728.9 L460.2,729.11 L461.2,729.31 L462.2,729.49 L463.2,729.66 L464.2,729.82 L465.2,729.97 L466.2,730.11 L467.2,730.24 L468.2,730.35 L469.2,730.46 L470.2,730.56 L471.2,730.65 L472.2,730.73 L473.2,730.8 L474.2,730.86 L475.2,730.92 L476.2,730.97 L477.2,731.01 L478.2,731.05 L479.2,731.08 L480.2,731.1 L481.2,731.12 L482.2,731.13 L483.2,731.14 L484.2,731.14 L485.2,731.14 L486.2,731.14 L487.2,731.13 L488.2,731.12 L489.2,731.1 L490.2,731.09 L491.2,731.07 L492.2,731.05 L493.2,731.03 L494.2,731.01 L495.2,730.98 L496.2,730.96 L497.2,730.94 L498.2,730.91 L499.2,730.89 L500.2,730.87 L501.2,730.85 L502.2,730.83 L503.2,730.82 L504.2,730.81 L505.2,730.8 L506.2,730.79 L507.2,730.79 L508.2,730.79 L509.2,730.79 L510.2,730.81 L511.2,730.82 L512.2,730.84 L513.2,730.87 L514.2,730.9 L515.2,730.94 L516.2,730.98 L517.2,731.04 L518.2,731.1 L519.2,731.16 L520.2,731.24 L521.2,731.33 L522.2,731.42 L523.2,731.52 L524.2,731.63 L525.2,731.76 L526.2,731.89 L527.2,732.03 L528.2,732.19 L529.2,732.35 L530.2,732.53 L531.2,732.72 L532.2,732.92 L533.2,733.14 L534.2,733.36 L535.2,733.6 L536.2,733.86 L537.2,734.12 L538.2,734.39 L539.2,734.68 L540.2,734.97 L541.2,735.28 L542.2,735.6 L543.2,735.92 L544.2,736.26 L545.2,736.6 L546.2,736.96 L547.2,737.32 L548.2,737.69 L549.2,738.06 L550.2,738.45 L551.2,738.84 L552.2,739.23 L553.2,739.64 L554.2,740.05 L555.2,740.46 L556.2,740.88 L557.2,741.3 L558.2,741.73 L559.2,742.17 L560.2,742.6 L561.2,743.04 L562.2,743.49 L563.2,743.93 L564.2,744.38 L565.2,744.83 L566.2,745.28 L567.2,745.74 L568.2,746.19 L569.2,746.65 L570.2,747.1 L571.2,747.56 L572.2,748.01 L573.2,748.47 L574.2,748.92 L575.2,749.38 L576.2,749.83 L577.2,750.27 L578.2,750.72 L579.2,751.16 L580.2,751.6 L581.2,752.04 L582.2,752.47 L583.2,752.9 L584.2,753.33 L585.2,753.75 L586.2,754.16 L587.2,754.57 L588.2,754.98 L589.2,755.37 L590.2,755.76 L591.2,756.15 L592.2,756.52 L593.2,756.89 L594.2,757.26 L595.2,757.61 L596.2,757.95 L597.2,758.29 L598.2,758.61 L599.2,758.93 L600.2,759.24 L601.2,759.54 L602.2,759.82 L603.2,760.1 L604.2,760.36 L605.2,760.61 L606.2,760.85 L607.2,761.08 L608.2,761.3 L609.2,761.5 L610.2,761.69 L611.2,761.86 L612.2,762.02 L613.2,762.17 L614.2,762.3 L615.2,762.42 L616.2,762.52 L617.2,762.61 L618.2,762.67 L619.2,762.73 L620.2,762.76 L621.2,762.78 L622.2,762.79 L623.2,762.77 L624.2,762.74 L625.2,762.68 L626.2,762.61 L627.2,762.52 L628.2,762.41 L629.2,762.29 L630.2,762.15 L631.2,761.99 L632.2,761.81 L633.2,761.62 L634.2,761.41 L635.2,761.18 L636.2,760.94 L637.2,760.69 L638.2,760.42 L639.2,760.13 L640.2,759.83 L641.2,759.52 L642.2,759.19 L643.2,758.85 L644.2,758.5 L645.2,758.14 L646.2,757.76 L647.2,757.37 L648.2,756.97 L649.2,756.55 L650.2,756.13 L651.2,755.69 L652.2,755.25 L653.2,754.79 L654.2,754.33 L655.2,753.85 L656.2,753.37 L657.2,752.88 L658.2,752.38 L659.2,751.87 L660.2,751.35 L661.2,750.82 L662.2,750.29 L663.2,749.75 L664.2,749.21 L665.2,748.65 L666.2,748.1 L667.2,747.53 L668.2,746.96 L669.2,746.39 L670.2,745.81 L671.2,745.23 L672.2,744.64 L673.2,744.05 L674.2,743.45 L675.2,742.85 L676.2,742.25 L677.2,741.65 L678.2,741.04 L679.2,740.43 L680.2,739.82 L681.2,739.21 L682.2,738.6 L683.2,737.99 L684.2,737.38 L685.2,736.76 L686.2,736.15 L687.2,735.54 L688.2,734.93 L689.2,734.32 L690.2,733.71 L691.2,733.1 L692.2,732.5 L693.2,731.9 L694.2,731.3 L695.2,730.7 L696.2,730.11 L697.2,729.52 L698.2,728.94 L699.2,728.36 L700.2,727.78 L701.2,727.21 L702.2,726.65 L703.2,726.09 L704.2,725.53 L705.2,724.99 L706.2,724.45 L707.2,723.91 L708.2,723.39 L709.2,722.87 L710.2,722.36 L711.2,721.85 L712.2,721.36 L713.2,720.87 L714.2,720.4 L715.2,719.93 L716.2,719.47 L717.2,719.03 L718.2,718.59 L719.2,718.16 L720.2,717.75 L721.2,717.34 L722.2,716.94 L723.2,716.56 L724.2,716.18 L725.2,715.81 L726.2,715.45 L727.2,715.11 L728.2,714.77 L729.2,714.44 L730.2,714.12 L731.2,713.81 L732.2,713.5 L733.2,713.21 L734.2,712.92 L735.2,712.65 L736.2,712.38 L737.2,712.12 L738.2,711.86 L739.2,711.62 L740.2,711.38 L741.2,711.15 L742.2,710.93 L743.2,710.72 L744.2,710.51 L745.2,710.32 L746.2,710.12 L747.2,709.94 L748.2,709.76 L749.2,709.59 L750.2,709.43 L751.2,709.27 L752.2,709.12 L753.2,708.98 L754.2,708.84 L755.2,708.71 L756.2,708.59 L757.2,708.47 L758.2,708.36 L759.2,708.25 L760.2,708.15 L761.2,708.05 L762.2,707.96 L763.2,707.88 L764.2,707.8 L765.2,707.72 L766.2,707.65 L767.2,707.59 L768.2,707.53 L769.2,707.47 L770.2,707.42 L771.2,707.37 L772.2,707.33 L773.2,707.29 L774.2,707.26 L775.2,707.23 L776.2,707.2 L777.2,707.18 L778.2,707.16 L779.2,707.15 L780.2,707.14 L781.2,707.13 L782.2,707.12 L783.2,707.12 L784.2,707.12 L785.2,707.13 L786.2,707.13 L787.2,707.14 L788.2,707.15 L789.2,707.17 L790.2,707.18 L791.2,707.2 L792.2,707.22 L793.2,707.25 L794.2,707.27 L795.2,707.3 L796.2,707.33 L797.2,707.35 L798.2,707.39 L799.2,707.42 L800.2,707.45 L801.2,707.49 L802.2,707.52 L803.2,707.56 L804.2,707.59 L805.2,707.63 L806.2,707.67 L807.2,707.71 L808.2,707.75 L809.2,707.78 L809.6,707.8" fill="none" stroke="#9a0a12" stroke-width="2" stroke-linejoin="round"/>
<circle cx="163.2" cy="847.3" r="4" fill="#f00808" stroke="#140000" stroke-width="1"/>
<circle cx="255.54" cy="762.7" r="4" fill="#f00808" stroke="#140000" stroke-width="1"/>
<circle cx="347.89" cy="666.6" r="4" fill="#f00808" stroke="#140000" stroke-width="1"/>
<circle cx="440.23" cy="722.1" r="4" fill="#f00808" stroke="#140000" stroke-width="1"/>
<circle cx="532.57" cy="733" r="4" fill="#f00808" stroke="#140000" stroke-width="1"/>
<circle cx="624.91" cy="762.7" r="4" fill="#f00808" stroke="#140000" stroke-width="1"/>
<circle cx="717.26" cy="719" r="4" fill="#f00808" stroke="#140000" stroke-width="1"/>
<circle cx="809.6" cy="707.8" r="4" fill="#f00808" stroke="#140000" stroke-width="1"/>
<rect x="835" y="645" width="122" height="2" fill="#111"/>
<rect x="835" y="821" width="122" height="2" fill="#111"/>
<rect x="835" y="645" width="2" height="178" fill="#111"/>
<rect x="955" y="645" width="2" height="178" fill="#111"/>
<rect x="849" y="669" width="46" height="2" fill="#4c0a4c"/>
<circle cx="872" cy="670.2" r="4" fill="#800480" stroke="#140000" stroke-width="1"/>
<text x="0" y="0" font-size="19.5" fill="#111" transform="translate(905.7 677.2) scale(1.05 1)">1M</text>
<rect x="849" y="694" width="46" height="2" fill="#00008c"/>
<circle cx="872" cy="695.38" r="4" fill="#0808f0" stroke="#140000" stroke-width="1"/>
<text x="0" y="0" font-size="19.5" fill="#111" transform="translate(905.7 702.38) scale(1.05 1)">64K</text>
<rect x="849" y="720" width="46" height="2" fill="#40d0d0"/>
<circle cx="872" cy="720.56" r="4" fill="#28ecee" stroke="#140000" stroke-width="1"/>
<text x="0" y="0" font-size="19.5" fill="#111" transform="translate(905.7 727.56) scale(1.05 1)">32K</text>
<rect x="849" y="745" width="46" height="2" fill="#36bc36"/>
<circle cx="872" cy="745.74" r="4" fill="#20e020" stroke="#140000" stroke-width="1"/>
<text x="0" y="0" font-size="19.5" fill="#111" transform="translate(905.7 752.74) scale(1.05 1)">16K</text>
<rect x="849" y="770" width="46" height="2" fill="#cc8430"/>
<circle cx="872" cy="770.92" r="4" fill="#f08a18" stroke="#140000" stroke-width="1"/>
<text x="0" y="0" font-size="19.5" fill="#111" transform="translate(905.7 777.92) scale(1.05 1)">8K</text>
<rect x="849" y="795" width="46" height="2" fill="#9a0a12"/>
<circle cx="872" cy="796.1" r="4" fill="#f00808" stroke="#140000" stroke-width="1"/>
<text x="0" y="0" font-size="19.5" fill="#111" transform="translate(905.7 803.1) scale(1.05 1)">4K</text>
<rect x="148" y="1204" width="324" height="1" fill="#c9c9c9"/>
<rect x="148" y="1258" width="324" height="1" fill="#c9c9c9"/>
<rect x="148" y="1291" width="324" height="1" fill="#c9c9c9"/>
<rect x="148" y="1337" width="324" height="1" fill="#c9c9c9"/>
<rect x="148" y="1375" width="324" height="1" fill="#c9c9c9"/>
<rect x="148" y="1418" width="324" height="1" fill="#c9c9c9"/>
<rect x="148" y="1446" width="324" height="2" fill="#d0d0d0"/>
<rect x="202" y="1151" width="1" height="321" fill="#c9c9c9"/>
<rect x="256" y="1151" width="1" height="321" fill="#c9c9c9"/>
<rect x="310" y="1151" width="1" height="321" fill="#c9c9c9"/>
<rect x="364" y="1151" width="1" height="321" fill="#c9c9c9"/>
<rect x="417" y="1151" width="1" height="321" fill="#c9c9c9"/>
<rect x="471" y="1150" width="1" height="329" fill="#8a8a8a"/>
<rect x="148" y="1150" width="1.2" height="330" fill="#111"/>
<rect x="139" y="1150" width="333" height="1" fill="#333"/>
<rect x="139" y="1472" width="333" height="1" fill="#111"/>
<rect x="139" y="1150" width="9" height="1" fill="#333"/>
<text x="129.6" y="1156.1" font-size="16" text-anchor="end" fill="#111" >70</text>
<rect x="139" y="1204" width="9" height="1" fill="#333"/>
<text x="129.6" y="1209.7" font-size="16" text-anchor="end" fill="#111" >50</text>
<rect x="139" y="1258" width="9" height="1" fill="#333"/>
<text x="129.6" y="1264.1" font-size="16" text-anchor="end" fill="#111" >30</text>
<rect x="139" y="1291" width="9" height="1" fill="#333"/>
<text x="129.6" y="1297" font-size="16" text-anchor="end" fill="#111" >20</text>
<rect x="139" y="1337" width="9" height="1" fill="#333"/>
<text x="129.6" y="1342.9" font-size="16" text-anchor="end" fill="#111" >10</text>
<rect x="139" y="1375" width="9" height="1" fill="#333"/>
<text x="129.6" y="1381.1" font-size="16" text-anchor="end" fill="#111" >5</text>
<rect x="139" y="1418" width="9" height="1" fill="#333"/>
<text x="129.6" y="1423.9" font-size="16" text-anchor="end" fill="#111" >2</text>
<rect x="139" y="1446" width="9" height="2" fill="#a0a0a0"/>
<text x="129.6" y="1451.9" font-size="16" text-anchor="end" fill="#111" >1</text>
<rect x="139" y="1472" width="9" height="1" fill="#333"/>
<text x="129.6" y="1477.9" font-size="16" text-anchor="end" fill="#111" >0,5</text>
<rect x="202" y="1473" width="1" height="7" fill="#333"/>
<rect x="256" y="1473" width="1" height="7" fill="#333"/>
<rect x="310" y="1473" width="1" height="7" fill="#333"/>
<rect x="364" y="1473" width="1" height="7" fill="#333"/>
<rect x="417" y="1473" width="1" height="7" fill="#333"/>
<text x="148" y="1502" font-size="16" text-anchor="middle" fill="#111" >1</text>
<text x="201.87" y="1502" font-size="16" text-anchor="middle" fill="#111" >2</text>
<text x="255.73" y="1502" font-size="16" text-anchor="middle" fill="#111" >4</text>
<text x="309.6" y="1502" font-size="16" text-anchor="middle" fill="#111" >8</text>
<text x="363.47" y="1502" font-size="16" text-anchor="middle" fill="#111" >16</text>
<text x="417.33" y="1502" font-size="16" text-anchor="middle" fill="#111" >32</text>
<text x="471.2" y="1502" font-size="16" text-anchor="middle" fill="#111" >64</text>
<text x="310.2" y="1542.7" font-size="19.7" text-anchor="middle" fill="#111" >Jobs</text>
<text x="89.1" y="1311" font-size="20.2" text-anchor="middle" fill="#111" transform="rotate(-90 89.1 1311)">Read Latency, ms</text>
<path d="M148.4,1465.9 L149.4,1465.79 L150.4,1465.68 L151.4,1465.56 L152.4,1465.45 L153.4,1465.34 L154.4,1465.23 L155.4,1465.12 L156.4,1465 L157.4,1464.89 L158.4,1464.78 L159.4,1464.67 L160.4,1464.56 L161.4,1464.45 L162.4,1464.34 L163.4,1464.23 L164.4,1464.12 L165.4,1464.01 L166.4,1463.9 L167.4,1463.79 L168.4,1463.68 L169.4,1463.57 L170.4,1463.46 L171.4,1463.35 L172.4,1463.24 L173.4,1463.13 L174.4,1463.02 L175.4,1462.92 L176.4,1462.81 L177.4,1462.7 L178.4,1462.6 L179.4,1462.49 L180.4,1462.38 L181.4,1462.28 L182.4,1462.17 L183.4,1462.07 L184.4,1461.97 L185.4,1461.86 L186.4,1461.76 L187.4,1461.66 L188.4,1461.56 L189.4,1461.45 L190.4,1461.35 L191.4,1461.25 L192.4,1461.15 L193.4,1461.05 L194.4,1460.95 L195.4,1460.86 L196.4,1460.76 L197.4,1460.66 L198.4,1460.57 L199.4,1460.47 L200.4,1460.38 L201.4,1460.28 L202.4,1460.19 L203.4,1460.09 L204.4,1460 L205.4,1459.91 L206.4,1459.82 L207.4,1459.72 L208.4,1459.63 L209.4,1459.53 L210.4,1459.44 L211.4,1459.34 L212.4,1459.24 L213.4,1459.14 L214.4,1459.03 L215.4,1458.92 L216.4,1458.81 L217.4,1458.7 L218.4,1458.58 L219.4,1458.46 L220.4,1458.33 L221.4,1458.2 L222.4,1458.06 L223.4,1457.92 L224.4,1457.77 L225.4,1457.62 L226.4,1457.46 L227.4,1457.29 L228.4,1457.12 L229.4,1456.94 L230.4,1456.76 L231.4,1456.56 L232.4,1456.36 L233.4,1456.15 L234.4,1455.93 L235.4,1455.7 L236.4,1455.47 L237.4,1455.22 L238.4,1454.96 L239.4,1454.7 L240.4,1454.42 L241.4,1454.14 L242.4,1453.84 L243.4,1453.53 L244.4,1453.21 L245.4,1452.88 L246.4,1452.53 L247.4,1452.18 L248.4,1451.81 L249.4,1451.43 L250.4,1451.03 L251.4,1450.62 L252.4,1450.2 L253.4,1449.77 L254.4,1449.32 L255.4,1448.85 L256.4,1448.37 L257.4,1447.88 L258.4,1447.37 L259.4,1446.84 L260.4,1446.3 L261.4,1445.75 L262.4,1445.19 L263.4,1444.61 L264.4,1444.02 L265.4,1443.42 L266.4,1442.81 L267.4,1442.19 L268.4,1441.56 L269.4,1440.91 L270.4,1440.26 L271.4,1439.6 L272.4,1438.93 L273.4,1438.25 L274.4,1437.57 L275.4,1436.87 L276.4,1436.17 L277.4,1435.47 L278.4,1434.75 L279.4,1434.04 L280.4,1433.31 L281.4,1432.58 L282.4,1431.85 L283.4,1431.12 L284.4,1430.38 L285.4,1429.63 L286.4,1428.89 L287.4,1428.14 L288.4,1427.39 L289.4,1426.64 L290.4,1425.89 L291.4,1425.14 L292.4,1424.38 L293.4,1423.63 L294.4,1422.88 L295.4,1422.13 L296.4,1421.38 L297.4,1420.64 L298.4,1419.89 L299.4,1419.15 L300.4,1418.42 L301.4,1417.68 L302.4,1416.95 L303.4,1416.23 L304.4,1415.51 L305.4,1414.8 L306.4,1414.09 L307.4,1413.39 L308.4,1412.7 L309.4,1412.01 L310.4,1411.33 L311.4,1410.66 L312.4,1409.99 L313.4,1409.34 L314.4,1408.69 L315.4,1408.04 L316.4,1407.41 L317.4,1406.77 L318.4,1406.15 L319.4,1405.52 L320.4,1404.91 L321.4,1404.29 L322.4,1403.69 L323.4,1403.08 L324.4,1402.48 L325.4,1401.88 L326.4,1401.28 L327.4,1400.69 L328.4,1400.09 L329.4,1399.5 L330.4,1398.91 L331.4,1398.32 L332.4,1397.73 L333.4,1397.14 L334.4,1396.55 L335.4,1395.96 L336.4,1395.37 L337.4,1394.77 L338.4,1394.18 L339.4,1393.58 L340.4,1392.98 L341.4,1392.38 L342.4,1391.77 L343.4,1391.16 L344.4,1390.55 L345.4,1389.93 L346.4,1389.31 L347.4,1388.68 L348.4,1388.05 L349.4,1387.41 L350.4,1386.76 L351.4,1386.11 L352.4,1385.45 L353.4,1384.79 L354.4,1384.11 L355.4,1383.43 L356.4,1382.74 L357.4,1382.05 L358.4,1381.34 L359.4,1380.62 L360.4,1379.9 L361.4,1379.16 L362.4,1378.41 L363.4,1377.66 L364.4,1376.89 L365.4,1376.11 L366.4,1375.32 L367.4,1374.52 L368.4,1373.71 L369.4,1372.89 L370.4,1372.06 L371.4,1371.23 L372.4,1370.38 L373.4,1369.53 L374.4,1368.67 L375.4,1367.8 L376.4,1366.93 L377.4,1366.05 L378.4,1365.16 L379.4,1364.27 L380.4,1363.37 L381.4,1362.47 L382.4,1361.57 L383.4,1360.66 L384.4,1359.75 L385.4,1358.83 L386.4,1357.91 L387.4,1356.99 L388.4,1356.07 L389.4,1355.15 L390.4,1354.23 L391.4,1353.3 L392.4,1352.38 L393.4,1351.46 L394.4,1350.53 L395.4,1349.61 L396.4,1348.69 L397.4,1347.78 L398.4,1346.86 L399.4,1345.95 L400.4,1345.04 L401.4,1344.13 L402.4,1343.23 L403.4,1342.33 L404.4,1341.44 L405.4,1340.55 L406.4,1339.67 L407.4,1338.8 L408.4,1337.93 L409.4,1337.06 L410.4,1336.21 L411.4,1335.36 L412.4,1334.52 L413.4,1333.69 L414.4,1332.87 L415.4,1332.06 L416.4,1331.25 L417.4,1330.46 L418.4,1329.68 L419.4,1328.91 L420.4,1328.15 L421.4,1327.4 L422.4,1326.65 L423.4,1325.92 L424.4,1325.2 L425.4,1324.49 L426.4,1323.79 L427.4,1323.09 L428.4,1322.41 L429.4,1321.73 L430.4,1321.06 L431.4,1320.4 L432.4,1319.75 L433.4,1319.1 L434.4,1318.46 L435.4,1317.83 L436.4,1317.21 L437.4,1316.6 L438.4,1315.99 L439.4,1315.39 L440.4,1314.79 L441.4,1314.2 L442.4,1313.62 L443.4,1313.04 L444.4,1312.47 L445.4,1311.9 L446.4,1311.34 L447.4,1310.78 L448.4,1310.23 L449.4,1309.68 L450.4,1309.14 L451.4,1308.6 L452.4,1308.06 L453.4,1307.53 L454.4,1307.01 L455.4,1306.48 L456.4,1305.96 L457.4,1305.44 L458.4,1304.93 L459.4,1304.42 L460.4,1303.91 L461.4,1303.4 L462.4,1302.89 L463.4,1302.39 L464.4,1301.89 L465.4,1301.39 L466.4,1300.89 L467.4,1300.39 L468.4,1299.89 L469.4,1299.39 L470.4,1298.9 L471.4,1298.4 L471.6,1298.3" fill="none" stroke="#a80a12" stroke-width="2" stroke-linejoin="round"/>
<circle cx="148.4" cy="1465.9" r="1.8" fill="#c01010" stroke="#140000" stroke-width="1"/>
<circle cx="202.27" cy="1460.2" r="1.8" fill="#c01010" stroke="#140000" stroke-width="1"/>
<circle cx="256.13" cy="1448.5" r="1.8" fill="#c01010" stroke="#140000" stroke-width="1"/>
<circle cx="310" cy="1411.6" r="1.8" fill="#c01010" stroke="#140000" stroke-width="1"/>
<circle cx="363.87" cy="1377.3" r="1.8" fill="#c01010" stroke="#140000" stroke-width="1"/>
<circle cx="417.73" cy="1330.2" r="1.8" fill="#c01010" stroke="#140000" stroke-width="1"/>
<circle cx="471.6" cy="1298.3" r="1.8" fill="#c01010" stroke="#140000" stroke-width="1"/>
<path d="M148.4,1464.4 L149.4,1464.3 L150.4,1464.21 L151.4,1464.11 L152.4,1464.01 L153.4,1463.92 L154.4,1463.82 L155.4,1463.72 L156.4,1463.63 L157.4,1463.53 L158.4,1463.43 L159.4,1463.34 L160.4,1463.24 L161.4,1463.14 L162.4,1463.05 L163.4,1462.95 L164.4,1462.86 L165.4,1462.76 L166.4,1462.67 L167.4,1462.57 L168.4,1462.48 L169.4,1462.38 L170.4,1462.29 L171.4,1462.19 L172.4,1462.1 L173.4,1462.01 L174.4,1461.91 L175.4,1461.82 L176.4,1461.73 L177.4,1461.64 L178.4,1461.55 L179.4,1461.46 L180.4,1461.36 L181.4,1461.27 L182.4,1461.18 L183.4,1461.09 L184.4,1461.01 L185.4,1460.92 L186.4,1460.83 L187.4,1460.74 L188.4,1460.65 L189.4,1460.57 L190.4,1460.48 L191.4,1460.39 L192.4,1460.31 L193.4,1460.22 L194.4,1460.14 L195.4,1460.06 L196.4,1459.97 L197.4,1459.89 L198.4,1459.81 L199.4,1459.73 L200.4,1459.65 L201.4,1459.57 L202.4,1459.49 L203.4,1459.41 L204.4,1459.33 L205.4,1459.25 L206.4,1459.18 L207.4,1459.1 L208.4,1459.02 L209.4,1458.93 L210.4,1458.85 L211.4,1458.77 L212.4,1458.68 L213.4,1458.59 L214.4,1458.5 L215.4,1458.4 L216.4,1458.3 L217.4,1458.2 L218.4,1458.09 L219.4,1457.98 L220.4,1457.87 L221.4,1457.74 L222.4,1457.62 L223.4,1457.49 L224.4,1457.35 L225.4,1457.2 L226.4,1457.05 L227.4,1456.89 L228.4,1456.73 L229.4,1456.55 L230.4,1456.37 L231.4,1456.18 L232.4,1455.99 L233.4,1455.78 L234.4,1455.56 L235.4,1455.34 L236.4,1455.1 L237.4,1454.86 L238.4,1454.6 L239.4,1454.34 L240.4,1454.06 L241.4,1453.77 L242.4,1453.47 L243.4,1453.16 L244.4,1452.84 L245.4,1452.5 L246.4,1452.15 L247.4,1451.78 L248.4,1451.41 L249.4,1451.02 L250.4,1450.61 L251.4,1450.19 L252.4,1449.76 L253.4,1449.31 L254.4,1448.84 L255.4,1448.36 L256.4,1447.87 L257.4,1447.35 L258.4,1446.82 L259.4,1446.28 L260.4,1445.72 L261.4,1445.15 L262.4,1444.56 L263.4,1443.96 L264.4,1443.35 L265.4,1442.72 L266.4,1442.09 L267.4,1441.44 L268.4,1440.78 L269.4,1440.11 L270.4,1439.43 L271.4,1438.74 L272.4,1438.04 L273.4,1437.34 L274.4,1436.62 L275.4,1435.9 L276.4,1435.17 L277.4,1434.44 L278.4,1433.7 L279.4,1432.95 L280.4,1432.2 L281.4,1431.44 L282.4,1430.68 L283.4,1429.92 L284.4,1429.15 L285.4,1428.38 L286.4,1427.61 L287.4,1426.84 L288.4,1426.07 L289.4,1425.29 L290.4,1424.52 L291.4,1423.74 L292.4,1422.97 L293.4,1422.2 L294.4,1421.42 L295.4,1420.66 L296.4,1419.89 L297.4,1419.13 L298.4,1418.37 L299.4,1417.61 L300.4,1416.86 L301.4,1416.12 L302.4,1415.38 L303.4,1414.65 L304.4,1413.92 L305.4,1413.2 L306.4,1412.49 L307.4,1411.79 L308.4,1411.09 L309.4,1410.41 L310.4,1409.73 L311.4,1409.06 L312.4,1408.41 L313.4,1407.76 L314.4,1407.12 L315.4,1406.49 L316.4,1405.86 L317.4,1405.24 L318.4,1404.63 L319.4,1404.03 L320.4,1403.43 L321.4,1402.84 L322.4,1402.25 L323.4,1401.67 L324.4,1401.09 L325.4,1400.51 L326.4,1399.94 L327.4,1399.37 L328.4,1398.81 L329.4,1398.24 L330.4,1397.68 L331.4,1397.12 L332.4,1396.56 L333.4,1396 L334.4,1395.44 L335.4,1394.88 L336.4,1394.32 L337.4,1393.76 L338.4,1393.19 L339.4,1392.63 L340.4,1392.06 L341.4,1391.49 L342.4,1390.92 L343.4,1390.34 L344.4,1389.76 L345.4,1389.17 L346.4,1388.58 L347.4,1387.98 L348.4,1387.38 L349.4,1386.77 L350.4,1386.15 L351.4,1385.53 L352.4,1384.9 L353.4,1384.26 L354.4,1383.61 L355.4,1382.96 L356.4,1382.29 L357.4,1381.62 L358.4,1380.94 L359.4,1380.24 L360.4,1379.54 L361.4,1378.82 L362.4,1378.09 L363.4,1377.35 L364.4,1376.6 L365.4,1375.83 L366.4,1375.05 L367.4,1374.26 L368.4,1373.46 L369.4,1372.65 L370.4,1371.83 L371.4,1371 L372.4,1370.16 L373.4,1369.31 L374.4,1368.45 L375.4,1367.59 L376.4,1366.72 L377.4,1365.83 L378.4,1364.95 L379.4,1364.05 L380.4,1363.15 L381.4,1362.25 L382.4,1361.34 L383.4,1360.43 L384.4,1359.51 L385.4,1358.59 L386.4,1357.66 L387.4,1356.73 L388.4,1355.8 L389.4,1354.87 L390.4,1353.94 L391.4,1353.01 L392.4,1352.07 L393.4,1351.14 L394.4,1350.2 L395.4,1349.27 L396.4,1348.34 L397.4,1347.41 L398.4,1346.48 L399.4,1345.56 L400.4,1344.63 L401.4,1343.72 L402.4,1342.8 L403.4,1341.89 L404.4,1340.99 L405.4,1340.09 L406.4,1339.19 L407.4,1338.3 L408.4,1337.42 L409.4,1336.55 L410.4,1335.68 L411.4,1334.82 L412.4,1333.97 L413.4,1333.13 L414.4,1332.3 L415.4,1331.48 L416.4,1330.67 L417.4,1329.86 L418.4,1329.07 L419.4,1328.3 L420.4,1327.53 L421.4,1326.77 L422.4,1326.02 L423.4,1325.28 L424.4,1324.56 L425.4,1323.84 L426.4,1323.13 L427.4,1322.44 L428.4,1321.75 L429.4,1321.07 L430.4,1320.4 L431.4,1319.73 L432.4,1319.08 L433.4,1318.43 L434.4,1317.8 L435.4,1317.17 L436.4,1316.54 L437.4,1315.93 L438.4,1315.32 L439.4,1314.72 L440.4,1314.13 L441.4,1313.54 L442.4,1312.96 L443.4,1312.38 L444.4,1311.81 L445.4,1311.25 L446.4,1310.69 L447.4,1310.14 L448.4,1309.59 L449.4,1309.05 L450.4,1308.51 L451.4,1307.97 L452.4,1307.44 L453.4,1306.92 L454.4,1306.39 L455.4,1305.88 L456.4,1305.36 L457.4,1304.85 L458.4,1304.34 L459.4,1303.83 L460.4,1303.33 L461.4,1302.83 L462.4,1302.33 L463.4,1301.83 L464.4,1301.34 L465.4,1300.84 L466.4,1300.35 L467.4,1299.86 L468.4,1299.37 L469.4,1298.88 L470.4,1298.39 L471.4,1297.9 L471.6,1297.8" fill="none" stroke="#cc8430" stroke-width="2" stroke-linejoin="round"/>
<circle cx="148.4" cy="1464.4" r="1.8" fill="#e08a20" stroke="#140000" stroke-width="1"/>
<circle cx="202.27" cy="1459.5" r="1.8" fill="#e08a20" stroke="#140000" stroke-width="1"/>
<circle cx="256.13" cy="1448" r="1.8" fill="#e08a20" stroke="#140000" stroke-width="1"/>
<circle cx="310" cy="1410" r="1.8" fill="#e08a20" stroke="#140000" stroke-width="1"/>
<circle cx="363.87" cy="1377" r="1.8" fill="#e08a20" stroke="#140000" stroke-width="1"/>
<circle cx="417.73" cy="1329.6" r="1.8" fill="#e08a20" stroke="#140000" stroke-width="1"/>
<circle cx="471.6" cy="1297.8" r="1.8" fill="#e08a20" stroke="#140000" stroke-width="1"/>
<path d="M148.4,1463 L149.4,1462.9 L150.4,1462.8 L151.4,1462.7 L152.4,1462.6 L153.4,1462.5 L154.4,1462.4 L155.4,1462.3 L156.4,1462.2 L157.4,1462.11 L158.4,1462.01 L159.4,1461.91 L160.4,1461.81 L161.4,1461.71 L162.4,1461.61 L163.4,1461.52 L164.4,1461.42 L165.4,1461.32 L166.4,1461.23 L167.4,1461.13 L168.4,1461.03 L169.4,1460.94 L170.4,1460.84 L171.4,1460.75 L172.4,1460.66 L173.4,1460.56 L174.4,1460.47 L175.4,1460.38 L176.4,1460.29 L177.4,1460.2 L178.4,1460.11 L179.4,1460.02 L180.4,1459.93 L181.4,1459.84 L182.4,1459.75 L183.4,1459.67 L184.4,1459.58 L185.4,1459.5 L186.4,1459.41 L187.4,1459.33 L188.4,1459.25 L189.4,1459.16 L190.4,1459.08 L191.4,1459 L192.4,1458.92 L193.4,1458.85 L194.4,1458.77 L195.4,1458.69 L196.4,1458.62 L197.4,1458.54 L198.4,1458.47 L199.4,1458.4 L200.4,1458.33 L201.4,1458.26 L202.4,1458.19 L203.4,1458.12 L204.4,1458.06 L205.4,1457.99 L206.4,1457.93 L207.4,1457.86 L208.4,1457.79 L209.4,1457.73 L210.4,1457.66 L211.4,1457.59 L212.4,1457.51 L213.4,1457.44 L214.4,1457.36 L215.4,1457.28 L216.4,1457.2 L217.4,1457.11 L218.4,1457.02 L219.4,1456.92 L220.4,1456.82 L221.4,1456.72 L222.4,1456.61 L223.4,1456.49 L224.4,1456.37 L225.4,1456.24 L226.4,1456.1 L227.4,1455.96 L228.4,1455.81 L229.4,1455.65 L230.4,1455.48 L231.4,1455.31 L232.4,1455.12 L233.4,1454.93 L234.4,1454.73 L235.4,1454.52 L236.4,1454.29 L237.4,1454.06 L238.4,1453.82 L239.4,1453.56 L240.4,1453.29 L241.4,1453.01 L242.4,1452.72 L243.4,1452.42 L244.4,1452.1 L245.4,1451.77 L246.4,1451.43 L247.4,1451.07 L248.4,1450.7 L249.4,1450.31 L250.4,1449.91 L251.4,1449.49 L252.4,1449.06 L253.4,1448.61 L254.4,1448.15 L255.4,1447.66 L256.4,1447.17 L257.4,1446.65 L258.4,1446.12 L259.4,1445.57 L260.4,1445 L261.4,1444.42 L262.4,1443.83 L263.4,1443.22 L264.4,1442.6 L265.4,1441.96 L266.4,1441.31 L267.4,1440.66 L268.4,1439.98 L269.4,1439.3 L270.4,1438.61 L271.4,1437.91 L272.4,1437.2 L273.4,1436.48 L274.4,1435.75 L275.4,1435.01 L276.4,1434.27 L277.4,1433.52 L278.4,1432.76 L279.4,1432 L280.4,1431.23 L281.4,1430.46 L282.4,1429.68 L283.4,1428.91 L284.4,1428.12 L285.4,1427.34 L286.4,1426.55 L287.4,1425.76 L288.4,1424.97 L289.4,1424.18 L290.4,1423.39 L291.4,1422.6 L292.4,1421.82 L293.4,1421.03 L294.4,1420.25 L295.4,1419.46 L296.4,1418.69 L297.4,1417.91 L298.4,1417.14 L299.4,1416.38 L300.4,1415.62 L301.4,1414.86 L302.4,1414.12 L303.4,1413.38 L304.4,1412.64 L305.4,1411.92 L306.4,1411.2 L307.4,1410.49 L308.4,1409.8 L309.4,1409.11 L310.4,1408.43 L311.4,1407.76 L312.4,1407.11 L313.4,1406.46 L314.4,1405.82 L315.4,1405.2 L316.4,1404.58 L317.4,1403.96 L318.4,1403.36 L319.4,1402.76 L320.4,1402.17 L321.4,1401.59 L322.4,1401.01 L323.4,1400.44 L324.4,1399.87 L325.4,1399.31 L326.4,1398.75 L327.4,1398.19 L328.4,1397.64 L329.4,1397.09 L330.4,1396.54 L331.4,1395.99 L332.4,1395.45 L333.4,1394.91 L334.4,1394.36 L335.4,1393.82 L336.4,1393.27 L337.4,1392.73 L338.4,1392.18 L339.4,1391.63 L340.4,1391.08 L341.4,1390.53 L342.4,1389.97 L343.4,1389.41 L344.4,1388.85 L345.4,1388.28 L346.4,1387.7 L347.4,1387.12 L348.4,1386.54 L349.4,1385.95 L350.4,1385.35 L351.4,1384.74 L352.4,1384.13 L353.4,1383.51 L354.4,1382.88 L355.4,1382.24 L356.4,1381.59 L357.4,1380.93 L358.4,1380.26 L359.4,1379.58 L360.4,1378.89 L361.4,1378.19 L362.4,1377.47 L363.4,1376.74 L364.4,1376 L365.4,1375.25 L366.4,1374.48 L367.4,1373.7 L368.4,1372.91 L369.4,1372.11 L370.4,1371.3 L371.4,1370.48 L372.4,1369.64 L373.4,1368.8 L374.4,1367.95 L375.4,1367.09 L376.4,1366.22 L377.4,1365.35 L378.4,1364.47 L379.4,1363.58 L380.4,1362.68 L381.4,1361.78 L382.4,1360.88 L383.4,1359.96 L384.4,1359.05 L385.4,1358.13 L386.4,1357.21 L387.4,1356.28 L388.4,1355.35 L389.4,1354.42 L390.4,1353.49 L391.4,1352.56 L392.4,1351.62 L393.4,1350.69 L394.4,1349.75 L395.4,1348.82 L396.4,1347.89 L397.4,1346.96 L398.4,1346.03 L399.4,1345.1 L400.4,1344.18 L401.4,1343.26 L402.4,1342.34 L403.4,1341.43 L404.4,1340.52 L405.4,1339.62 L406.4,1338.72 L407.4,1337.83 L408.4,1336.95 L409.4,1336.07 L410.4,1335.2 L411.4,1334.34 L412.4,1333.49 L413.4,1332.64 L414.4,1331.81 L415.4,1330.98 L416.4,1330.17 L417.4,1329.37 L418.4,1328.57 L419.4,1327.79 L420.4,1327.02 L421.4,1326.26 L422.4,1325.51 L423.4,1324.77 L424.4,1324.04 L425.4,1323.32 L426.4,1322.61 L427.4,1321.91 L428.4,1321.22 L429.4,1320.54 L430.4,1319.87 L431.4,1319.2 L432.4,1318.55 L433.4,1317.9 L434.4,1317.26 L435.4,1316.63 L436.4,1316 L437.4,1315.38 L438.4,1314.77 L439.4,1314.17 L440.4,1313.58 L441.4,1312.99 L442.4,1312.4 L443.4,1311.83 L444.4,1311.25 L445.4,1310.69 L446.4,1310.13 L447.4,1309.57 L448.4,1309.02 L449.4,1308.48 L450.4,1307.94 L451.4,1307.4 L452.4,1306.87 L453.4,1306.34 L454.4,1305.82 L455.4,1305.3 L456.4,1304.78 L457.4,1304.27 L458.4,1303.76 L459.4,1303.25 L460.4,1302.75 L461.4,1302.24 L462.4,1301.74 L463.4,1301.24 L464.4,1300.75 L465.4,1300.25 L466.4,1299.76 L467.4,1299.26 L468.4,1298.77 L469.4,1298.28 L470.4,1297.79 L471.4,1297.3 L471.6,1297.2" fill="none" stroke="#36bc36" stroke-width="2" stroke-linejoin="round"/>
<circle cx="148.4" cy="1463" r="1.8" fill="#30c830" stroke="#140000" stroke-width="1"/>
<circle cx="202.27" cy="1458.2" r="1.8" fill="#30c830" stroke="#140000" stroke-width="1"/>
<circle cx="256.13" cy="1447.3" r="1.8" fill="#30c830" stroke="#140000" stroke-width="1"/>
<circle cx="310" cy="1408.7" r="1.8" fill="#30c830" stroke="#140000" stroke-width="1"/>
<circle cx="363.87" cy="1376.4" r="1.8" fill="#30c830" stroke="#140000" stroke-width="1"/>
<circle cx="417.73" cy="1329.1" r="1.8" fill="#30c830" stroke="#140000" stroke-width="1"/>
<circle cx="471.6" cy="1297.2" r="1.8" fill="#30c830" stroke="#140000" stroke-width="1"/>
<path d="M148.4,1459.2 L149.4,1459.17 L150.4,1459.13 L151.4,1459.1 L152.4,1459.06 L153.4,1459.03 L154.4,1458.99 L155.4,1458.95 L156.4,1458.92 L157.4,1458.88 L158.4,1458.84 L159.4,1458.8 L160.4,1458.75 L161.4,1458.71 L162.4,1458.66 L163.4,1458.61 L164.4,1458.56 L165.4,1458.51 L166.4,1458.45 L167.4,1458.39 L168.4,1458.33 L169.4,1458.27 L170.4,1458.2 L171.4,1458.13 L172.4,1458.06 L173.4,1457.98 L174.4,1457.9 L175.4,1457.82 L176.4,1457.73 L177.4,1457.64 L178.4,1457.55 L179.4,1457.45 L180.4,1457.34 L181.4,1457.24 L182.4,1457.12 L183.4,1457 L184.4,1456.88 L185.4,1456.75 L186.4,1456.62 L187.4,1456.48 L188.4,1456.34 L189.4,1456.19 L190.4,1456.03 L191.4,1455.87 L192.4,1455.71 L193.4,1455.53 L194.4,1455.35 L195.4,1455.17 L196.4,1454.97 L197.4,1454.77 L198.4,1454.57 L199.4,1454.35 L200.4,1454.13 L201.4,1453.9 L202.4,1453.67 L203.4,1453.42 L204.4,1453.17 L205.4,1452.92 L206.4,1452.65 L207.4,1452.38 L208.4,1452.1 L209.4,1451.81 L210.4,1451.52 L211.4,1451.22 L212.4,1450.91 L213.4,1450.6 L214.4,1450.28 L215.4,1449.95 L216.4,1449.62 L217.4,1449.28 L218.4,1448.93 L219.4,1448.58 L220.4,1448.22 L221.4,1447.86 L222.4,1447.49 L223.4,1447.11 L224.4,1446.73 L225.4,1446.34 L226.4,1445.95 L227.4,1445.55 L228.4,1445.15 L229.4,1444.74 L230.4,1444.33 L231.4,1443.91 L232.4,1443.48 L233.4,1443.05 L234.4,1442.62 L235.4,1442.18 L236.4,1441.74 L237.4,1441.29 L238.4,1440.84 L239.4,1440.39 L240.4,1439.93 L241.4,1439.46 L242.4,1438.99 L243.4,1438.52 L244.4,1438.05 L245.4,1437.57 L246.4,1437.08 L247.4,1436.59 L248.4,1436.1 L249.4,1435.61 L250.4,1435.11 L251.4,1434.61 L252.4,1434.11 L253.4,1433.6 L254.4,1433.09 L255.4,1432.58 L256.4,1432.06 L257.4,1431.54 L258.4,1431.02 L259.4,1430.5 L260.4,1429.97 L261.4,1429.44 L262.4,1428.91 L263.4,1428.38 L264.4,1427.84 L265.4,1427.3 L266.4,1426.76 L267.4,1426.22 L268.4,1425.67 L269.4,1425.13 L270.4,1424.58 L271.4,1424.02 L272.4,1423.47 L273.4,1422.91 L274.4,1422.36 L275.4,1421.8 L276.4,1421.23 L277.4,1420.67 L278.4,1420.1 L279.4,1419.54 L280.4,1418.97 L281.4,1418.4 L282.4,1417.82 L283.4,1417.25 L284.4,1416.67 L285.4,1416.09 L286.4,1415.51 L287.4,1414.93 L288.4,1414.35 L289.4,1413.77 L290.4,1413.18 L291.4,1412.6 L292.4,1412.01 L293.4,1411.42 L294.4,1410.83 L295.4,1410.24 L296.4,1409.65 L297.4,1409.05 L298.4,1408.46 L299.4,1407.86 L300.4,1407.27 L301.4,1406.67 L302.4,1406.07 L303.4,1405.47 L304.4,1404.87 L305.4,1404.27 L306.4,1403.67 L307.4,1403.07 L308.4,1402.47 L309.4,1401.86 L310.4,1401.26 L311.4,1400.65 L312.4,1400.05 L313.4,1399.44 L314.4,1398.84 L315.4,1398.23 L316.4,1397.62 L317.4,1397.02 L318.4,1396.41 L319.4,1395.8 L320.4,1395.19 L321.4,1394.57 L322.4,1393.96 L323.4,1393.35 L324.4,1392.73 L325.4,1392.12 L326.4,1391.5 L327.4,1390.88 L328.4,1390.26 L329.4,1389.64 L330.4,1389.02 L331.4,1388.4 L332.4,1387.77 L333.4,1387.15 L334.4,1386.52 L335.4,1385.89 L336.4,1385.26 L337.4,1384.63 L338.4,1383.99 L339.4,1383.36 L340.4,1382.72 L341.4,1382.08 L342.4,1381.44 L343.4,1380.8 L344.4,1380.16 L345.4,1379.51 L346.4,1378.86 L347.4,1378.21 L348.4,1377.56 L349.4,1376.91 L350.4,1376.25 L351.4,1375.59 L352.4,1374.93 L353.4,1374.27 L354.4,1373.61 L355.4,1372.94 L356.4,1372.27 L357.4,1371.6 L358.4,1370.93 L359.4,1370.25 L360.4,1369.57 L361.4,1368.89 L362.4,1368.21 L363.4,1367.52 L364.4,1366.83 L365.4,1366.14 L366.4,1365.45 L367.4,1364.75 L368.4,1364.05 L369.4,1363.35 L370.4,1362.64 L371.4,1361.94 L372.4,1361.23 L373.4,1360.51 L374.4,1359.8 L375.4,1359.08 L376.4,1358.36 L377.4,1357.64 L378.4,1356.91 L379.4,1356.18 L380.4,1355.45 L381.4,1354.71 L382.4,1353.98 L383.4,1353.24 L384.4,1352.49 L385.4,1351.75 L386.4,1351 L387.4,1350.25 L388.4,1349.49 L389.4,1348.74 L390.4,1347.98 L391.4,1347.22 L392.4,1346.45 L393.4,1345.68 L394.4,1344.91 L395.4,1344.14 L396.4,1343.36 L397.4,1342.58 L398.4,1341.8 L399.4,1341.01 L400.4,1340.23 L401.4,1339.43 L402.4,1338.64 L403.4,1337.84 L404.4,1337.04 L405.4,1336.24 L406.4,1335.44 L407.4,1334.63 L408.4,1333.82 L409.4,1333 L410.4,1332.18 L411.4,1331.36 L412.4,1330.54 L413.4,1329.71 L414.4,1328.89 L415.4,1328.05 L416.4,1327.22 L417.4,1326.38 L418.4,1325.54 L419.4,1324.69 L420.4,1323.85 L421.4,1323 L422.4,1322.14 L423.4,1321.29 L424.4,1320.43 L425.4,1319.57 L426.4,1318.71 L427.4,1317.84 L428.4,1316.97 L429.4,1316.1 L430.4,1315.23 L431.4,1314.35 L432.4,1313.47 L433.4,1312.59 L434.4,1311.71 L435.4,1310.83 L436.4,1309.94 L437.4,1309.05 L438.4,1308.16 L439.4,1307.27 L440.4,1306.38 L441.4,1305.48 L442.4,1304.59 L443.4,1303.69 L444.4,1302.79 L445.4,1301.88 L446.4,1300.98 L447.4,1300.08 L448.4,1299.17 L449.4,1298.26 L450.4,1297.35 L451.4,1296.44 L452.4,1295.53 L453.4,1294.62 L454.4,1293.71 L455.4,1292.79 L456.4,1291.88 L457.4,1290.96 L458.4,1290.05 L459.4,1289.13 L460.4,1288.21 L461.4,1287.29 L462.4,1286.37 L463.4,1285.45 L464.4,1284.53 L465.4,1283.61 L466.4,1282.69 L467.4,1281.77 L468.4,1280.85 L469.4,1279.93 L470.4,1279.01 L471.4,1278.08 L471.6,1277.9" fill="none" stroke="#40d0d0" stroke-width="2" stroke-linejoin="round"/>
<circle cx="148.4" cy="1459.2" r="1.8" fill="#30dcdc" stroke="#140000" stroke-width="1"/>
<circle cx="202.27" cy="1453.7" r="1.8" fill="#30dcdc" stroke="#140000" stroke-width="1"/>
<circle cx="256.13" cy="1432.2" r="1.8" fill="#30dcdc" stroke="#140000" stroke-width="1"/>
<circle cx="310" cy="1401.5" r="1.8" fill="#30dcdc" stroke="#140000" stroke-width="1"/>
<circle cx="363.87" cy="1367.2" r="1.8" fill="#30dcdc" stroke="#140000" stroke-width="1"/>
<circle cx="417.73" cy="1326.1" r="1.8" fill="#30dcdc" stroke="#140000" stroke-width="1"/>
<circle cx="471.6" cy="1277.9" r="1.8" fill="#30dcdc" stroke="#140000" stroke-width="1"/>
<path d="M148.4,1449.6 L149.4,1449.56 L150.4,1449.51 L151.4,1449.44 L152.4,1449.36 L153.4,1449.28 L154.4,1449.17 L155.4,1449.06 L156.4,1448.93 L157.4,1448.8 L158.4,1448.65 L159.4,1448.49 L160.4,1448.31 L161.4,1448.13 L162.4,1447.94 L163.4,1447.73 L164.4,1447.52 L165.4,1447.29 L166.4,1447.05 L167.4,1446.8 L168.4,1446.55 L169.4,1446.28 L170.4,1446 L171.4,1445.71 L172.4,1445.41 L173.4,1445.1 L174.4,1444.79 L175.4,1444.46 L176.4,1444.12 L177.4,1443.78 L178.4,1443.42 L179.4,1443.06 L180.4,1442.69 L181.4,1442.31 L182.4,1441.92 L183.4,1441.52 L184.4,1441.11 L185.4,1440.7 L186.4,1440.28 L187.4,1439.85 L188.4,1439.41 L189.4,1438.96 L190.4,1438.51 L191.4,1438.05 L192.4,1437.58 L193.4,1437.11 L194.4,1436.62 L195.4,1436.13 L196.4,1435.64 L197.4,1435.14 L198.4,1434.63 L199.4,1434.11 L200.4,1433.59 L201.4,1433.06 L202.4,1432.53 L203.4,1431.99 L204.4,1431.44 L205.4,1430.89 L206.4,1430.34 L207.4,1429.77 L208.4,1429.21 L209.4,1428.63 L210.4,1428.06 L211.4,1427.48 L212.4,1426.89 L213.4,1426.3 L214.4,1425.7 L215.4,1425.1 L216.4,1424.5 L217.4,1423.89 L218.4,1423.28 L219.4,1422.66 L220.4,1422.04 L221.4,1421.42 L222.4,1420.79 L223.4,1420.16 L224.4,1419.52 L225.4,1418.89 L226.4,1418.25 L227.4,1417.61 L228.4,1416.96 L229.4,1416.31 L230.4,1415.66 L231.4,1415.01 L232.4,1414.36 L233.4,1413.7 L234.4,1413.04 L235.4,1412.38 L236.4,1411.72 L237.4,1411.05 L238.4,1410.39 L239.4,1409.72 L240.4,1409.06 L241.4,1408.39 L242.4,1407.72 L243.4,1407.05 L244.4,1406.38 L245.4,1405.71 L246.4,1405.03 L247.4,1404.36 L248.4,1403.69 L249.4,1403.02 L250.4,1402.34 L251.4,1401.67 L252.4,1401 L253.4,1400.33 L254.4,1399.66 L255.4,1398.99 L256.4,1398.32 L257.4,1397.65 L258.4,1396.99 L259.4,1396.32 L260.4,1395.66 L261.4,1394.99 L262.4,1394.33 L263.4,1393.66 L264.4,1393 L265.4,1392.34 L266.4,1391.67 L267.4,1391.01 L268.4,1390.35 L269.4,1389.68 L270.4,1389.02 L271.4,1388.36 L272.4,1387.7 L273.4,1387.03 L274.4,1386.37 L275.4,1385.7 L276.4,1385.04 L277.4,1384.37 L278.4,1383.71 L279.4,1383.04 L280.4,1382.37 L281.4,1381.7 L282.4,1381.03 L283.4,1380.36 L284.4,1379.69 L285.4,1379.01 L286.4,1378.34 L287.4,1377.66 L288.4,1376.98 L289.4,1376.3 L290.4,1375.62 L291.4,1374.94 L292.4,1374.25 L293.4,1373.57 L294.4,1372.88 L295.4,1372.19 L296.4,1371.49 L297.4,1370.8 L298.4,1370.1 L299.4,1369.4 L300.4,1368.69 L301.4,1367.99 L302.4,1367.28 L303.4,1366.57 L304.4,1365.85 L305.4,1365.14 L306.4,1364.42 L307.4,1363.69 L308.4,1362.97 L309.4,1362.24 L310.4,1361.51 L311.4,1360.77 L312.4,1360.03 L313.4,1359.29 L314.4,1358.54 L315.4,1357.79 L316.4,1357.04 L317.4,1356.28 L318.4,1355.52 L319.4,1354.76 L320.4,1354 L321.4,1353.23 L322.4,1352.45 L323.4,1351.68 L324.4,1350.9 L325.4,1350.12 L326.4,1349.33 L327.4,1348.54 L328.4,1347.75 L329.4,1346.95 L330.4,1346.16 L331.4,1345.35 L332.4,1344.55 L333.4,1343.74 L334.4,1342.93 L335.4,1342.11 L336.4,1341.3 L337.4,1340.47 L338.4,1339.65 L339.4,1338.82 L340.4,1337.99 L341.4,1337.16 L342.4,1336.32 L343.4,1335.48 L344.4,1334.64 L345.4,1333.79 L346.4,1332.94 L347.4,1332.09 L348.4,1331.23 L349.4,1330.37 L350.4,1329.51 L351.4,1328.65 L352.4,1327.78 L353.4,1326.91 L354.4,1326.03 L355.4,1325.15 L356.4,1324.27 L357.4,1323.39 L358.4,1322.5 L359.4,1321.61 L360.4,1320.72 L361.4,1319.82 L362.4,1318.92 L363.4,1318.02 L364.4,1317.12 L365.4,1316.21 L366.4,1315.3 L367.4,1314.38 L368.4,1313.47 L369.4,1312.55 L370.4,1311.62 L371.4,1310.69 L372.4,1309.76 L373.4,1308.83 L374.4,1307.89 L375.4,1306.95 L376.4,1306.01 L377.4,1305.06 L378.4,1304.11 L379.4,1303.15 L380.4,1302.19 L381.4,1301.23 L382.4,1300.27 L383.4,1299.3 L384.4,1298.32 L385.4,1297.34 L386.4,1296.36 L387.4,1295.38 L388.4,1294.39 L389.4,1293.4 L390.4,1292.4 L391.4,1291.4 L392.4,1290.39 L393.4,1289.38 L394.4,1288.37 L395.4,1287.35 L396.4,1286.32 L397.4,1285.3 L398.4,1284.27 L399.4,1283.23 L400.4,1282.19 L401.4,1281.14 L402.4,1280.09 L403.4,1279.04 L404.4,1277.98 L405.4,1276.92 L406.4,1275.85 L407.4,1274.78 L408.4,1273.7 L409.4,1272.62 L410.4,1271.53 L411.4,1270.44 L412.4,1269.34 L413.4,1268.24 L414.4,1267.13 L415.4,1266.02 L416.4,1264.9 L417.4,1263.78 L418.4,1262.65 L419.4,1261.51 L420.4,1260.37 L421.4,1259.23 L422.4,1258.08 L423.4,1256.93 L424.4,1255.77 L425.4,1254.6 L426.4,1253.43 L427.4,1252.25 L428.4,1251.07 L429.4,1249.88 L430.4,1248.69 L431.4,1247.49 L432.4,1246.28 L433.4,1245.07 L434.4,1243.85 L435.4,1242.63 L436.4,1241.4 L437.4,1240.16 L438.4,1238.92 L439.4,1237.67 L440.4,1236.42 L441.4,1235.16 L442.4,1233.9 L443.4,1232.62 L444.4,1231.34 L445.4,1230.06 L446.4,1228.77 L447.4,1227.47 L448.4,1226.17 L449.4,1224.86 L450.4,1223.54 L451.4,1222.22 L452.4,1220.88 L453.4,1219.55 L454.4,1218.2 L455.4,1216.85 L456.4,1215.5 L457.4,1214.13 L458.4,1212.76 L459.4,1211.38 L460.4,1210 L461.4,1208.61 L462.4,1207.21 L463.4,1205.8 L464.4,1204.39 L465.4,1202.97 L466.4,1201.54 L467.4,1200.11 L468.4,1198.66 L469.4,1197.21 L470.4,1195.76 L471.4,1194.29 L471.6,1194" fill="none" stroke="#00008c" stroke-width="2" stroke-linejoin="round"/>
<circle cx="148.4" cy="1449.6" r="1.8" fill="#1a1a8a" stroke="#140000" stroke-width="1"/>
<circle cx="202.27" cy="1432.6" r="1.8" fill="#1a1a8a" stroke="#140000" stroke-width="1"/>
<circle cx="256.13" cy="1398.5" r="1.8" fill="#1a1a8a" stroke="#140000" stroke-width="1"/>
<circle cx="310" cy="1361.8" r="1.8" fill="#1a1a8a" stroke="#140000" stroke-width="1"/>
<circle cx="363.87" cy="1317.6" r="1.8" fill="#1a1a8a" stroke="#140000" stroke-width="1"/>
<circle cx="417.73" cy="1263.4" r="1.8" fill="#1a1a8a" stroke="#140000" stroke-width="1"/>
<circle cx="471.6" cy="1194" r="1.8" fill="#1a1a8a" stroke="#140000" stroke-width="1"/>
<rect x="494" y="1149" width="115" height="1" fill="#333"/>
<rect x="494" y="1316" width="115" height="1" fill="#333"/>
<rect x="494" y="1149" width="1" height="168" fill="#333"/>
<rect x="608" y="1149" width="1" height="168" fill="#333"/>
<rect x="508" y="1172" width="44" height="2" fill="#a80a12"/>
<circle cx="529.5" cy="1173.25" r="1.8" fill="#c01010" stroke="#140000" stroke-width="1"/>
<text x="561.5" y="1179.3" font-size="18.5" text-anchor="start" fill="#111" >4K</text>
<rect x="508" y="1196" width="44" height="2" fill="#cc8430"/>
<circle cx="529.5" cy="1196.95" r="1.8" fill="#e08a20" stroke="#140000" stroke-width="1"/>
<text x="561.5" y="1203" font-size="18.5" text-anchor="start" fill="#111" >8K</text>
<rect x="508" y="1220" width="44" height="2" fill="#36bc36"/>
<circle cx="529.5" cy="1220.65" r="1.8" fill="#30c830" stroke="#140000" stroke-width="1"/>
<text x="561.5" y="1226.7" font-size="18.5" text-anchor="start" fill="#111" >16K</text>
<rect x="508" y="1243" width="44" height="2" fill="#40d0d0"/>
<circle cx="529.5" cy="1244.35" r="1.8" fill="#30dcdc" stroke="#140000" stroke-width="1"/>
<text x="561.5" y="1250.4" font-size="18.5" text-anchor="start" fill="#111" >32K</text>
<rect x="508" y="1267" width="44" height="2" fill="#00008c"/>
<circle cx="529.5" cy="1268.05" r="1.8" fill="#1a1a8a" stroke="#140000" stroke-width="1"/>
<text x="561.5" y="1274.1" font-size="18.5" text-anchor="start" fill="#111" >64K</text>
<rect x="508" y="1291" width="44" height="2" fill="#4c0a4c"/>
<text x="561.5" y="1297.8" font-size="18.5" text-anchor="start" fill="#111" >1M</text>
<rect x="647" y="1429" width="323" height="1" fill="#c9c9c9"/>
<rect x="647" y="1383" width="323" height="1" fill="#c9c9c9"/>
<rect x="647" y="1337" width="323" height="1" fill="#c9c9c9"/>
<rect x="647" y="1290" width="323" height="1" fill="#c9c9c9"/>
<rect x="647" y="1245" width="323" height="1" fill="#c9c9c9"/>
<rect x="647" y="1198" width="323" height="1" fill="#c9c9c9"/>
<rect x="701" y="1153" width="1" height="323" fill="#c9c9c9"/>
<rect x="755" y="1153" width="1" height="323" fill="#c9c9c9"/>
<rect x="808" y="1153" width="1" height="323" fill="#c9c9c9"/>
<rect x="862" y="1153" width="1" height="323" fill="#c9c9c9"/>
<rect x="916" y="1153" width="1" height="323" fill="#c9c9c9"/>
<rect x="647" y="1152" width="323" height="2" fill="#8c8c8c"/>
<rect x="647" y="1152" width="1.2" height="331" fill="#333"/>
<rect x="969" y="1152" width="1.2" height="331" fill="#555"/>
<rect x="647" y="1476" width="333" height="1" fill="#333"/>
<rect x="970" y="1476" width="10" height="1" fill="#333"/>
<text x="987.7" y="1480.35" font-size="16" text-anchor="start" fill="#111" >0</text>
<rect x="970" y="1429" width="10" height="1" fill="#333"/>
<text x="987.7" y="1434.4" font-size="16" text-anchor="start" fill="#111" >100</text>
<rect x="970" y="1383" width="10" height="1" fill="#333"/>
<text x="987.7" y="1388.45" font-size="16" text-anchor="start" fill="#111" >200</text>
<rect x="970" y="1337" width="10" height="1" fill="#333"/>
<text x="987.7" y="1342.5" font-size="16" text-anchor="start" fill="#111" >300</text>
<rect x="970" y="1290" width="10" height="1" fill="#333"/>
<text x="987.7" y="1296.55" font-size="16" text-anchor="start" fill="#111" >400</text>
<rect x="970" y="1245" width="10" height="1" fill="#333"/>
<text x="987.7" y="1250.6" font-size="16" text-anchor="start" fill="#111" >500</text>
<rect x="970" y="1198" width="10" height="1" fill="#333"/>
<text x="987.7" y="1204.65" font-size="16" text-anchor="start" fill="#111" >600</text>
<rect x="970" y="1152" width="10" height="1" fill="#333"/>
<text x="987.7" y="1158.7" font-size="16" text-anchor="start" fill="#111" >700</text>
<rect x="701" y="1477" width="1" height="6" fill="#333"/>
<rect x="755" y="1477" width="1" height="6" fill="#333"/>
<rect x="808" y="1477" width="1" height="6" fill="#333"/>
<rect x="862" y="1477" width="1" height="6" fill="#333"/>
<rect x="916" y="1477" width="1" height="6" fill="#333"/>
<text x="647.4" y="1504.5" font-size="16" text-anchor="middle" fill="#111" >1</text>
<text x="701.1" y="1504.5" font-size="16" text-anchor="middle" fill="#111" >2</text>
<text x="754.8" y="1504.5" font-size="16" text-anchor="middle" fill="#111" >4</text>
<text x="808.5" y="1504.5" font-size="16" text-anchor="middle" fill="#111" >8</text>
<text x="862.2" y="1504.5" font-size="16" text-anchor="middle" fill="#111" >16</text>
<text x="915.9" y="1504.5" font-size="16" text-anchor="middle" fill="#111" >32</text>
<text x="969.6" y="1504.5" font-size="16" text-anchor="middle" fill="#111" >64</text>
<text x="808" y="1543" font-size="19.7" text-anchor="middle" fill="#111" >Jobs</text>
<text x="1051" y="1313.5" font-size="20.2" text-anchor="middle" fill="#111" transform="rotate(-90 1051 1313.5)">Read Latency, ms</text>
<path d="M647.4,1470.9 L648.4,1470.83 L649.4,1470.76 L650.4,1470.69 L651.4,1470.62 L652.4,1470.55 L653.4,1470.48 L654.4,1470.41 L655.4,1470.33 L656.4,1470.26 L657.4,1470.18 L658.4,1470.1 L659.4,1470.02 L660.4,1469.94 L661.4,1469.86 L662.4,1469.78 L663.4,1469.7 L664.4,1469.61 L665.4,1469.53 L666.4,1469.44 L667.4,1469.35 L668.4,1469.27 L669.4,1469.17 L670.4,1469.08 L671.4,1468.99 L672.4,1468.9 L673.4,1468.8 L674.4,1468.7 L675.4,1468.61 L676.4,1468.51 L677.4,1468.41 L678.4,1468.3 L679.4,1468.2 L680.4,1468.1 L681.4,1467.99 L682.4,1467.88 L683.4,1467.77 L684.4,1467.66 L685.4,1467.55 L686.4,1467.44 L687.4,1467.32 L688.4,1467.21 L689.4,1467.09 L690.4,1466.97 L691.4,1466.85 L692.4,1466.73 L693.4,1466.61 L694.4,1466.48 L695.4,1466.35 L696.4,1466.23 L697.4,1466.1 L698.4,1465.96 L699.4,1465.83 L700.4,1465.7 L701.4,1465.56 L702.4,1465.42 L703.4,1465.28 L704.4,1465.14 L705.4,1465 L706.4,1464.85 L707.4,1464.7 L708.4,1464.56 L709.4,1464.41 L710.4,1464.25 L711.4,1464.1 L712.4,1463.94 L713.4,1463.79 L714.4,1463.63 L715.4,1463.47 L716.4,1463.3 L717.4,1463.14 L718.4,1462.97 L719.4,1462.8 L720.4,1462.63 L721.4,1462.46 L722.4,1462.28 L723.4,1462.11 L724.4,1461.93 L725.4,1461.75 L726.4,1461.57 L727.4,1461.38 L728.4,1461.2 L729.4,1461.01 L730.4,1460.82 L731.4,1460.63 L732.4,1460.43 L733.4,1460.23 L734.4,1460.04 L735.4,1459.83 L736.4,1459.63 L737.4,1459.43 L738.4,1459.22 L739.4,1459.01 L740.4,1458.8 L741.4,1458.58 L742.4,1458.37 L743.4,1458.15 L744.4,1457.93 L745.4,1457.71 L746.4,1457.48 L747.4,1457.25 L748.4,1457.02 L749.4,1456.79 L750.4,1456.56 L751.4,1456.32 L752.4,1456.08 L753.4,1455.84 L754.4,1455.6 L755.4,1455.35 L756.4,1455.1 L757.4,1454.85 L758.4,1454.6 L759.4,1454.34 L760.4,1454.08 L761.4,1453.82 L762.4,1453.55 L763.4,1453.28 L764.4,1453.01 L765.4,1452.74 L766.4,1452.46 L767.4,1452.17 L768.4,1451.88 L769.4,1451.59 L770.4,1451.3 L771.4,1450.99 L772.4,1450.69 L773.4,1450.38 L774.4,1450.07 L775.4,1449.75 L776.4,1449.42 L777.4,1449.09 L778.4,1448.76 L779.4,1448.42 L780.4,1448.07 L781.4,1447.72 L782.4,1447.36 L783.4,1447 L784.4,1446.63 L785.4,1446.26 L786.4,1445.88 L787.4,1445.49 L788.4,1445.1 L789.4,1444.69 L790.4,1444.29 L791.4,1443.87 L792.4,1443.45 L793.4,1443.02 L794.4,1442.59 L795.4,1442.14 L796.4,1441.69 L797.4,1441.24 L798.4,1440.77 L799.4,1440.3 L800.4,1439.81 L801.4,1439.32 L802.4,1438.83 L803.4,1438.32 L804.4,1437.8 L805.4,1437.28 L806.4,1436.75 L807.4,1436.21 L808.4,1435.66 L809.4,1435.1 L810.4,1434.53 L811.4,1433.95 L812.4,1433.36 L813.4,1432.77 L814.4,1432.16 L815.4,1431.55 L816.4,1430.93 L817.4,1430.3 L818.4,1429.66 L819.4,1429.01 L820.4,1428.36 L821.4,1427.69 L822.4,1427.02 L823.4,1426.34 L824.4,1425.65 L825.4,1424.95 L826.4,1424.25 L827.4,1423.54 L828.4,1422.82 L829.4,1422.09 L830.4,1421.35 L831.4,1420.61 L832.4,1419.86 L833.4,1419.1 L834.4,1418.34 L835.4,1417.56 L836.4,1416.78 L837.4,1416 L838.4,1415.2 L839.4,1414.4 L840.4,1413.59 L841.4,1412.78 L842.4,1411.96 L843.4,1411.13 L844.4,1410.29 L845.4,1409.45 L846.4,1408.6 L847.4,1407.75 L848.4,1406.89 L849.4,1406.02 L850.4,1405.15 L851.4,1404.27 L852.4,1403.38 L853.4,1402.49 L854.4,1401.59 L855.4,1400.69 L856.4,1399.78 L857.4,1398.87 L858.4,1397.95 L859.4,1397.02 L860.4,1396.09 L861.4,1395.15 L862.4,1394.21 L863.4,1393.26 L864.4,1392.31 L865.4,1391.35 L866.4,1390.38 L867.4,1389.41 L868.4,1388.43 L869.4,1387.44 L870.4,1386.44 L871.4,1385.44 L872.4,1384.42 L873.4,1383.4 L874.4,1382.36 L875.4,1381.31 L876.4,1380.26 L877.4,1379.19 L878.4,1378.11 L879.4,1377.01 L880.4,1375.91 L881.4,1374.79 L882.4,1373.65 L883.4,1372.51 L884.4,1371.34 L885.4,1370.17 L886.4,1368.97 L887.4,1367.76 L888.4,1366.54 L889.4,1365.3 L890.4,1364.04 L891.4,1362.76 L892.4,1361.46 L893.4,1360.15 L894.4,1358.82 L895.4,1357.46 L896.4,1356.09 L897.4,1354.7 L898.4,1353.28 L899.4,1351.85 L900.4,1350.39 L901.4,1348.91 L902.4,1347.41 L903.4,1345.89 L904.4,1344.34 L905.4,1342.77 L906.4,1341.17 L907.4,1339.55 L908.4,1337.9 L909.4,1336.23 L910.4,1334.53 L911.4,1332.8 L912.4,1331.05 L913.4,1329.27 L914.4,1327.46 L915.4,1325.63 L916.4,1323.76 L917.4,1321.87 L918.4,1319.95 L919.4,1317.99 L920.4,1316.01 L921.4,1313.99 L922.4,1311.95 L923.4,1309.87 L924.4,1307.76 L925.4,1305.61 L926.4,1303.43 L927.4,1301.22 L928.4,1298.98 L929.4,1296.7 L930.4,1294.39 L931.4,1292.04 L932.4,1289.65 L933.4,1287.23 L934.4,1284.77 L935.4,1282.27 L936.4,1279.74 L937.4,1277.17 L938.4,1274.56 L939.4,1271.91 L940.4,1269.22 L941.4,1266.49 L942.4,1263.72 L943.4,1260.91 L944.4,1258.06 L945.4,1255.17 L946.4,1252.23 L947.4,1249.26 L948.4,1246.24 L949.4,1243.17 L950.4,1240.07 L951.4,1236.91 L952.4,1233.72 L953.4,1230.48 L954.4,1227.19 L955.4,1223.86 L956.4,1220.48 L957.4,1217.05 L958.4,1213.58 L959.4,1210.06 L960.4,1206.49 L961.4,1202.87 L962.4,1199.2 L963.4,1195.48 L964.4,1191.71 L965.4,1187.9 L966.4,1184.03 L967.4,1180.11 L968.4,1176.14 L969.4,1172.11 L969.6,1171.3" fill="none" stroke="#4c0a4c" stroke-width="1.5" stroke-linejoin="round"/>
<circle cx="647.4" cy="1470.9" r="2.4" fill="#3a003a" stroke="#140000" stroke-width="1"/>
<circle cx="701.1" cy="1465.6" r="2.4" fill="#3a003a" stroke="#140000" stroke-width="1"/>
<circle cx="754.8" cy="1455.5" r="2.4" fill="#3a003a" stroke="#140000" stroke-width="1"/>
<circle cx="808.5" cy="1435.6" r="2.4" fill="#3a003a" stroke="#140000" stroke-width="1"/>
<circle cx="862.2" cy="1394.4" r="2.4" fill="#3a003a" stroke="#140000" stroke-width="1"/>
<circle cx="915.9" cy="1324.7" r="2.4" fill="#3a003a" stroke="#140000" stroke-width="1"/>
<circle cx="969.6" cy="1171.3" r="2.4" fill="#3a003a" stroke="#140000" stroke-width="1"/>
</svg>
</body></html>
